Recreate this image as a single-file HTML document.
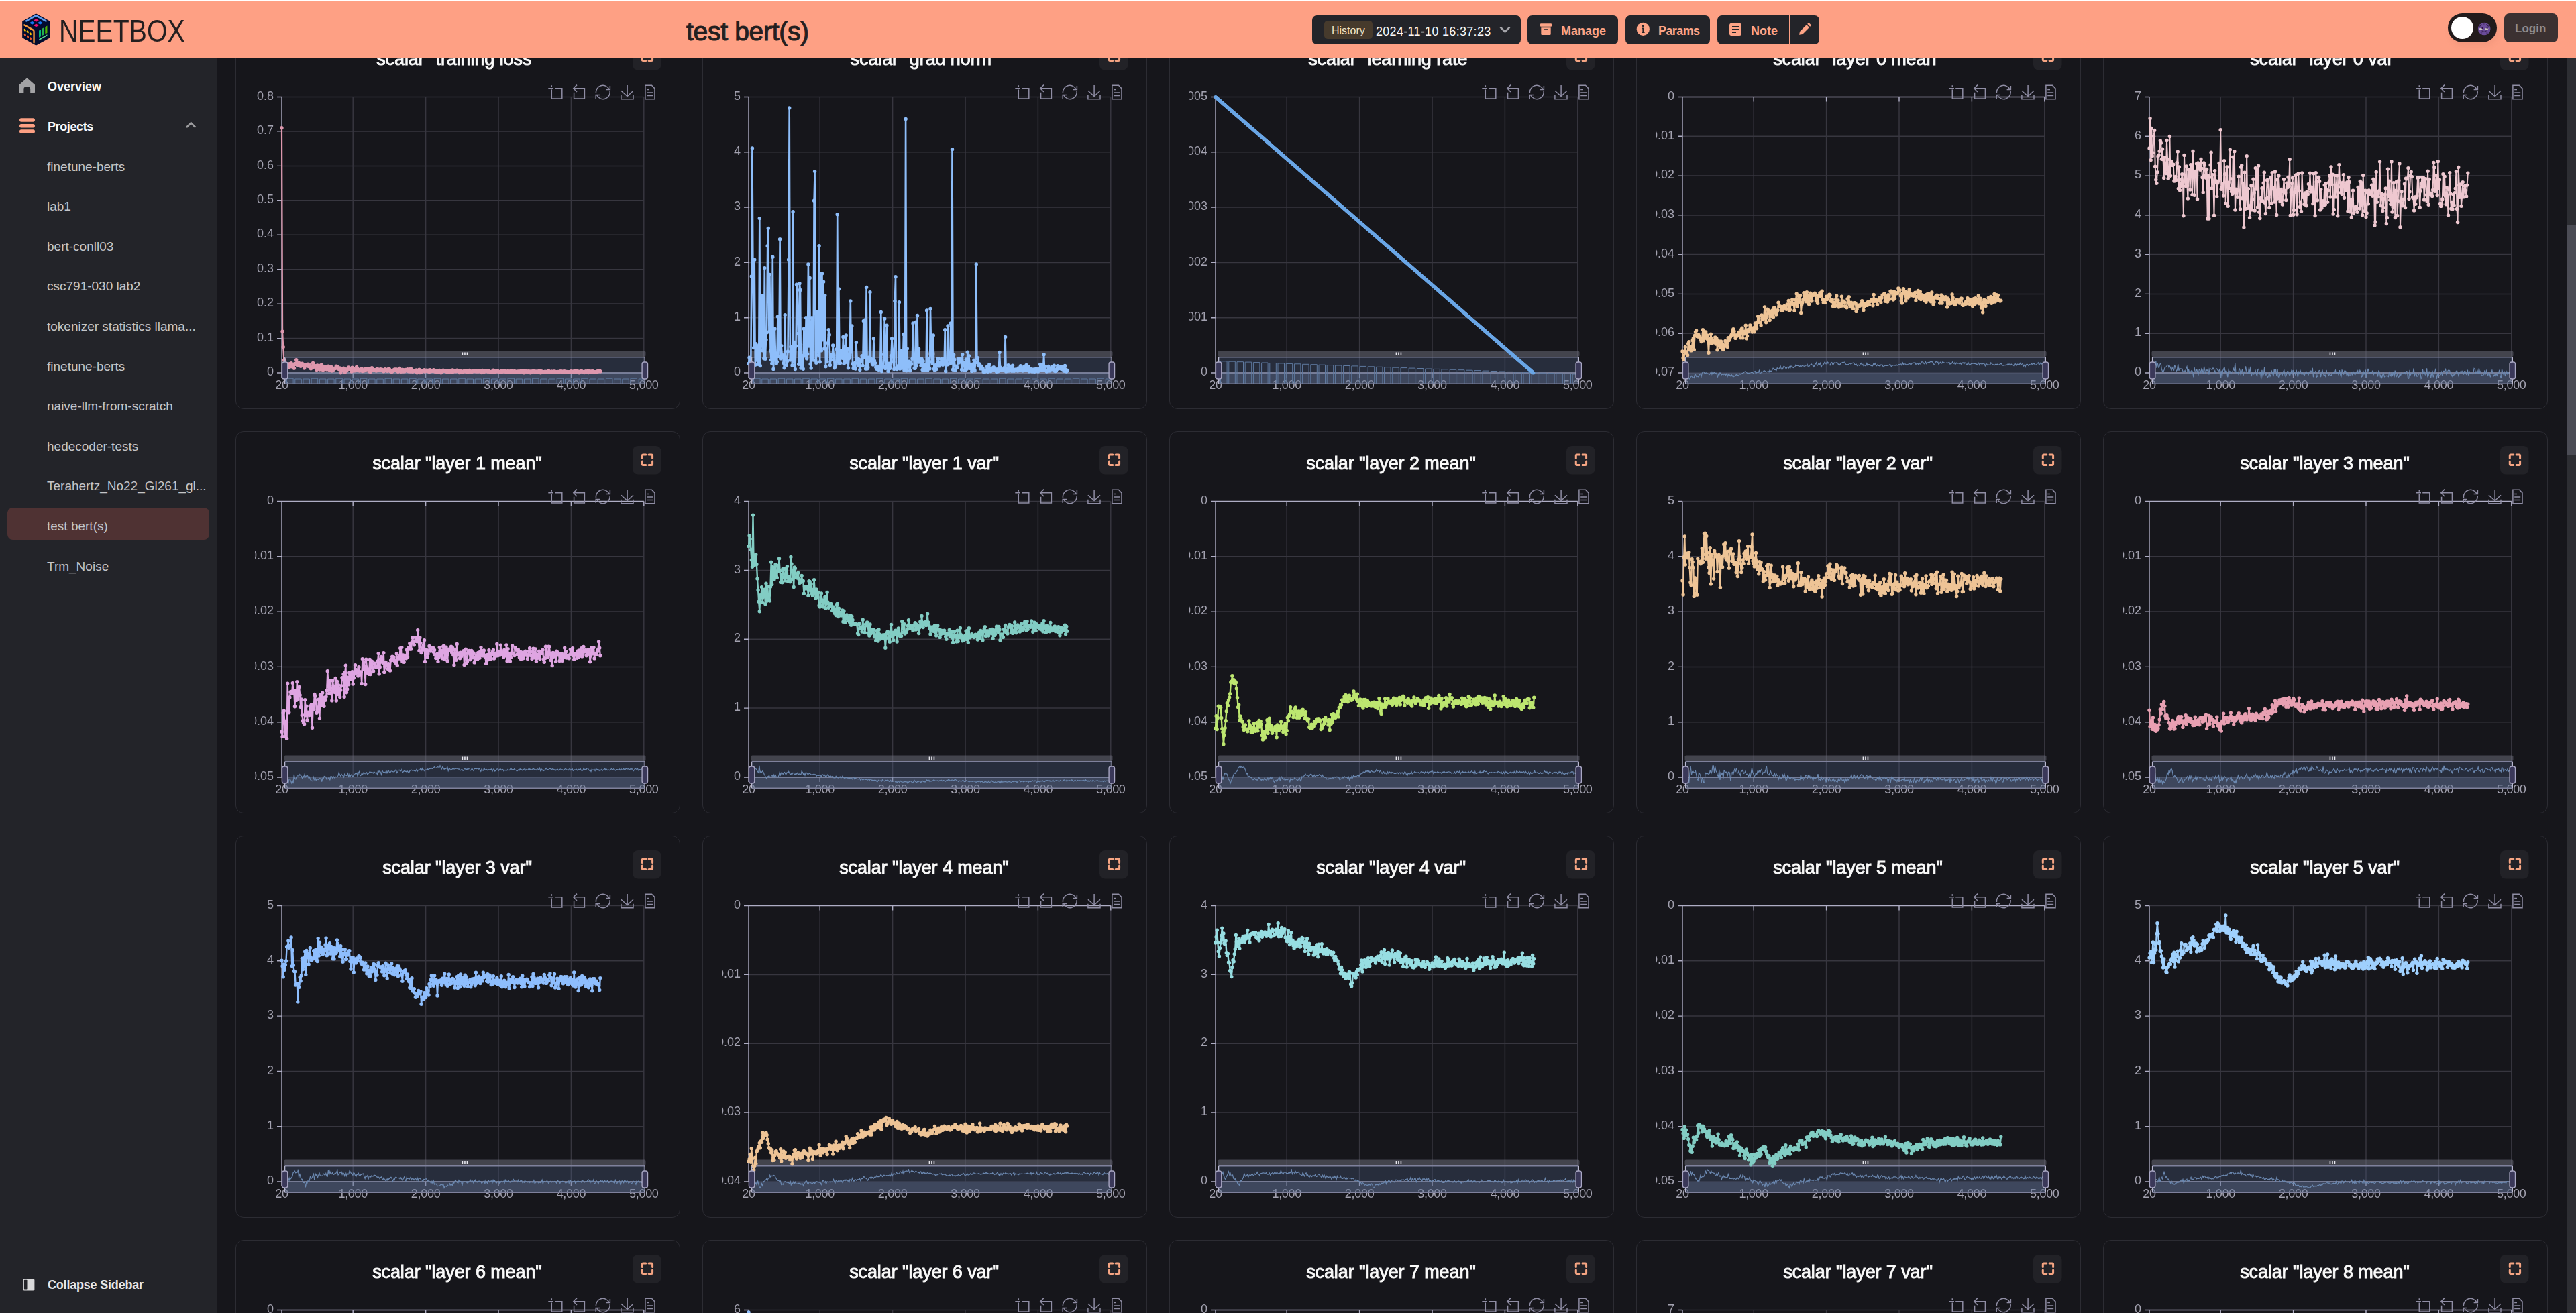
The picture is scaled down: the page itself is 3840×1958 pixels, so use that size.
<!DOCTYPE html><html><head><meta charset="utf-8"><style>
*{margin:0;padding:0;box-sizing:border-box}
html,body{width:3840px;height:1958px;overflow:hidden;background:#16161b;font-family:"Liberation Sans", sans-serif}
.hdr{position:absolute;left:0;top:1px;width:3840px;height:86px;background:#fea084}
.topline{position:absolute;left:0;top:0;width:3840px;height:1px;background:#fff}
.side{position:absolute;left:0;top:87px;width:323px;height:1871px;background:#232429}
.sideb{position:absolute;left:323px;top:87px;width:1px;height:1871px;background:#34353b}
.card{position:absolute;width:663px;height:570px;border:1px solid #2c2c33;border-radius:12px;background:transparent;will-change:transform}
.card svg{position:absolute;left:-1px;top:-1px}
.ttl{position:absolute;left:-2px;width:663px;top:31.5px;text-align:center;color:#fafafa;font-weight:normal;font-size:27px;letter-spacing:-0.1px;-webkit-text-stroke:0.9px #fafafa;white-space:nowrap}
.t{position:absolute;white-space:nowrap}
#root{position:absolute;left:0;top:0;width:3840px;height:1958px;overflow:hidden}
.item{position:absolute;left:70px;color:#c5c5c7;font-size:19px;white-space:nowrap}
.btn{position:absolute;top:23px;height:43px;background:#232429;border-radius:7px}
.sb{position:absolute;left:3827px;top:87px;width:13px;height:1871px;background:#2d2e33}
.sbt{position:absolute;left:3827px;top:335px;width:13px;height:344px;background:#4b4c55}
</style></head><body><div id="root"><div class="card" style="left:351px;top:40px"><svg width="663" height="570" viewBox="0 0 663 570" font-family='"Liberation Sans", sans-serif'><defs><clipPath id="clipL"><rect x="29" y="0" width="600" height="570"/></clipPath><clipPath id="clipP"><rect x="63.0" y="96.5" width="551.8" height="427.5"/></clipPath></defs><path d="M69.0,104.5H608.8M69.0,155.9H608.8M69.0,207.4H608.8M69.0,258.8H608.8M69.0,310.2H608.8M69.0,361.7H608.8M69.0,413.1H608.8M69.0,464.6H608.8M175.2,104.5V516.0M283.6,104.5V516.0M392.0,104.5V516.0M500.4,104.5V516.0M608.8,104.5V516.0" stroke="#37363f" stroke-width="1.5" fill="none"/><path d="M69.0,104.5V516.0M62.0,104.5H69.0M62.0,155.9H69.0M62.0,207.4H69.0M62.0,258.8H69.0M62.0,310.2H69.0M62.0,361.7H69.0M62.0,413.1H69.0M62.0,464.6H69.0M62.0,516.0H69.0M69.0,516.0H608.8M69.0,516.0V523.0M175.2,516.0V523.0M283.6,516.0V523.0M392.0,516.0V523.0M500.4,516.0V523.0M608.8,516.0V523.0" stroke="#aeadc4" stroke-width="1.4" fill="none"/><g clip-path="url(#clipL)" fill="#a3a2b0" font-size="18" text-anchor="end"><text x="57.0" y="108.7">0.8</text><text x="57.0" y="160.1">0.7</text><text x="57.0" y="211.6">0.6</text><text x="57.0" y="263.0">0.5</text><text x="57.0" y="314.4">0.4</text><text x="57.0" y="365.9">0.3</text><text x="57.0" y="417.3">0.2</text><text x="57.0" y="468.8">0.1</text><text x="57.0" y="520.2">0</text></g><g fill="#a3a2b0" font-size="18" text-anchor="middle" letter-spacing="-0.3"><text x="69.0" y="539.5">20</text><text x="175.2" y="539.5">1,000</text><text x="283.6" y="539.5">2,000</text><text x="392.0" y="539.5">3,000</text><text x="500.4" y="539.5">4,000</text><text x="608.8" y="539.5">5,000</text></g><rect x="72.5" y="483.5" width="539.0" height="8.5" rx="2" fill="rgb(112,114,128)" fill-opacity="0.5"/><path d="M338.45,485.5v4.5M341.95,485.5v4.5M345.45,485.5v4.5" stroke="#e8e8ee" stroke-width="1.6"/><rect x="73.6" y="492.8" width="536.6999999999999" height="39.400000000000034" fill="rgb(80,100,140)" fill-opacity="0.3"/><rect x="73.6" y="516.0" width="536.6999999999999" height="16.200000000000045" fill="rgb(120,135,170)" fill-opacity="0.3"/><path d="M76.6,532.2V524.2H86.1V532.2M88.8,532.2V525.0H98.3V532.2M101.0,532.2V525.0H110.5V532.2M113.2,532.2V524.2H122.7V532.2M125.4,532.2V525.0H134.9V532.2M137.6,532.2V525.0H147.1V532.2M149.8,532.2V524.2H159.3V532.2M162.0,532.2V525.0H171.5V532.2M174.2,532.2V525.0H183.7V532.2M186.4,532.2V524.2H195.9V532.2M198.6,532.2V525.0H208.1V532.2M210.8,532.2V525.0H220.3V532.2M223.0,532.2V524.2H232.5V532.2M235.2,532.2V525.0H244.7V532.2M247.4,532.2V525.0H256.9V532.2M259.6,532.2V524.2H269.1V532.2M271.8,532.2V525.0H281.3V532.2M284.0,532.2V525.0H293.5V532.2M296.2,532.2V524.2H305.7V532.2M308.4,532.2V525.0H317.9V532.2M320.6,532.2V525.0H330.1V532.2M332.8,532.2V524.2H342.3V532.2M345.0,532.2V525.0H354.5V532.2M357.2,532.2V525.0H366.7V532.2M369.4,532.2V524.2H378.9V532.2M381.6,532.2V525.0H391.1V532.2M393.8,532.2V525.0H403.3V532.2M406.0,532.2V524.2H415.5V532.2M418.2,532.2V525.0H427.7V532.2M430.4,532.2V525.0H439.9V532.2M442.6,532.2V524.2H452.1V532.2M454.8,532.2V525.0H464.3V532.2M467.0,532.2V525.0H476.5V532.2M479.2,532.2V524.2H488.7V532.2M491.4,532.2V525.0H500.9V532.2M503.6,532.2V525.0H513.1V532.2M515.8,532.2V524.2H525.3V532.2M528.0,532.2V525.0H537.5V532.2M540.2,532.2V525.0H549.7V532.2M552.4,532.2V524.2H561.9V532.2M564.6,532.2V525.0H574.1V532.2M576.8,532.2V525.0H586.3V532.2M589.0,532.2V524.2H598.5V532.2M601.2,532.2V525.0H610.7V532.2" fill="none" stroke="#5f7aa0" stroke-width="1"/><path d="M73.6,492.8H610.3M73.6,532.2H610.3" stroke="#7f819c" stroke-width="1.6"/><defs><marker id="mk0" markerWidth="8" markerHeight="8" refX="4" refY="4" markerUnits="userSpaceOnUse"><circle cx="4" cy="4" r="2.7" fill="#de98ae"/></marker></defs><polyline clip-path="url(#clipP)" points="69.0,150.8 70.1,454.3 71.2,477.4 72.3,497.2 73.3,496.8 74.4,502.2 75.5,505.4 76.6,506.7 77.7,502.7 78.8,506.7 79.8,508.3 80.9,502.6 82.0,503.0 83.1,501.7 84.2,506.9 85.3,503.8 86.3,504.2 87.4,509.2 88.5,502.4 89.6,503.3 90.7,496.6 91.8,503.9 92.8,505.2 93.9,500.9 95.0,504.3 96.1,502.2 97.2,506.3 98.3,504.6 99.4,502.3 100.4,503.4 101.5,505.3 102.6,509.0 103.7,504.5 104.8,505.7 105.9,504.0 106.9,505.5 108.0,503.1 109.1,506.5 110.2,505.9 111.3,504.7 112.4,509.7 113.4,507.9 114.5,508.3 115.6,501.5 116.7,507.3 117.8,505.4 118.9,505.6 119.9,508.1 121.0,511.5 122.1,505.0 123.2,508.7 124.3,505.8 125.4,511.1 126.4,509.0 127.5,504.8 128.6,504.4 129.7,511.3 130.8,511.5 131.9,508.4 133.0,506.6 134.0,508.0 135.1,507.7 136.2,510.9 137.3,507.2 138.4,506.1 139.5,509.8 140.5,512.2 141.6,510.7 142.7,507.2 143.8,513.0 144.9,509.3 146.0,511.4 147.0,509.5 148.1,509.8 149.2,509.3 150.3,506.2 151.4,508.6 152.5,506.7 153.5,509.9 154.6,510.7 155.7,509.0 156.8,515.7 157.9,509.9 159.0,509.6 160.1,512.5 161.1,509.1 162.2,511.2 163.3,515.0 164.4,510.6 165.5,512.2 166.6,511.3 167.6,510.6 168.7,508.0 169.8,510.3 170.9,510.6 172.0,509.8 173.1,514.0 174.1,508.3 175.2,512.7 176.3,509.9 177.4,512.8 178.5,512.6 179.6,511.6 180.6,507.5 181.7,509.7 182.8,512.1 183.9,511.5 185.0,513.1 186.1,511.2 187.1,512.2 188.2,510.0 189.3,513.6 190.4,511.9 191.5,512.7 192.6,512.6 193.7,510.2 194.7,511.2 195.8,510.5 196.9,509.6 198.0,509.7 199.1,513.8 200.2,510.8 201.2,514.5 202.3,511.8 203.4,508.7 204.5,512.1 205.6,512.4 206.7,511.6 207.7,511.8 208.8,511.9 209.9,513.1 211.0,510.3 212.1,510.7 213.2,512.3 214.2,511.6 215.3,511.1 216.4,510.6 217.5,511.6 218.6,511.2 219.7,512.6 220.8,513.8 221.8,513.0 222.9,510.8 224.0,510.9 225.1,512.1 226.2,513.2 227.3,512.0 228.3,510.1 229.4,510.6 230.5,513.4 231.6,512.6 232.7,514.5 233.8,514.1 234.8,512.3 235.9,512.6 237.0,511.3 238.1,511.0 239.2,511.6 240.3,511.0 241.3,513.4 242.4,514.2 243.5,512.1 244.6,509.4 245.7,512.3 246.8,514.3 247.8,512.5 248.9,511.1 250.0,514.1 251.1,511.9 252.2,513.7 253.3,511.4 254.4,512.0 255.4,512.6 256.5,510.6 257.6,513.5 258.7,513.8 259.8,510.8 260.9,514.1 261.9,510.5 263.0,513.1 264.1,514.3 265.2,513.1 266.3,513.0 267.4,512.9 268.4,513.4 269.5,512.0 270.6,515.7 271.7,513.8 272.8,513.5 273.9,511.2 274.9,515.5 276.0,513.7 277.1,514.5 278.2,514.0 279.3,512.6 280.4,512.9 281.5,511.8 282.5,514.0 283.6,513.1 284.7,512.1 285.8,512.4 286.9,513.8 288.0,512.2 289.0,514.4 290.1,511.6 291.2,513.3 292.3,513.6 293.4,513.2 294.5,512.6 295.5,511.7 296.6,513.7 297.7,513.9 298.8,513.0 299.9,514.4 301.0,515.3 302.0,512.7 303.1,514.0 304.2,512.5 305.3,514.6 306.4,515.7 307.5,513.4 308.5,513.5 309.6,512.1 310.7,513.2 311.8,513.4 312.9,513.1 314.0,514.0 315.1,513.6 316.1,515.0 317.2,513.2 318.3,514.5 319.4,514.2 320.5,513.1 321.6,512.9 322.6,514.7 323.7,511.9 324.8,514.3 325.9,513.0 327.0,512.9 328.1,513.6 329.1,513.7 330.2,512.2 331.3,513.0 332.4,513.4 333.5,515.5 334.6,514.5 335.6,512.8 336.7,513.7 337.8,514.7 338.9,514.5 340.0,514.2 341.1,513.3 342.2,513.6 343.2,513.0 344.3,514.6 345.4,513.1 346.5,514.4 347.6,514.2 348.7,512.4 349.7,513.9 350.8,514.1 351.9,514.1 353.0,514.3 354.1,512.6 355.2,512.8 356.2,513.4 357.3,513.8 358.4,513.1 359.5,514.1 360.6,513.6 361.7,513.7 362.7,513.9 363.8,512.7 364.9,512.6 366.0,512.9 367.1,515.6 368.2,512.5 369.3,513.5 370.3,514.4 371.4,514.1 372.5,513.1 373.6,513.1 374.7,513.4 375.8,514.0 376.8,514.1 377.9,513.4 379.0,514.2 380.1,514.8 381.2,514.6 382.3,514.2 383.3,513.9 384.4,512.3 385.5,515.2 386.6,513.7 387.7,514.2 388.8,513.9 389.8,513.1 390.9,513.2 392.0,514.3 393.1,514.6 394.2,515.2 395.3,514.2 396.3,513.2 397.4,514.4 398.5,513.6 399.6,513.6 400.7,513.9 401.8,513.3 402.9,514.3 403.9,514.8 405.0,515.1 406.1,513.5 407.2,514.5 408.3,514.4 409.4,513.6 410.4,514.8 411.5,512.9 412.6,513.7 413.7,514.6 414.8,514.7 415.9,513.4 416.9,515.1 418.0,514.7 419.1,514.2 420.2,514.1 421.3,514.2 422.4,514.0 423.4,514.5 424.5,514.3 425.6,513.3 426.7,513.8 427.8,514.6 428.9,513.0 430.0,515.7 431.0,514.2 432.1,513.8 433.2,513.6 434.3,514.2 435.4,514.5 436.5,513.8 437.5,514.4 438.6,513.9 439.7,515.7 440.8,514.0 441.9,514.9 443.0,513.6 444.0,513.7 445.1,513.8 446.2,514.6 447.3,514.0 448.4,514.5 449.5,514.1 450.5,514.4 451.6,514.9 452.7,512.9 453.8,513.8 454.9,515.7 456.0,513.7 457.0,515.3 458.1,514.5 459.2,514.7 460.3,514.7 461.4,514.1 462.5,514.5 463.6,515.3 464.6,514.3 465.7,514.1 466.8,513.1 467.9,514.6 469.0,515.2 470.1,514.6 471.1,513.9 472.2,515.0 473.3,514.8 474.4,514.0 475.5,514.3 476.6,514.2 477.6,514.8 478.7,514.9 479.8,514.6 480.9,514.5 482.0,514.6 483.1,514.1 484.1,514.0 485.2,514.0 486.3,514.0 487.4,515.0 488.5,515.1 489.6,513.8 490.7,514.3 491.7,514.3 492.8,515.2 493.9,514.5 495.0,514.8 496.1,515.0 497.2,514.8 498.2,515.4 499.3,514.3 500.4,513.6 501.5,514.8 502.6,514.3 503.7,515.1 504.7,513.9 505.8,513.1 506.9,515.2 508.0,514.5 509.1,513.4 510.2,514.1 511.2,514.3 512.3,515.7 513.4,514.5 514.5,513.8 515.6,513.4 516.7,514.0 517.7,514.8 518.8,514.8 519.9,515.6 521.0,515.1 522.1,513.6 523.2,514.5 524.3,515.3 525.3,513.5 526.4,515.5 527.5,513.6 528.6,514.6 529.7,514.2 530.8,513.9 531.8,514.2 532.9,513.6 534.0,514.4 535.1,514.6 536.2,514.8 537.3,515.4 538.3,514.9 539.4,513.8 540.5,513.9 541.6,513.5 542.7,512.6 543.8,513.9" fill="none" stroke="#de98ae" stroke-width="2.2" stroke-linejoin="round" marker-start="url(#mk0)" marker-mid="url(#mk0)" marker-end="url(#mk0)"/><path d="M73.6,492.8V532.2" stroke="#b9b8d0" stroke-width="1.4"/><rect x="69.39999999999999" y="500" width="8.4" height="25" rx="3" fill="#3a3859" stroke="#a9a7c4" stroke-width="1.4"/><path d="M610.3,492.8V532.2" stroke="#b9b8d0" stroke-width="1.4"/><rect x="606.0999999999999" y="500" width="8.4" height="25" rx="3" fill="#3a3859" stroke="#a9a7c4" stroke-width="1.4"/><path d="M471.3,87.3V89.8M471.3,93.6V107.1H486.8V91.8H476.2M466.3,91.8H474M509,86.6L503.8,91.8L509,97M503.8,91.8H520.4V107.1H504.6V97.8M537.5,99.0A10.3,10.3 0 0 1 556.8999999999999,93.0M558.0999999999999,96.0A10.3,10.3 0 0 1 538.7,102.0M558.3999999999999,88.0V93.5H552.5999999999999M537.2,107.0V101.5H543.0M584.1,87V103M574.9,95.2L584.1,103.6L593,95.2M574.9,101.8V107.7H593V101.8M610.9,87.3H620.5L625,91.9V107.7H610.9ZM613.2,93.6H617M613.2,98H622.2M613.2,102.5H622.2" fill="none" stroke="#8f8da4" stroke-width="1.5"/><rect x="592" y="22" width="42.5" height="42.5" rx="8" fill="#222227"/><path d="M606.3,40.6 V36.6 Q606.3,35.1 607.8,35.1 H611.8 M616.0999999999999,35.1 H620.0999999999999 Q621.5999999999999,35.1 621.5999999999999,36.6 V40.6 M621.5999999999999,44.900000000000006 V48.900000000000006 Q621.5999999999999,50.400000000000006 620.0999999999999,50.400000000000006 H616.0999999999999 M611.8,50.400000000000006 H607.8 Q606.3,50.400000000000006 606.3,48.900000000000006 V44.900000000000006" fill="none" stroke="#f6a583" stroke-width="3" stroke-linecap="round"/></svg><div class="ttl">scalar "training loss"</div></div><div class="card" style="left:1047px;top:40px"><svg width="663" height="570" viewBox="0 0 663 570" font-family='"Liberation Sans", sans-serif'><defs><clipPath id="clipL"><rect x="29" y="0" width="600" height="570"/></clipPath><clipPath id="clipP"><rect x="63.0" y="96.5" width="551.8" height="427.5"/></clipPath></defs><path d="M69.0,104.5H608.8M69.0,186.8H608.8M69.0,269.1H608.8M69.0,351.4H608.8M69.0,433.7H608.8M175.2,104.5V516.0M283.6,104.5V516.0M392.0,104.5V516.0M500.4,104.5V516.0M608.8,104.5V516.0" stroke="#37363f" stroke-width="1.5" fill="none"/><path d="M69.0,104.5V516.0M62.0,104.5H69.0M62.0,186.8H69.0M62.0,269.1H69.0M62.0,351.4H69.0M62.0,433.7H69.0M62.0,516.0H69.0M69.0,516.0H608.8M69.0,516.0V523.0M175.2,516.0V523.0M283.6,516.0V523.0M392.0,516.0V523.0M500.4,516.0V523.0M608.8,516.0V523.0" stroke="#aeadc4" stroke-width="1.4" fill="none"/><g clip-path="url(#clipL)" fill="#a3a2b0" font-size="18" text-anchor="end"><text x="57.0" y="108.7">5</text><text x="57.0" y="191.0">4</text><text x="57.0" y="273.3">3</text><text x="57.0" y="355.6">2</text><text x="57.0" y="437.9">1</text><text x="57.0" y="520.2">0</text></g><g fill="#a3a2b0" font-size="18" text-anchor="middle" letter-spacing="-0.3"><text x="69.0" y="539.5">20</text><text x="175.2" y="539.5">1,000</text><text x="283.6" y="539.5">2,000</text><text x="392.0" y="539.5">3,000</text><text x="500.4" y="539.5">4,000</text><text x="608.8" y="539.5">5,000</text></g><rect x="72.5" y="483.5" width="539.0" height="8.5" rx="2" fill="rgb(112,114,128)" fill-opacity="0.5"/><path d="M338.45,485.5v4.5M341.95,485.5v4.5M345.45,485.5v4.5" stroke="#e8e8ee" stroke-width="1.6"/><rect x="73.6" y="492.8" width="536.6999999999999" height="39.400000000000034" fill="rgb(80,100,140)" fill-opacity="0.3"/><rect x="73.6" y="516.0" width="536.6999999999999" height="16.200000000000045" fill="rgb(120,135,170)" fill-opacity="0.3"/><path d="M76.6,532.2V524.2H86.1V532.2M88.8,532.2V525.0H98.3V532.2M101.0,532.2V525.0H110.5V532.2M113.2,532.2V524.2H122.7V532.2M125.4,532.2V525.0H134.9V532.2M137.6,532.2V525.0H147.1V532.2M149.8,532.2V524.2H159.3V532.2M162.0,532.2V525.0H171.5V532.2M174.2,532.2V525.0H183.7V532.2M186.4,532.2V524.2H195.9V532.2M198.6,532.2V525.0H208.1V532.2M210.8,532.2V525.0H220.3V532.2M223.0,532.2V524.2H232.5V532.2M235.2,532.2V525.0H244.7V532.2M247.4,532.2V525.0H256.9V532.2M259.6,532.2V524.2H269.1V532.2M271.8,532.2V525.0H281.3V532.2M284.0,532.2V525.0H293.5V532.2M296.2,532.2V524.2H305.7V532.2M308.4,532.2V525.0H317.9V532.2M320.6,532.2V525.0H330.1V532.2M332.8,532.2V524.2H342.3V532.2M345.0,532.2V525.0H354.5V532.2M357.2,532.2V525.0H366.7V532.2M369.4,532.2V524.2H378.9V532.2M381.6,532.2V525.0H391.1V532.2M393.8,532.2V525.0H403.3V532.2M406.0,532.2V524.2H415.5V532.2M418.2,532.2V525.0H427.7V532.2M430.4,532.2V525.0H439.9V532.2M442.6,532.2V524.2H452.1V532.2M454.8,532.2V525.0H464.3V532.2M467.0,532.2V525.0H476.5V532.2M479.2,532.2V524.2H488.7V532.2M491.4,532.2V525.0H500.9V532.2M503.6,532.2V525.0H513.1V532.2M515.8,532.2V524.2H525.3V532.2M528.0,532.2V525.0H537.5V532.2M540.2,532.2V525.0H549.7V532.2M552.4,532.2V524.2H561.9V532.2M564.6,532.2V525.0H574.1V532.2M576.8,532.2V525.0H586.3V532.2M589.0,532.2V524.2H598.5V532.2M601.2,532.2V525.0H610.7V532.2" fill="none" stroke="#5f7aa0" stroke-width="1"/><path d="M73.6,492.8H610.3M73.6,532.2H610.3" stroke="#7f819c" stroke-width="1.6"/><defs><marker id="mk1" markerWidth="8" markerHeight="8" refX="4" refY="4" markerUnits="userSpaceOnUse"><circle cx="4" cy="4" r="2.7" fill="#8ebefa"/></marker></defs><polyline clip-path="url(#clipP)" points="69.0,502.5 70.1,493.2 71.2,503.6 72.3,500.4 73.3,372.0 74.4,181.0 75.5,376.1 76.6,478.6 77.7,347.3 78.8,504.3 79.8,472.6 80.9,497.0 82.0,475.6 83.1,503.2 84.2,498.2 85.3,285.6 86.3,505.5 87.4,454.7 88.5,400.8 89.6,482.8 90.7,400.8 91.8,494.8 92.8,359.6 93.9,495.2 95.0,466.6 96.1,455.8 97.2,326.7 98.3,300.4 99.4,454.8 100.4,369.5 101.5,483.0 102.6,496.7 103.7,502.1 104.8,343.2 105.9,510.4 106.9,495.3 108.0,450.2 109.1,491.7 110.2,502.2 111.3,499.6 112.4,432.1 113.4,491.4 114.5,459.0 115.6,316.8 116.7,494.9 117.8,475.6 118.9,493.2 119.9,489.7 121.0,501.6 122.1,508.7 123.2,429.6 124.3,493.2 125.4,504.6 126.4,498.8 127.5,484.1 128.6,347.3 129.7,121.0 130.8,497.0 131.9,477.1 133.0,489.0 134.0,505.0 135.1,275.7 136.2,500.0 137.3,470.5 138.4,510.5 139.5,476.0 140.5,384.3 141.6,392.5 142.7,457.4 143.8,503.2 144.9,382.7 146.0,392.5 147.0,509.1 148.1,490.3 149.2,498.8 150.3,510.3 151.4,450.2 152.5,474.1 153.5,490.7 154.6,433.7 155.7,494.9 156.8,488.0 157.9,353.9 159.0,476.0 160.1,374.4 161.1,503.0 162.2,509.0 163.3,433.7 164.4,480.4 165.5,497.1 166.6,259.2 167.6,215.6 168.7,497.4 169.8,501.2 170.9,425.5 172.0,482.5 173.1,489.6 174.1,326.7 175.2,499.8 176.3,367.9 177.4,482.9 178.5,367.9 179.6,466.7 180.6,380.2 181.7,479.9 182.8,400.8 183.9,506.7 185.0,480.8 186.1,499.5 187.1,471.6 188.2,451.8 189.3,459.2 190.4,504.5 191.5,496.7 192.6,488.9 193.7,492.0 194.7,474.9 195.8,489.8 196.9,508.7 198.0,507.0 199.1,503.3 200.2,480.8 201.2,279.8 202.3,500.0 203.4,390.9 204.5,502.1 205.6,501.6 206.7,482.6 207.7,488.2 208.8,494.3 209.9,462.5 211.0,502.3 212.1,476.5 213.2,500.6 214.2,460.0 215.3,497.1 216.4,480.4 217.5,508.7 218.6,494.5 219.7,489.7 220.8,409.0 221.8,485.1 222.9,446.0 224.0,502.8 225.1,509.4 226.2,506.7 227.3,501.5 228.3,510.0 229.4,470.7 230.5,494.1 231.6,501.7 232.7,505.6 233.8,496.2 234.8,511.5 235.9,498.8 237.0,498.0 238.1,490.6 239.2,505.5 240.3,438.6 241.3,492.4 242.4,437.0 243.5,510.0 244.6,388.4 245.7,509.9 246.8,507.9 247.8,493.3 248.9,498.4 250.0,395.8 251.1,495.7 252.2,495.8 253.3,502.0 254.4,504.1 255.4,465.0 256.5,498.2 257.6,501.6 258.7,507.8 259.8,510.2 260.9,510.1 261.9,506.4 263.0,511.4 264.1,510.1 265.2,506.5 266.3,425.5 267.4,513.5 268.4,504.1 269.5,506.5 270.6,488.7 271.7,435.3 272.8,509.5 273.9,508.3 274.9,445.2 276.0,508.9 277.1,513.4 278.2,502.1 279.3,509.4 280.4,508.8 281.5,490.8 282.5,465.0 283.6,481.9 284.7,499.7 285.8,510.5 286.9,409.0 288.0,372.8 289.0,508.6 290.1,510.6 291.2,508.2 292.3,505.4 293.4,410.7 294.5,510.0 295.5,507.1 296.6,483.5 297.7,509.1 298.8,506.7 299.9,458.4 301.0,512.3 302.0,510.7 303.1,137.4 304.2,512.8 305.3,479.9 306.4,507.5 307.5,501.1 308.5,499.1 309.6,512.7 310.7,501.8 311.8,503.0 312.9,495.1 314.0,441.9 315.1,492.5 316.1,509.2 317.2,509.3 318.3,440.3 319.4,505.8 320.5,430.4 321.6,500.1 322.6,480.4 323.7,500.1 324.8,495.7 325.9,505.1 327.0,495.1 328.1,511.4 329.1,498.8 330.2,511.7 331.3,511.2 332.4,503.7 333.5,511.8 334.6,423.0 335.6,512.4 336.7,494.6 337.8,500.6 338.9,509.9 340.0,420.5 341.1,479.6 342.2,499.4 343.2,502.2 344.3,460.0 345.4,510.3 346.5,511.9 347.6,504.8 348.7,510.8 349.7,505.6 350.8,494.7 351.9,494.9 353.0,505.9 354.1,501.6 355.2,500.9 356.2,495.4 357.3,497.9 358.4,504.3 359.5,495.3 360.6,502.0 361.7,451.8 362.7,513.5 363.8,499.5 364.9,504.1 366.0,446.0 367.1,493.9 368.2,502.5 369.3,494.3 370.3,441.9 371.4,501.3 372.5,182.7 373.6,511.3 374.7,489.2 375.8,496.2 376.8,512.3 377.9,506.1 379.0,508.6 380.1,508.5 381.2,495.0 382.3,500.9 383.3,499.5 384.4,495.2 385.5,495.6 386.6,511.3 387.7,488.8 388.8,504.3 389.8,501.0 390.9,512.1 392.0,512.0 393.1,495.9 394.2,510.3 395.3,485.2 396.3,508.8 397.4,490.6 398.5,503.4 399.6,509.6 400.7,506.0 401.8,513.4 402.9,503.3 403.9,512.6 405.0,497.2 406.1,512.8 407.2,500.7 408.3,353.9 409.4,495.1 410.4,493.7 411.5,505.2 412.6,502.7 413.7,506.6 414.8,509.9 415.9,506.3 416.9,510.0 418.0,509.3 419.1,514.3 420.2,513.6 421.3,514.2 422.4,511.9 423.4,513.4 424.5,507.0 425.6,514.2 426.7,512.2 427.8,503.7 428.9,510.2 430.0,513.5 431.0,509.2 432.1,512.1 433.2,509.9 434.3,507.6 435.4,511.9 436.5,510.2 437.5,511.1 438.6,514.3 439.7,511.0 440.8,513.7 441.9,509.5 443.0,485.5 444.0,507.9 445.1,511.7 446.2,510.6 447.3,512.0 448.4,510.6 449.5,511.2 450.5,508.1 451.6,462.5 452.7,513.9 453.8,509.5 454.9,512.9 456.0,504.6 457.0,513.0 458.1,511.7 459.2,506.4 460.3,511.4 461.4,513.2 462.5,505.2 463.6,510.8 464.6,513.2 465.7,512.5 466.8,511.1 467.9,511.3 469.0,511.6 470.1,513.0 471.1,508.9 472.2,511.6 473.3,512.5 474.4,505.8 475.5,510.7 476.6,509.0 477.6,513.1 478.7,512.4 479.8,506.4 480.9,507.1 482.0,512.4 483.1,504.4 484.1,510.5 485.2,511.5 486.3,506.6 487.4,513.9 488.5,512.0 489.6,510.6 490.7,510.6 491.7,514.0 492.8,513.1 493.9,511.0 495.0,514.2 496.1,513.6 497.2,510.2 498.2,512.9 499.3,510.7 500.4,513.9 501.5,510.8 502.6,510.9 503.7,503.4 504.7,509.7 505.8,511.7 506.9,503.7 508.0,511.8 509.1,488.8 510.2,512.4 511.2,507.4 512.3,512.6 513.4,514.1 514.5,512.2 515.6,506.4 516.7,510.1 517.7,513.0 518.8,511.5 519.9,508.9 521.0,506.9 522.1,508.6 523.2,511.6 524.3,505.3 525.3,513.2 526.4,513.6 527.5,512.7 528.6,510.3 529.7,505.6 530.8,510.1 531.8,509.4 532.9,508.8 534.0,507.3 535.1,510.3 536.2,506.9 537.3,511.0 538.3,510.8 539.4,513.3 540.5,505.5 541.6,511.3 542.7,514.1 543.8,512.2" fill="none" stroke="#8ebefa" stroke-width="2.6" stroke-linejoin="round" marker-start="url(#mk1)" marker-mid="url(#mk1)" marker-end="url(#mk1)"/><path d="M73.6,492.8V532.2" stroke="#b9b8d0" stroke-width="1.4"/><rect x="69.39999999999999" y="500" width="8.4" height="25" rx="3" fill="#3a3859" stroke="#a9a7c4" stroke-width="1.4"/><path d="M610.3,492.8V532.2" stroke="#b9b8d0" stroke-width="1.4"/><rect x="606.0999999999999" y="500" width="8.4" height="25" rx="3" fill="#3a3859" stroke="#a9a7c4" stroke-width="1.4"/><path d="M471.3,87.3V89.8M471.3,93.6V107.1H486.8V91.8H476.2M466.3,91.8H474M509,86.6L503.8,91.8L509,97M503.8,91.8H520.4V107.1H504.6V97.8M537.5,99.0A10.3,10.3 0 0 1 556.8999999999999,93.0M558.0999999999999,96.0A10.3,10.3 0 0 1 538.7,102.0M558.3999999999999,88.0V93.5H552.5999999999999M537.2,107.0V101.5H543.0M584.1,87V103M574.9,95.2L584.1,103.6L593,95.2M574.9,101.8V107.7H593V101.8M610.9,87.3H620.5L625,91.9V107.7H610.9ZM613.2,93.6H617M613.2,98H622.2M613.2,102.5H622.2" fill="none" stroke="#8f8da4" stroke-width="1.5"/><rect x="592" y="22" width="42.5" height="42.5" rx="8" fill="#222227"/><path d="M606.3,40.6 V36.6 Q606.3,35.1 607.8,35.1 H611.8 M616.0999999999999,35.1 H620.0999999999999 Q621.5999999999999,35.1 621.5999999999999,36.6 V40.6 M621.5999999999999,44.900000000000006 V48.900000000000006 Q621.5999999999999,50.400000000000006 620.0999999999999,50.400000000000006 H616.0999999999999 M611.8,50.400000000000006 H607.8 Q606.3,50.400000000000006 606.3,48.900000000000006 V44.900000000000006" fill="none" stroke="#f6a583" stroke-width="3" stroke-linecap="round"/></svg><div class="ttl">scalar "grad norm"</div></div><div class="card" style="left:1743px;top:40px"><svg width="663" height="570" viewBox="0 0 663 570" font-family='"Liberation Sans", sans-serif'><defs><clipPath id="clipL"><rect x="29" y="0" width="600" height="570"/></clipPath><clipPath id="clipP"><rect x="63.0" y="96.5" width="551.8" height="427.5"/></clipPath></defs><path d="M69.0,104.5H608.8M69.0,186.8H608.8M69.0,269.1H608.8M69.0,351.4H608.8M69.0,433.7H608.8M175.2,104.5V516.0M283.6,104.5V516.0M392.0,104.5V516.0M500.4,104.5V516.0M608.8,104.5V516.0" stroke="#37363f" stroke-width="1.5" fill="none"/><path d="M69.0,104.5V516.0M62.0,104.5H69.0M62.0,186.8H69.0M62.0,269.1H69.0M62.0,351.4H69.0M62.0,433.7H69.0M62.0,516.0H69.0M69.0,516.0H608.8M69.0,516.0V523.0M175.2,516.0V523.0M283.6,516.0V523.0M392.0,516.0V523.0M500.4,516.0V523.0M608.8,516.0V523.0" stroke="#aeadc4" stroke-width="1.4" fill="none"/><g clip-path="url(#clipL)" fill="#a3a2b0" font-size="18" text-anchor="end"><text x="57.0" y="108.7">005</text><text x="57.0" y="191.0">004</text><text x="57.0" y="273.3">003</text><text x="57.0" y="355.6">002</text><text x="57.0" y="437.9">001</text><text x="57.0" y="520.2">0</text></g><g fill="#a3a2b0" font-size="18" text-anchor="middle" letter-spacing="-0.3"><text x="69.0" y="539.5">20</text><text x="175.2" y="539.5">1,000</text><text x="283.6" y="539.5">2,000</text><text x="392.0" y="539.5">3,000</text><text x="500.4" y="539.5">4,000</text><text x="608.8" y="539.5">5,000</text></g><rect x="72.5" y="483.5" width="539.0" height="8.5" rx="2" fill="rgb(112,114,128)" fill-opacity="0.5"/><path d="M338.45,485.5v4.5M341.95,485.5v4.5M345.45,485.5v4.5" stroke="#e8e8ee" stroke-width="1.6"/><rect x="73.6" y="492.8" width="536.6999999999999" height="39.400000000000034" fill="rgb(80,100,140)" fill-opacity="0.3"/><rect x="73.6" y="516.0" width="536.6999999999999" height="16.200000000000045" fill="rgb(120,135,170)" fill-opacity="0.3"/><path d="M76.6,532.2V498.8H86.1V532.2M88.8,532.2V499.2H98.3V532.2M101.0,532.2V499.7H110.5V532.2M113.2,532.2V500.1H122.7V532.2M125.4,532.2V500.6H134.9V532.2M137.6,532.2V501.0H147.1V532.2M149.8,532.2V501.5H159.3V532.2M162.0,532.2V501.9H171.5V532.2M174.2,532.2V502.4H183.7V532.2M186.4,532.2V502.8H195.9V532.2M198.6,532.2V503.3H208.1V532.2M210.8,532.2V503.7H220.3V532.2M223.0,532.2V504.2H232.5V532.2M235.2,532.2V504.6H244.7V532.2M247.4,532.2V505.0H256.9V532.2M259.6,532.2V505.5H269.1V532.2M271.8,532.2V505.9H281.3V532.2M284.0,532.2V506.4H293.5V532.2M296.2,532.2V506.8H305.7V532.2M308.4,532.2V507.3H317.9V532.2M320.6,532.2V507.7H330.1V532.2M332.8,532.2V508.2H342.3V532.2M345.0,532.2V508.6H354.5V532.2M357.2,532.2V509.1H366.7V532.2M369.4,532.2V509.5H378.9V532.2M381.6,532.2V510.0H391.1V532.2M393.8,532.2V510.4H403.3V532.2M406.0,532.2V510.8H415.5V532.2M418.2,532.2V511.3H427.7V532.2M430.4,532.2V511.7H439.9V532.2M442.6,532.2V512.2H452.1V532.2M454.8,532.2V512.6H464.3V532.2M467.0,532.2V513.1H476.5V532.2M479.2,532.2V513.5H488.7V532.2M491.4,532.2V514.0H500.9V532.2M503.6,532.2V514.4H513.1V532.2M515.8,532.2V514.9H525.3V532.2M528.0,532.2V515.3H537.5V532.2M540.2,532.2V515.7H549.7V532.2M552.4,532.2V516.2H561.9V532.2M564.6,532.2V516.6H574.1V532.2M576.8,532.2V517.1H586.3V532.2M589.0,532.2V517.5H598.5V532.2M601.2,532.2V518.0H610.7V532.2" fill="none" stroke="#5f7aa0" stroke-width="1"/><path d="M73.6,492.8H610.3M73.6,532.2H610.3" stroke="#7f819c" stroke-width="1.6"/><defs><marker id="mk2" markerWidth="8" markerHeight="8" refX="4" refY="4" markerUnits="userSpaceOnUse"><circle cx="4" cy="4" r="2.6" fill="#6aa6e6"/></marker></defs><polyline clip-path="url(#clipP)" points="69.0,104.5 70.1,105.4 71.2,106.4 72.3,107.3 73.3,108.3 74.4,109.2 75.5,110.1 76.6,111.1 77.7,112.0 78.8,113.0 79.8,113.9 80.9,114.9 82.0,115.8 83.1,116.7 84.2,117.7 85.3,118.6 86.3,119.6 87.4,120.5 88.5,121.4 89.6,122.4 90.7,123.3 91.8,124.3 92.8,125.2 93.9,126.2 95.0,127.1 96.1,128.0 97.2,129.0 98.3,129.9 99.4,130.9 100.4,131.8 101.5,132.7 102.6,133.7 103.7,134.6 104.8,135.6 105.9,136.5 106.9,137.5 108.0,138.4 109.1,139.3 110.2,140.3 111.3,141.2 112.4,142.2 113.4,143.1 114.5,144.0 115.6,145.0 116.7,145.9 117.8,146.9 118.9,147.8 119.9,148.8 121.0,149.7 122.1,150.6 123.2,151.6 124.3,152.5 125.4,153.5 126.4,154.4 127.5,155.3 128.6,156.3 129.7,157.2 130.8,158.2 131.9,159.1 133.0,160.1 134.0,161.0 135.1,161.9 136.2,162.9 137.3,163.8 138.4,164.8 139.5,165.7 140.5,166.6 141.6,167.6 142.7,168.5 143.8,169.5 144.9,170.4 146.0,171.4 147.0,172.3 148.1,173.2 149.2,174.2 150.3,175.1 151.4,176.1 152.5,177.0 153.5,177.9 154.6,178.9 155.7,179.8 156.8,180.8 157.9,181.7 159.0,182.7 160.1,183.6 161.1,184.5 162.2,185.5 163.3,186.4 164.4,187.4 165.5,188.3 166.6,189.2 167.6,190.2 168.7,191.1 169.8,192.1 170.9,193.0 172.0,194.0 173.1,194.9 174.1,195.8 175.2,196.8 176.3,197.7 177.4,198.7 178.5,199.6 179.6,200.5 180.6,201.5 181.7,202.4 182.8,203.4 183.9,204.3 185.0,205.3 186.1,206.2 187.1,207.1 188.2,208.1 189.3,209.0 190.4,210.0 191.5,210.9 192.6,211.8 193.7,212.8 194.7,213.7 195.8,214.7 196.9,215.6 198.0,216.6 199.1,217.5 200.2,218.4 201.2,219.4 202.3,220.3 203.4,221.3 204.5,222.2 205.6,223.1 206.7,224.1 207.7,225.0 208.8,226.0 209.9,226.9 211.0,227.9 212.1,228.8 213.2,229.7 214.2,230.7 215.3,231.6 216.4,232.6 217.5,233.5 218.6,234.4 219.7,235.4 220.8,236.3 221.8,237.3 222.9,238.2 224.0,239.2 225.1,240.1 226.2,241.0 227.3,242.0 228.3,242.9 229.4,243.9 230.5,244.8 231.6,245.7 232.7,246.7 233.8,247.6 234.8,248.6 235.9,249.5 237.0,250.5 238.1,251.4 239.2,252.3 240.3,253.3 241.3,254.2 242.4,255.2 243.5,256.1 244.6,257.0 245.7,258.0 246.8,258.9 247.8,259.9 248.9,260.8 250.0,261.8 251.1,262.7 252.2,263.6 253.3,264.6 254.4,265.5 255.4,266.5 256.5,267.4 257.6,268.3 258.7,269.3 259.8,270.2 260.9,271.2 261.9,272.1 263.0,273.1 264.1,274.0 265.2,274.9 266.3,275.9 267.4,276.8 268.4,277.8 269.5,278.7 270.6,279.6 271.7,280.6 272.8,281.5 273.9,282.5 274.9,283.4 276.0,284.4 277.1,285.3 278.2,286.2 279.3,287.2 280.4,288.1 281.5,289.1 282.5,290.0 283.6,290.9 284.7,291.9 285.8,292.8 286.9,293.8 288.0,294.7 289.0,295.7 290.1,296.6 291.2,297.5 292.3,298.5 293.4,299.4 294.5,300.4 295.5,301.3 296.6,302.2 297.7,303.2 298.8,304.1 299.9,305.1 301.0,306.0 302.0,307.0 303.1,307.9 304.2,308.8 305.3,309.8 306.4,310.7 307.5,311.7 308.5,312.6 309.6,313.5 310.7,314.5 311.8,315.4 312.9,316.4 314.0,317.3 315.1,318.3 316.1,319.2 317.2,320.1 318.3,321.1 319.4,322.0 320.5,323.0 321.6,323.9 322.6,324.8 323.7,325.8 324.8,326.7 325.9,327.7 327.0,328.6 328.1,329.6 329.1,330.5 330.2,331.4 331.3,332.4 332.4,333.3 333.5,334.3 334.6,335.2 335.6,336.1 336.7,337.1 337.8,338.0 338.9,339.0 340.0,339.9 341.1,340.9 342.2,341.8 343.2,342.7 344.3,343.7 345.4,344.6 346.5,345.6 347.6,346.5 348.7,347.4 349.7,348.4 350.8,349.3 351.9,350.3 353.0,351.2 354.1,352.2 355.2,353.1 356.2,354.0 357.3,355.0 358.4,355.9 359.5,356.9 360.6,357.8 361.7,358.7 362.7,359.7 363.8,360.6 364.9,361.6 366.0,362.5 367.1,363.5 368.2,364.4 369.3,365.3 370.3,366.3 371.4,367.2 372.5,368.2 373.6,369.1 374.7,370.0 375.8,371.0 376.8,371.9 377.9,372.9 379.0,373.8 380.1,374.8 381.2,375.7 382.3,376.6 383.3,377.6 384.4,378.5 385.5,379.5 386.6,380.4 387.7,381.3 388.8,382.3 389.8,383.2 390.9,384.2 392.0,385.1 393.1,386.1 394.2,387.0 395.3,387.9 396.3,388.9 397.4,389.8 398.5,390.8 399.6,391.7 400.7,392.6 401.8,393.6 402.9,394.5 403.9,395.5 405.0,396.4 406.1,397.4 407.2,398.3 408.3,399.2 409.4,400.2 410.4,401.1 411.5,402.1 412.6,403.0 413.7,403.9 414.8,404.9 415.9,405.8 416.9,406.8 418.0,407.7 419.1,408.7 420.2,409.6 421.3,410.5 422.4,411.5 423.4,412.4 424.5,413.4 425.6,414.3 426.7,415.2 427.8,416.2 428.9,417.1 430.0,418.1 431.0,419.0 432.1,420.0 433.2,420.9 434.3,421.8 435.4,422.8 436.5,423.7 437.5,424.7 438.6,425.6 439.7,426.5 440.8,427.5 441.9,428.4 443.0,429.4 444.0,430.3 445.1,431.3 446.2,432.2 447.3,433.1 448.4,434.1 449.5,435.0 450.5,436.0 451.6,436.9 452.7,437.8 453.8,438.8 454.9,439.7 456.0,440.7 457.0,441.6 458.1,442.6 459.2,443.5 460.3,444.4 461.4,445.4 462.5,446.3 463.6,447.3 464.6,448.2 465.7,449.1 466.8,450.1 467.9,451.0 469.0,452.0 470.1,452.9 471.1,453.9 472.2,454.8 473.3,455.7 474.4,456.7 475.5,457.6 476.6,458.6 477.6,459.5 478.7,460.4 479.8,461.4 480.9,462.3 482.0,463.3 483.1,464.2 484.1,465.2 485.2,466.1 486.3,467.0 487.4,468.0 488.5,468.9 489.6,469.9 490.7,470.8 491.7,471.7 492.8,472.7 493.9,473.6 495.0,474.6 496.1,475.5 497.2,476.5 498.2,477.4 499.3,478.3 500.4,479.3 501.5,480.2 502.6,481.2 503.7,482.1 504.7,483.0 505.8,484.0 506.9,484.9 508.0,485.9 509.1,486.8 510.2,487.8 511.2,488.7 512.3,489.6 513.4,490.6 514.5,491.5 515.6,492.5 516.7,493.4 517.7,494.3 518.8,495.3 519.9,496.2 521.0,497.2 522.1,498.1 523.2,499.1 524.3,500.0 525.3,500.9 526.4,501.9 527.5,502.8 528.6,503.8 529.7,504.7 530.8,505.6 531.8,506.6 532.9,507.5 534.0,508.5 535.1,509.4 536.2,510.4 537.3,511.3 538.3,512.2 539.4,513.2 540.5,514.1 541.6,515.1 542.7,516.0" fill="none" stroke="#6aa6e6" stroke-width="5.2" stroke-linejoin="round" marker-start="url(#mk2)" marker-mid="url(#mk2)" marker-end="url(#mk2)"/><path d="M73.6,492.8V532.2" stroke="#b9b8d0" stroke-width="1.4"/><rect x="69.39999999999999" y="500" width="8.4" height="25" rx="3" fill="#3a3859" stroke="#a9a7c4" stroke-width="1.4"/><path d="M610.3,492.8V532.2" stroke="#b9b8d0" stroke-width="1.4"/><rect x="606.0999999999999" y="500" width="8.4" height="25" rx="3" fill="#3a3859" stroke="#a9a7c4" stroke-width="1.4"/><path d="M471.3,87.3V89.8M471.3,93.6V107.1H486.8V91.8H476.2M466.3,91.8H474M509,86.6L503.8,91.8L509,97M503.8,91.8H520.4V107.1H504.6V97.8M537.5,99.0A10.3,10.3 0 0 1 556.8999999999999,93.0M558.0999999999999,96.0A10.3,10.3 0 0 1 538.7,102.0M558.3999999999999,88.0V93.5H552.5999999999999M537.2,107.0V101.5H543.0M584.1,87V103M574.9,95.2L584.1,103.6L593,95.2M574.9,101.8V107.7H593V101.8M610.9,87.3H620.5L625,91.9V107.7H610.9ZM613.2,93.6H617M613.2,98H622.2M613.2,102.5H622.2" fill="none" stroke="#8f8da4" stroke-width="1.5"/><rect x="592" y="22" width="42.5" height="42.5" rx="8" fill="#222227"/><path d="M606.3,40.6 V36.6 Q606.3,35.1 607.8,35.1 H611.8 M616.0999999999999,35.1 H620.0999999999999 Q621.5999999999999,35.1 621.5999999999999,36.6 V40.6 M621.5999999999999,44.900000000000006 V48.900000000000006 Q621.5999999999999,50.400000000000006 620.0999999999999,50.400000000000006 H616.0999999999999 M611.8,50.400000000000006 H607.8 Q606.3,50.400000000000006 606.3,48.900000000000006 V44.900000000000006" fill="none" stroke="#f6a583" stroke-width="3" stroke-linecap="round"/></svg><div class="ttl">scalar "learning rate"</div></div><div class="card" style="left:2439px;top:40px"><svg width="663" height="570" viewBox="0 0 663 570" font-family='"Liberation Sans", sans-serif'><defs><clipPath id="clipL"><rect x="29" y="0" width="600" height="570"/></clipPath><clipPath id="clipP"><rect x="63.0" y="96.5" width="551.8" height="427.5"/></clipPath></defs><path d="M69.0,163.3H608.8M69.0,222.1H608.8M69.0,280.9H608.8M69.0,339.6H608.8M69.0,398.4H608.8M69.0,457.2H608.8M69.0,516.0H608.8M175.2,104.5V516.0M283.6,104.5V516.0M392.0,104.5V516.0M500.4,104.5V516.0M608.8,104.5V516.0" stroke="#37363f" stroke-width="1.5" fill="none"/><path d="M69.0,104.5V516.0M62.0,104.5H69.0M62.0,163.3H69.0M62.0,222.1H69.0M62.0,280.9H69.0M62.0,339.6H69.0M62.0,398.4H69.0M62.0,457.2H69.0M62.0,516.0H69.0M69.0,104.5H608.8M69.0,104.5V111.5M175.2,104.5V111.5M283.6,104.5V111.5M392.0,104.5V111.5M500.4,104.5V111.5M608.8,104.5V111.5" stroke="#aeadc4" stroke-width="1.4" fill="none"/><g clip-path="url(#clipL)" fill="#a3a2b0" font-size="18" text-anchor="end"><text x="57.0" y="108.7">0</text><text x="57.0" y="167.5">-0.01</text><text x="57.0" y="226.3">-0.02</text><text x="57.0" y="285.1">-0.03</text><text x="57.0" y="343.8">-0.04</text><text x="57.0" y="402.6">-0.05</text><text x="57.0" y="461.4">-0.06</text><text x="57.0" y="520.2">-0.07</text></g><g fill="#a3a2b0" font-size="18" text-anchor="middle" letter-spacing="-0.3"><text x="69.0" y="539.5">20</text><text x="175.2" y="539.5">1,000</text><text x="283.6" y="539.5">2,000</text><text x="392.0" y="539.5">3,000</text><text x="500.4" y="539.5">4,000</text><text x="608.8" y="539.5">5,000</text></g><rect x="72.5" y="483.5" width="539.0" height="8.5" rx="2" fill="rgb(112,114,128)" fill-opacity="0.5"/><path d="M338.45,485.5v4.5M341.95,485.5v4.5M345.45,485.5v4.5" stroke="#e8e8ee" stroke-width="1.6"/><rect x="73.6" y="492.8" width="536.6999999999999" height="39.400000000000034" fill="rgb(80,100,140)" fill-opacity="0.3"/><rect x="73.6" y="516.0" width="536.6999999999999" height="16.200000000000045" fill="rgb(120,135,170)" fill-opacity="0.3"/><polyline points="77.6,522.1 78.8,524.5 80.0,525.2 81.2,522.2 82.5,520.5 83.7,522.3 84.9,522.8 86.1,523.5 87.3,519.2 88.5,518.6 89.8,521.5 91.0,520.6 92.2,521.8 93.4,520.4 94.6,518.1 95.8,517.3 97.1,521.5 98.3,516.2 99.5,514.9 100.7,514.4 101.9,516.5 103.1,516.6 104.4,515.9 105.6,516.5 106.8,517.1 108.0,517.8 109.2,518.5 110.4,517.2 111.7,514.1 112.9,518.1 114.1,514.8 115.3,516.9 116.5,514.9 117.7,517.3 119.0,516.1 120.2,517.8 121.4,522.6 122.6,517.5 123.8,518.9 125.0,515.7 126.2,517.4 127.5,519.0 128.7,517.9 129.9,518.8 131.1,518.5 132.3,516.9 133.5,519.4 134.8,517.4 136.0,521.6 137.2,518.1 138.4,520.0 139.6,519.1 140.8,520.6 142.1,518.4 143.3,520.9 144.5,519.3 145.7,521.5 146.9,520.6 148.1,520.0 149.4,518.2 150.6,520.1 151.8,519.2 153.0,520.5 154.2,517.1 155.4,518.0 156.7,517.5 157.9,516.7 159.1,516.2 160.3,515.7 161.5,514.5 162.7,513.9 164.0,514.7 165.2,516.0 166.4,517.2 167.6,516.4 168.8,516.4 170.0,516.0 171.2,515.8 172.5,515.0 173.7,515.7 174.9,517.1 176.1,514.1 177.3,513.5 178.5,517.1 179.8,514.6 181.0,515.6 182.2,515.4 183.4,512.5 184.6,517.4 185.8,516.4 187.1,514.1 188.3,514.8 189.5,513.9 190.7,512.4 191.9,513.4 193.1,514.0 194.4,514.9 195.6,514.3 196.8,513.4 198.0,514.8 199.2,511.7 200.4,513.5 201.7,513.6 202.9,511.4 204.1,509.1 205.3,510.0 206.5,511.3 207.7,511.4 209.0,512.4 210.2,508.7 211.4,509.8 212.6,510.4 213.8,509.0 215.0,505.7 216.2,509.7 217.5,511.4 218.7,509.4 219.9,506.5 221.1,506.9 222.3,507.7 223.5,510.6 224.8,508.0 226.0,507.3 227.2,509.1 228.4,506.9 229.6,509.4 230.8,506.0 232.1,506.2 233.3,507.7 234.5,508.5 235.7,507.4 236.9,506.9 238.1,504.1 239.4,505.4 240.6,505.5 241.8,505.5 243.0,506.9 244.2,505.6 245.4,507.0 246.7,506.0 247.9,505.3 249.1,505.8 250.3,506.1 251.5,506.5 252.7,504.7 254.0,504.9 255.2,503.4 256.4,507.1 257.6,506.7 258.8,504.6 260.0,504.1 261.2,503.0 262.5,504.7 263.7,504.6 264.9,507.0 266.1,504.4 267.3,503.0 268.5,500.8 269.8,505.6 271.0,504.0 272.2,501.6 273.4,503.8 274.6,501.5 275.8,507.8 277.1,504.8 278.3,504.0 279.5,503.0 280.7,500.5 281.9,502.9 283.1,501.0 284.4,503.7 285.6,500.2 286.8,501.6 288.0,504.2 289.2,504.7 290.4,501.1 291.7,500.6 292.9,503.5 294.1,503.4 295.3,501.0 296.5,501.3 297.7,501.3 299.0,500.6 300.2,501.1 301.4,503.5 302.6,502.7 303.8,504.3 305.0,501.6 306.2,501.4 307.5,500.5 308.7,501.7 309.9,500.3 311.1,499.9 312.3,503.0 313.5,504.0 314.8,503.4 316.0,504.1 317.2,502.9 318.4,501.8 319.6,502.9 320.8,502.5 322.1,501.7 323.3,501.1 324.5,501.4 325.7,503.4 326.9,503.7 328.1,503.0 329.4,505.4 330.6,504.0 331.8,504.6 333.0,505.4 334.2,502.9 335.4,501.6 336.7,505.0 337.9,503.3 339.1,505.7 340.3,504.6 341.5,505.5 342.7,505.2 343.9,501.8 345.2,505.3 346.4,503.6 347.6,503.6 348.8,504.0 350.0,505.5 351.2,505.7 352.5,505.9 353.7,502.7 354.9,504.1 356.1,501.9 357.3,504.7 358.5,505.6 359.8,504.0 361.0,505.3 362.2,505.3 363.4,506.3 364.6,504.2 365.8,504.2 367.1,504.3 368.3,507.3 369.5,506.5 370.7,505.0 371.9,505.4 373.1,505.2 374.4,505.3 375.6,504.8 376.8,504.6 378.0,503.4 379.2,504.1 380.4,506.8 381.7,505.5 382.9,504.9 384.1,504.5 385.3,504.8 386.5,505.1 387.7,503.9 388.9,504.8 390.2,504.9 391.4,503.6 392.6,503.5 393.8,503.1 395.0,502.9 396.2,505.2 397.5,501.2 398.7,503.6 399.9,503.0 401.1,502.9 402.3,503.7 403.5,504.8 404.8,503.4 406.0,503.0 407.2,502.4 408.4,502.8 409.6,504.0 410.8,502.3 412.1,501.3 413.3,501.1 414.5,501.1 415.7,500.7 416.9,503.6 418.1,502.6 419.4,501.8 420.6,503.8 421.8,501.2 423.0,502.8 424.2,502.8 425.4,499.9 426.7,499.8 427.9,500.5 429.1,502.6 430.3,503.0 431.5,499.9 432.7,502.6 433.9,500.8 435.2,500.7 436.4,500.4 437.6,500.6 438.8,498.8 440.0,499.7 441.2,499.4 442.5,501.5 443.7,503.4 444.9,504.2 446.1,500.6 447.3,499.0 448.5,500.6 449.8,500.0 451.0,503.5 452.2,501.8 453.4,500.3 454.6,502.3 455.8,501.8 457.1,499.3 458.3,500.6 459.5,501.0 460.7,501.3 461.9,501.5 463.1,500.9 464.4,501.6 465.6,500.7 466.8,500.4 468.0,503.2 469.2,501.9 470.4,502.0 471.7,499.6 472.9,501.3 474.1,502.5 475.3,500.1 476.5,502.9 477.7,501.2 478.9,502.2 480.2,501.6 481.4,502.1 482.6,503.3 483.8,501.4 485.0,503.8 486.2,501.1 487.5,501.0 488.7,502.9 489.9,500.9 491.1,501.8 492.3,503.3 493.5,503.7 494.8,500.3 496.0,503.0 497.2,504.7 498.4,503.9 499.6,502.3 500.8,501.9 502.1,502.3 503.3,501.3 504.5,502.4 505.7,502.6 506.9,502.7 508.1,504.3 509.4,502.7 510.6,501.3 511.8,504.3 513.0,501.8 514.2,502.6 515.4,503.0 516.7,502.7 517.9,502.0 519.1,502.9 520.3,505.7 521.5,502.5 522.7,503.1 523.9,504.6 525.2,504.1 526.4,504.2 527.6,504.3 528.8,501.0 530.0,502.3 531.2,503.5 532.5,503.9 533.7,504.9 534.9,504.0 536.1,503.1 537.3,503.5 538.5,503.2 539.8,503.8 541.0,504.3 542.2,503.1 543.4,502.6 544.6,502.5 545.8,504.9 547.1,505.1 548.3,504.8 549.5,504.6 550.7,504.6 551.9,503.7 553.1,504.5 554.4,502.5 555.6,503.5 556.8,502.9 558.0,504.6 559.2,503.1 560.4,503.7 561.7,504.3 562.9,505.4 564.1,502.8 565.3,502.6 566.5,504.7 567.7,502.4 568.9,504.2 570.2,503.0 571.4,503.5 572.6,501.5 573.8,504.5 575.0,503.0 576.2,502.5 577.5,506.0 578.7,504.4 579.9,507.6 581.1,504.0 582.3,503.1 583.5,503.6 584.8,505.3 586.0,503.4 587.2,503.9 588.4,504.0 589.6,502.3 590.8,503.5 592.1,502.8 593.3,501.9 594.5,504.3 595.7,504.1 596.9,503.4 598.1,502.2 599.4,500.9 600.6,503.8 601.8,503.1 603.0,501.2 604.2,503.1 605.4,501.4 606.7,503.1 607.9,503.3 609.1,503.5 610.3,503.3" fill="none" stroke="#6b88b0" stroke-width="1.2"/><path d="M73.6,492.8H610.3M73.6,532.2H610.3" stroke="#7f819c" stroke-width="1.6"/><defs><marker id="mk3" markerWidth="8" markerHeight="8" refX="4" refY="4" markerUnits="userSpaceOnUse"><circle cx="4" cy="4" r="2.7" fill="#eec496"/></marker></defs><polyline clip-path="url(#clipP)" points="69.0,483.9 70.1,493.7 71.2,496.5 72.3,484.5 73.3,477.4 74.4,484.7 75.5,487.0 76.6,489.8 77.7,472.4 78.8,469.8 79.8,481.4 80.9,477.8 82.0,482.9 83.1,477.1 84.2,467.7 85.3,464.5 86.3,481.4 87.4,460.3 88.5,455.0 89.6,452.9 90.7,461.4 91.8,462.0 92.8,459.1 93.9,461.2 95.0,463.7 96.1,466.7 97.2,469.6 98.3,464.2 99.4,451.6 100.4,467.9 101.5,454.6 102.6,462.9 103.7,454.9 104.8,464.6 105.9,459.9 106.9,466.5 108.0,486.2 109.1,465.4 110.2,471.3 111.3,458.2 112.4,465.1 113.4,471.5 114.5,467.2 115.6,470.5 116.7,469.3 117.8,463.0 118.9,473.0 119.9,465.0 121.0,481.8 122.1,467.8 123.2,475.5 124.3,471.8 125.4,477.9 126.4,469.0 127.5,479.1 128.6,472.8 129.7,481.5 130.8,478.1 131.9,475.7 133.0,468.5 134.0,475.9 135.1,472.3 136.2,477.5 137.3,463.8 138.4,467.5 139.5,465.5 140.5,462.4 141.6,460.2 142.7,458.3 143.8,453.5 144.9,450.8 146.0,454.0 147.0,459.4 148.1,464.4 149.2,461.1 150.3,461.2 151.4,459.3 152.5,458.6 153.5,455.3 154.6,458.4 155.7,463.7 156.8,451.5 157.9,449.2 159.0,463.9 160.1,453.9 161.1,457.7 162.2,456.8 163.3,445.3 164.4,464.9 165.5,460.9 166.6,451.7 167.6,454.6 168.7,450.9 169.8,445.0 170.9,449.0 172.0,451.3 173.1,455.1 174.1,452.6 175.2,448.7 176.3,454.7 177.4,441.9 178.5,449.2 179.6,449.8 180.6,440.9 181.7,431.6 182.8,435.2 183.9,440.3 185.0,440.7 186.1,445.0 187.1,430.0 188.2,434.3 189.3,436.6 190.4,431.1 191.5,418.0 192.6,433.9 193.7,440.8 194.7,432.6 195.8,421.2 196.9,422.7 198.0,425.8 199.1,437.5 200.2,427.3 201.2,424.3 202.3,431.7 203.4,422.7 204.5,432.7 205.6,418.9 206.7,419.7 207.7,425.7 208.8,429.1 209.9,424.8 211.0,422.6 212.1,411.2 213.2,416.7 214.2,417.0 215.3,417.1 216.4,422.7 217.5,417.5 218.6,423.1 219.7,419.0 220.8,416.4 221.8,418.3 222.9,419.5 224.0,421.2 225.1,413.9 226.2,414.7 227.3,408.4 228.3,423.3 229.4,422.1 230.5,413.2 231.6,411.3 232.7,406.9 233.8,413.7 234.8,413.4 235.9,423.1 237.0,412.8 238.1,407.1 239.2,398.1 240.3,417.4 241.3,410.9 242.4,401.4 243.5,410.2 244.6,400.8 245.7,426.4 246.8,414.1 247.8,411.0 248.9,406.9 250.0,396.7 251.1,406.6 252.2,399.1 253.3,409.7 254.4,395.6 255.4,401.5 256.5,411.9 257.6,413.8 258.7,399.2 259.8,397.2 260.9,409.0 261.9,408.6 263.0,399.1 264.1,400.2 265.2,399.9 266.3,397.2 267.4,399.4 268.4,408.8 269.5,405.7 270.6,412.2 271.7,401.2 272.8,400.7 273.9,396.9 274.9,401.6 276.0,396.1 277.1,394.3 278.2,407.0 279.3,411.2 280.4,408.6 281.5,411.5 282.5,406.6 283.6,402.2 284.7,406.6 285.8,404.8 286.9,401.6 288.0,399.2 289.0,400.6 290.1,408.4 291.2,409.6 292.3,407.0 293.4,416.8 294.5,411.1 295.5,413.3 296.6,416.6 297.7,406.7 298.8,401.3 299.9,414.9 301.0,408.0 302.0,418.0 303.1,413.4 304.2,416.9 305.3,415.9 306.4,402.1 307.5,416.1 308.5,409.4 309.6,409.2 310.7,411.0 311.8,417.1 312.9,417.8 314.0,418.7 315.1,405.8 316.1,411.2 317.2,402.7 318.3,414.0 319.4,417.6 320.5,411.2 321.6,416.3 322.6,416.4 323.7,420.4 324.8,411.7 325.9,411.8 327.0,412.3 328.1,424.4 329.1,421.1 330.2,415.0 331.3,416.6 332.4,415.9 333.5,416.2 334.6,414.0 335.6,413.3 336.7,408.6 337.8,411.5 338.9,422.5 340.0,416.9 341.1,414.5 342.2,413.0 343.2,414.2 344.3,415.4 345.4,410.4 346.5,414.4 347.6,414.4 348.7,409.5 349.7,408.9 350.8,407.4 351.9,406.7 353.0,415.7 354.1,399.5 355.2,409.2 356.2,407.1 357.3,406.6 358.4,409.6 359.5,414.2 360.6,408.6 361.7,407.2 362.7,404.4 363.8,406.3 364.9,410.9 366.0,404.2 367.1,400.1 368.2,399.1 369.3,399.4 370.3,397.6 371.4,409.3 372.5,405.4 373.6,402.3 374.7,410.1 375.8,399.7 376.8,406.2 377.9,406.1 379.0,394.5 380.1,394.2 381.2,396.9 382.3,405.4 383.3,407.0 384.4,394.6 385.5,405.2 386.6,398.1 387.7,397.7 388.8,396.7 389.8,397.5 390.9,390.0 392.0,393.6 393.1,392.6 394.2,401.0 395.3,408.7 396.3,411.9 397.4,397.3 398.5,390.8 399.6,397.2 400.7,394.7 401.8,408.8 402.9,402.1 403.9,396.0 405.0,404.1 406.1,402.3 407.2,392.0 408.3,397.4 409.4,398.9 410.4,400.2 411.5,400.8 412.6,398.7 413.7,401.3 414.8,397.7 415.9,396.3 416.9,407.9 418.0,402.5 419.1,403.0 420.2,393.4 421.3,400.3 422.4,405.1 423.4,395.1 424.5,406.6 425.6,399.7 426.7,403.7 427.8,401.3 428.9,403.2 430.0,408.1 431.0,400.6 432.1,410.2 433.2,399.2 434.3,398.7 435.4,406.7 436.5,398.5 437.5,402.0 438.6,408.2 439.7,409.9 440.8,395.9 441.9,406.9 443.0,413.7 444.0,410.6 445.1,403.9 446.2,402.4 447.3,404.1 448.4,400.2 449.5,404.6 450.5,405.2 451.6,405.6 452.7,412.1 453.8,405.6 454.9,399.9 456.0,412.0 457.0,402.2 458.1,405.2 459.2,406.8 460.3,405.8 461.4,402.8 462.5,406.4 463.6,418.0 464.6,404.9 465.7,407.2 466.8,413.2 467.9,411.5 469.0,411.7 470.1,412.2 471.1,398.9 472.2,404.2 473.3,409.0 474.4,410.8 475.5,414.6 476.6,410.8 477.6,407.5 478.7,408.9 479.8,407.8 480.9,410.0 482.0,412.1 483.1,407.4 484.1,405.2 485.2,405.1 486.3,414.4 487.4,415.4 488.5,414.1 489.6,413.5 490.7,413.5 491.7,409.6 492.8,412.8 493.9,404.8 495.0,408.9 496.1,406.4 497.2,413.4 498.2,407.3 499.3,409.6 500.4,412.1 501.5,416.5 502.6,406.3 503.7,405.5 504.7,413.8 505.8,404.6 506.9,411.9 508.0,407.0 509.1,409.1 510.2,400.9 511.2,412.8 512.3,407.0 513.4,405.1 514.5,419.0 515.6,412.5 516.7,425.7 517.7,410.9 518.8,407.3 519.9,409.4 521.0,416.4 522.1,408.6 523.2,410.8 524.3,411.0 525.3,404.2 526.4,409.0 527.5,406.0 528.6,402.4 529.7,412.3 530.8,411.3 531.8,408.4 532.9,403.7 534.0,398.4 535.1,410.1 536.2,407.3 537.3,399.7 538.3,407.3 539.4,400.4 540.5,407.3 541.6,408.1 542.7,409.0 543.8,408.3" fill="none" stroke="#eec496" stroke-width="2.4" stroke-linejoin="round" marker-start="url(#mk3)" marker-mid="url(#mk3)" marker-end="url(#mk3)"/><path d="M73.6,492.8V532.2" stroke="#b9b8d0" stroke-width="1.4"/><rect x="69.39999999999999" y="500" width="8.4" height="25" rx="3" fill="#3a3859" stroke="#a9a7c4" stroke-width="1.4"/><path d="M610.3,492.8V532.2" stroke="#b9b8d0" stroke-width="1.4"/><rect x="606.0999999999999" y="500" width="8.4" height="25" rx="3" fill="#3a3859" stroke="#a9a7c4" stroke-width="1.4"/><path d="M471.3,87.3V89.8M471.3,93.6V107.1H486.8V91.8H476.2M466.3,91.8H474M509,86.6L503.8,91.8L509,97M503.8,91.8H520.4V107.1H504.6V97.8M537.5,99.0A10.3,10.3 0 0 1 556.8999999999999,93.0M558.0999999999999,96.0A10.3,10.3 0 0 1 538.7,102.0M558.3999999999999,88.0V93.5H552.5999999999999M537.2,107.0V101.5H543.0M584.1,87V103M574.9,95.2L584.1,103.6L593,95.2M574.9,101.8V107.7H593V101.8M610.9,87.3H620.5L625,91.9V107.7H610.9ZM613.2,93.6H617M613.2,98H622.2M613.2,102.5H622.2" fill="none" stroke="#8f8da4" stroke-width="1.5"/><rect x="592" y="22" width="42.5" height="42.5" rx="8" fill="#222227"/><path d="M606.3,40.6 V36.6 Q606.3,35.1 607.8,35.1 H611.8 M616.0999999999999,35.1 H620.0999999999999 Q621.5999999999999,35.1 621.5999999999999,36.6 V40.6 M621.5999999999999,44.900000000000006 V48.900000000000006 Q621.5999999999999,50.400000000000006 620.0999999999999,50.400000000000006 H616.0999999999999 M611.8,50.400000000000006 H607.8 Q606.3,50.400000000000006 606.3,48.900000000000006 V44.900000000000006" fill="none" stroke="#f6a583" stroke-width="3" stroke-linecap="round"/></svg><div class="ttl">scalar "layer 0 mean"</div></div><div class="card" style="left:3135px;top:40px"><svg width="663" height="570" viewBox="0 0 663 570" font-family='"Liberation Sans", sans-serif'><defs><clipPath id="clipL"><rect x="29" y="0" width="600" height="570"/></clipPath><clipPath id="clipP"><rect x="63.0" y="96.5" width="551.8" height="427.5"/></clipPath></defs><path d="M69.0,104.5H608.8M69.0,163.3H608.8M69.0,222.1H608.8M69.0,280.9H608.8M69.0,339.6H608.8M69.0,398.4H608.8M69.0,457.2H608.8M175.2,104.5V516.0M283.6,104.5V516.0M392.0,104.5V516.0M500.4,104.5V516.0M608.8,104.5V516.0" stroke="#37363f" stroke-width="1.5" fill="none"/><path d="M69.0,104.5V516.0M62.0,104.5H69.0M62.0,163.3H69.0M62.0,222.1H69.0M62.0,280.9H69.0M62.0,339.6H69.0M62.0,398.4H69.0M62.0,457.2H69.0M62.0,516.0H69.0M69.0,516.0H608.8M69.0,516.0V523.0M175.2,516.0V523.0M283.6,516.0V523.0M392.0,516.0V523.0M500.4,516.0V523.0M608.8,516.0V523.0" stroke="#aeadc4" stroke-width="1.4" fill="none"/><g clip-path="url(#clipL)" fill="#a3a2b0" font-size="18" text-anchor="end"><text x="57.0" y="108.7">7</text><text x="57.0" y="167.5">6</text><text x="57.0" y="226.3">5</text><text x="57.0" y="285.1">4</text><text x="57.0" y="343.8">3</text><text x="57.0" y="402.6">2</text><text x="57.0" y="461.4">1</text><text x="57.0" y="520.2">0</text></g><g fill="#a3a2b0" font-size="18" text-anchor="middle" letter-spacing="-0.3"><text x="69.0" y="539.5">20</text><text x="175.2" y="539.5">1,000</text><text x="283.6" y="539.5">2,000</text><text x="392.0" y="539.5">3,000</text><text x="500.4" y="539.5">4,000</text><text x="608.8" y="539.5">5,000</text></g><rect x="72.5" y="483.5" width="539.0" height="8.5" rx="2" fill="rgb(112,114,128)" fill-opacity="0.5"/><path d="M338.45,485.5v4.5M341.95,485.5v4.5M345.45,485.5v4.5" stroke="#e8e8ee" stroke-width="1.6"/><rect x="73.6" y="492.8" width="536.6999999999999" height="39.400000000000034" fill="rgb(80,100,140)" fill-opacity="0.3"/><rect x="73.6" y="516.0" width="536.6999999999999" height="16.200000000000045" fill="rgb(120,135,170)" fill-opacity="0.3"/><polyline points="77.6,506.0 78.8,498.8 80.0,508.9 81.2,501.2 82.5,507.9 83.7,507.1 84.9,503.1 86.1,501.7 87.3,510.4 88.5,513.7 89.8,514.5 91.0,511.8 92.2,508.0 93.4,507.7 94.6,506.7 95.8,504.2 97.1,504.7 98.3,508.6 99.5,506.2 100.7,508.7 101.9,513.2 103.1,508.2 104.4,511.1 105.6,512.1 106.8,504.1 108.0,508.7 109.2,513.4 110.4,511.9 111.7,503.1 112.9,512.7 114.1,509.2 115.3,509.7 116.5,510.1 117.7,509.9 119.0,514.0 120.2,514.0 121.4,512.9 122.6,513.7 123.8,509.5 125.0,506.8 126.2,515.8 127.5,510.6 128.7,516.2 129.9,515.2 131.1,513.6 132.3,512.3 133.5,514.4 134.8,522.4 136.0,507.7 137.2,513.8 138.4,515.2 139.6,510.4 140.8,515.1 142.1,518.2 143.3,511.2 144.5,511.5 145.7,516.1 146.9,510.0 148.1,511.7 149.4,517.3 150.6,506.7 151.8,512.2 153.0,517.4 154.2,511.6 155.4,512.8 156.7,509.8 157.9,518.4 159.1,509.6 160.3,510.0 161.5,510.9 162.7,511.3 164.0,508.7 165.2,510.9 166.4,513.1 167.6,516.7 168.8,509.6 170.0,510.1 171.2,512.6 172.5,513.2 173.7,511.1 174.9,523.1 176.1,512.7 177.3,523.1 178.5,513.0 179.8,510.1 181.0,507.0 182.2,515.8 183.4,512.5 184.6,514.4 185.8,522.3 187.1,511.5 188.3,514.3 189.5,514.0 190.7,517.7 191.9,514.5 193.1,514.0 194.4,509.6 195.6,513.3 196.8,501.5 198.0,516.0 199.2,515.5 200.4,514.7 201.7,517.6 202.9,509.1 204.1,512.3 205.3,519.4 206.5,514.4 207.7,510.5 209.0,520.1 210.2,514.3 211.4,515.8 212.6,506.3 213.8,513.5 215.0,516.5 216.2,517.1 217.5,508.1 218.7,516.9 219.9,506.8 221.1,521.0 222.3,516.0 223.5,516.2 224.8,517.9 226.0,516.2 227.2,512.9 228.4,517.9 229.6,520.8 230.8,510.6 232.1,510.2 233.3,518.2 234.5,514.5 235.7,525.2 236.9,511.9 238.1,520.7 239.4,517.9 240.6,507.9 241.8,520.6 243.0,515.9 244.2,519.9 245.4,522.8 246.7,520.4 247.9,515.1 249.1,521.0 250.3,518.4 251.5,513.5 252.7,516.9 254.0,521.1 255.2,510.8 256.4,515.9 257.6,511.2 258.8,520.3 260.0,510.3 261.2,521.5 262.5,523.0 263.7,518.2 264.9,518.0 266.1,515.7 267.3,518.8 268.5,514.4 269.8,511.9 271.0,519.2 272.2,521.9 273.4,518.3 274.6,513.8 275.8,513.8 277.1,518.1 278.3,520.4 279.5,516.8 280.7,513.2 281.9,519.4 283.1,512.0 284.4,515.9 285.6,515.7 286.8,519.0 288.0,511.7 289.2,516.5 290.4,522.2 291.7,513.7 292.9,518.2 294.1,512.7 295.3,516.0 296.5,519.0 297.7,516.0 299.0,518.5 300.2,519.7 301.4,516.6 302.6,513.5 303.8,516.3 305.0,516.9 306.2,518.6 307.5,514.5 308.7,515.6 309.9,513.0 311.1,515.2 312.3,508.7 313.5,522.3 314.8,516.7 316.0,514.6 317.2,513.2 318.4,522.2 319.6,521.0 320.8,516.7 322.1,512.6 323.3,512.4 324.5,522.1 325.7,516.0 326.9,512.1 328.1,516.4 329.4,520.2 330.6,519.1 331.8,521.4 333.0,512.0 334.2,517.4 335.4,518.0 336.7,519.6 337.9,516.9 339.1,519.7 340.3,520.0 341.5,516.5 342.7,517.2 343.9,514.7 345.2,515.9 346.4,512.1 347.6,516.6 348.8,515.5 350.0,515.6 351.2,519.5 352.5,512.1 353.7,518.6 354.9,522.4 356.1,512.0 357.3,514.2 358.5,518.7 359.8,513.1 361.0,513.1 362.2,514.1 363.4,521.0 364.6,516.0 365.8,520.5 367.1,519.0 368.3,518.8 369.5,519.9 370.7,515.0 371.9,519.7 373.1,514.5 374.4,516.2 375.6,519.1 376.8,516.2 378.0,514.4 379.2,512.7 380.4,517.9 381.7,510.6 382.9,514.9 384.1,512.4 385.3,522.0 386.5,520.9 387.7,512.6 388.9,517.9 390.2,515.4 391.4,512.7 392.6,522.4 393.8,515.5 395.0,510.0 396.2,514.2 397.5,516.8 398.7,515.1 399.9,517.2 401.1,514.4 402.3,512.5 403.5,518.1 404.8,515.2 406.0,516.2 407.2,514.6 408.4,514.3 409.6,521.3 410.8,513.1 412.1,514.2 413.3,521.4 414.5,518.5 415.7,522.8 416.9,518.5 418.1,516.3 419.4,521.8 420.6,520.4 421.8,520.8 423.0,520.1 424.2,520.4 425.4,521.5 426.7,515.5 427.9,518.4 429.1,520.7 430.3,514.0 431.5,519.8 432.7,514.4 433.9,522.3 435.2,512.6 436.4,519.4 437.6,521.2 438.8,516.3 440.0,522.7 441.2,521.7 442.5,516.9 443.7,519.5 444.9,516.3 446.1,517.2 447.3,516.7 448.5,517.2 449.8,515.0 451.0,517.6 452.2,513.5 453.4,514.1 454.6,524.7 455.8,523.9 457.1,511.8 458.3,519.1 459.5,516.7 460.7,517.8 461.9,516.4 463.1,509.3 464.4,519.9 465.6,517.1 466.8,517.3 468.0,521.2 469.2,520.4 470.4,518.2 471.7,517.3 472.9,515.8 474.1,524.3 475.3,522.9 476.5,511.1 477.7,517.7 478.9,514.0 480.2,518.6 481.4,519.6 482.6,509.2 483.8,521.5 485.0,520.3 486.2,514.4 487.5,516.8 488.7,522.9 489.9,516.3 491.1,514.1 492.3,522.4 493.5,518.8 494.8,513.9 496.0,509.7 497.2,525.2 498.4,519.2 499.6,516.6 500.8,520.0 502.1,519.9 503.3,518.4 504.5,514.7 505.7,520.4 506.9,513.3 508.1,513.4 509.4,513.3 510.6,510.8 511.8,518.3 513.0,516.6 514.2,512.7 515.4,511.7 516.7,512.9 517.9,518.0 519.1,518.1 520.3,521.1 521.5,517.9 522.7,519.6 523.9,518.1 525.2,517.7 526.4,513.2 527.6,513.1 528.8,516.4 530.0,520.4 531.2,516.4 532.5,514.6 533.7,513.1 534.9,515.4 536.1,513.2 537.3,518.5 538.5,513.8 539.8,513.4 541.0,517.4 542.2,518.9 543.4,511.6 544.6,519.7 545.8,513.6 547.1,517.0 548.3,517.3 549.5,517.0 550.7,517.6 551.9,516.1 553.1,509.5 554.4,510.7 555.6,516.5 556.8,514.2 558.0,512.6 559.2,517.5 560.4,509.2 561.7,515.8 562.9,513.7 564.1,519.4 565.3,520.1 566.5,519.6 567.7,518.4 568.9,512.3 570.2,517.2 571.4,512.9 572.6,517.7 573.8,519.6 575.0,515.6 576.2,517.6 577.5,522.3 578.7,516.1 579.9,512.0 581.1,517.1 582.3,520.7 583.5,519.1 584.8,520.8 586.0,517.3 587.2,519.9 588.4,516.9 589.6,515.8 590.8,511.7 592.1,520.7 593.3,524.0 594.5,510.6 595.7,515.0 596.9,517.9 598.1,514.8 599.4,520.0 600.6,517.9 601.8,514.2 603.0,517.9 604.2,516.3 605.4,515.2 606.7,516.4 607.9,517.7 609.1,515.0 610.3,512.0" fill="none" stroke="#6b88b0" stroke-width="1.2"/><path d="M73.6,492.8H610.3M73.6,532.2H610.3" stroke="#7f819c" stroke-width="1.6"/><defs><marker id="mk4" markerWidth="8" markerHeight="8" refX="4" refY="4" markerUnits="userSpaceOnUse"><circle cx="4" cy="4" r="2.7" fill="#eec8d0"/></marker></defs><polyline clip-path="url(#clipP)" points="69.0,180.9 70.1,136.8 71.2,198.6 72.3,151.5 73.3,192.7 74.4,187.9 75.5,163.3 76.6,154.4 77.7,208.3 78.8,228.1 79.8,233.2 80.9,216.8 82.0,193.0 83.1,191.3 84.2,185.3 85.3,169.9 86.3,173.2 87.4,197.3 88.5,182.3 89.6,197.8 90.7,225.4 91.8,194.6 92.8,212.2 93.9,218.6 95.0,169.5 96.1,197.5 97.2,226.2 98.3,217.4 99.4,163.5 100.4,222.2 101.5,200.5 102.6,203.6 103.7,206.5 104.8,205.2 105.9,229.8 106.9,229.9 108.0,223.5 109.1,228.5 110.2,202.6 111.3,186.1 112.4,241.3 113.4,209.0 114.5,243.8 115.6,237.5 116.7,227.4 117.8,219.8 118.9,232.3 119.9,281.7 121.0,191.4 122.1,229.1 123.2,237.6 124.3,208.0 125.4,237.1 126.4,256.1 127.5,212.9 128.6,214.7 129.7,243.1 130.8,205.6 131.9,216.3 133.0,250.6 134.0,185.5 135.1,219.3 136.2,251.2 137.3,215.5 138.4,223.1 139.5,204.1 140.5,256.9 141.6,202.9 142.7,205.4 143.8,211.2 144.9,213.3 146.0,197.5 147.0,211.2 148.1,224.8 149.2,246.9 150.3,202.9 151.4,206.1 152.5,221.8 153.5,225.3 154.6,212.5 155.7,286.1 156.8,222.1 157.9,286.1 159.0,224.3 160.1,206.0 161.1,187.2 162.2,241.0 163.3,220.8 164.4,232.3 165.5,281.3 166.6,214.6 167.6,231.7 168.7,230.0 169.8,253.1 170.9,232.9 172.0,230.3 173.1,203.4 174.1,225.9 175.2,153.7 176.3,242.2 177.4,239.2 178.5,234.7 179.6,252.1 180.6,199.7 181.7,219.6 182.8,263.3 183.9,232.3 185.0,208.9 186.1,267.3 187.1,232.1 188.2,241.1 189.3,183.1 190.4,226.8 191.5,245.7 192.6,249.4 193.7,194.1 194.7,247.7 195.8,185.7 196.9,273.0 198.0,242.3 199.1,243.6 200.2,254.3 201.2,243.4 202.3,223.2 203.4,254.2 204.5,271.8 205.6,209.2 206.7,206.6 207.7,255.7 208.8,233.5 209.9,298.9 211.0,217.3 212.1,271.2 213.2,253.9 214.2,192.6 215.3,270.4 216.4,241.6 217.5,266.6 218.6,284.4 219.7,269.2 220.8,236.9 221.8,272.9 222.9,256.9 224.0,227.3 225.1,247.7 226.2,274.0 227.3,210.6 228.3,242.1 229.4,213.2 230.5,269.0 231.6,207.3 232.7,276.3 233.8,285.5 234.8,255.9 235.9,254.9 237.0,240.8 238.1,259.7 239.2,232.9 240.3,217.3 241.3,262.2 242.4,278.5 243.5,256.4 244.6,228.8 245.7,228.8 246.8,255.1 247.8,269.5 248.9,247.5 250.0,225.3 251.1,263.2 252.2,217.6 253.3,241.8 254.4,240.3 255.4,261.0 256.5,215.9 257.6,245.8 258.7,280.4 259.8,228.1 260.9,256.1 261.9,222.2 263.0,242.7 264.1,260.6 265.2,242.5 266.3,257.5 267.4,265.0 268.4,245.8 269.5,227.4 270.6,244.5 271.7,248.1 272.8,258.6 273.9,233.1 274.9,239.8 276.0,224.2 277.1,237.6 278.2,197.6 279.3,281.3 280.4,246.9 281.5,233.6 282.5,225.3 283.6,280.3 284.7,273.2 285.8,246.4 286.9,221.6 288.0,220.6 289.0,279.7 290.1,242.4 291.2,218.7 292.3,244.6 293.4,268.5 294.5,261.3 295.5,275.2 296.6,218.0 297.7,250.8 298.8,254.6 299.9,264.6 301.0,248.0 302.0,265.3 303.1,266.8 304.2,245.6 305.3,249.8 306.4,234.4 307.5,241.5 308.5,218.2 309.6,246.1 310.7,239.3 311.8,240.2 312.9,263.6 314.0,218.7 315.1,258.4 316.1,281.5 317.2,217.7 318.3,231.2 319.4,258.8 320.5,224.6 321.6,224.5 322.6,230.5 323.7,273.0 324.8,242.6 325.9,270.2 327.0,260.7 328.1,259.7 329.1,266.2 330.2,236.1 331.3,265.1 332.4,233.4 333.5,243.7 334.6,261.3 335.6,243.9 336.7,232.3 337.8,222.2 338.9,253.9 340.0,209.0 341.1,235.4 342.2,220.3 343.2,279.0 344.3,272.5 345.4,221.5 346.5,253.9 347.6,238.5 348.7,222.0 349.7,281.8 350.8,239.1 351.9,205.7 353.0,231.5 354.1,247.6 355.2,237.0 356.2,249.7 357.3,232.5 358.4,220.7 359.5,255.3 360.6,237.3 361.7,243.5 362.7,233.7 363.8,231.8 364.9,274.9 366.0,224.6 367.1,231.5 368.2,275.7 369.3,257.6 370.3,284.1 371.4,257.9 372.5,244.1 373.6,277.7 374.7,269.2 375.8,271.6 376.8,267.6 377.9,269.5 379.0,276.3 380.1,239.5 381.2,257.2 382.3,271.0 383.3,230.4 384.4,265.4 385.5,232.7 386.6,280.8 387.7,221.4 388.8,263.2 389.8,274.6 390.9,244.2 392.0,283.6 393.1,277.7 394.2,247.9 395.3,263.9 396.3,243.9 397.4,249.6 398.5,246.9 399.6,249.5 400.7,236.3 401.8,252.2 402.9,227.2 403.9,230.6 405.0,296.0 406.1,291.1 407.2,216.5 408.3,261.3 409.4,247.0 410.4,253.6 411.5,244.7 412.6,201.1 413.7,266.5 414.8,249.0 415.9,250.2 416.9,274.4 418.0,269.6 419.1,255.9 420.2,250.1 421.3,240.9 422.4,293.5 423.4,284.5 424.5,212.1 425.6,253.0 426.7,230.3 427.8,258.2 428.9,264.5 430.0,200.9 431.0,276.0 432.1,268.5 433.2,232.8 434.3,247.4 435.4,284.5 436.5,244.4 437.5,231.0 438.6,281.5 439.7,259.6 440.8,229.3 441.9,203.9 443.0,298.8 444.0,262.0 445.1,245.8 446.2,266.7 447.3,266.4 448.4,257.2 449.5,234.3 450.5,269.6 451.6,226.0 452.7,226.7 453.8,226.1 454.9,210.6 456.0,256.6 457.0,245.9 458.1,222.3 459.2,216.2 460.3,223.5 461.4,254.6 462.5,255.4 463.6,273.9 464.6,254.0 465.7,264.3 466.8,255.1 467.9,252.5 469.0,225.3 470.1,224.7 471.1,244.9 472.2,269.3 473.3,244.9 474.4,233.9 475.5,224.4 476.6,238.8 477.6,225.3 478.7,258.0 479.8,228.7 480.9,226.6 482.0,251.0 483.1,260.0 484.1,215.3 485.2,265.2 486.3,227.4 487.4,248.8 488.5,250.4 489.6,248.3 490.7,252.4 491.7,243.3 492.8,202.5 493.9,209.7 495.0,245.2 496.1,231.6 497.2,221.7 498.2,251.5 499.3,200.8 500.4,241.1 501.5,228.1 502.6,263.5 503.7,267.4 504.7,264.8 505.8,257.0 506.9,219.6 508.0,250.0 509.1,223.3 510.2,252.6 511.2,264.7 512.3,239.7 513.4,252.5 514.5,280.9 515.6,242.9 516.7,217.6 517.7,248.9 518.8,271.2 519.9,261.5 521.0,271.8 522.1,250.2 523.2,266.1 524.3,247.6 525.3,241.3 526.4,215.7 527.5,271.4 528.6,291.5 529.7,209.5 530.8,236.3 531.8,254.3 532.9,235.0 534.0,267.2 535.1,254.1 536.2,231.6 537.3,253.9 538.3,244.0 539.4,237.4 540.5,244.6 541.6,252.9 542.7,236.1 543.8,218.1" fill="none" stroke="#eec8d0" stroke-width="2.0" stroke-linejoin="round" marker-start="url(#mk4)" marker-mid="url(#mk4)" marker-end="url(#mk4)"/><path d="M73.6,492.8V532.2" stroke="#b9b8d0" stroke-width="1.4"/><rect x="69.39999999999999" y="500" width="8.4" height="25" rx="3" fill="#3a3859" stroke="#a9a7c4" stroke-width="1.4"/><path d="M610.3,492.8V532.2" stroke="#b9b8d0" stroke-width="1.4"/><rect x="606.0999999999999" y="500" width="8.4" height="25" rx="3" fill="#3a3859" stroke="#a9a7c4" stroke-width="1.4"/><path d="M471.3,87.3V89.8M471.3,93.6V107.1H486.8V91.8H476.2M466.3,91.8H474M509,86.6L503.8,91.8L509,97M503.8,91.8H520.4V107.1H504.6V97.8M537.5,99.0A10.3,10.3 0 0 1 556.8999999999999,93.0M558.0999999999999,96.0A10.3,10.3 0 0 1 538.7,102.0M558.3999999999999,88.0V93.5H552.5999999999999M537.2,107.0V101.5H543.0M584.1,87V103M574.9,95.2L584.1,103.6L593,95.2M574.9,101.8V107.7H593V101.8M610.9,87.3H620.5L625,91.9V107.7H610.9ZM613.2,93.6H617M613.2,98H622.2M613.2,102.5H622.2" fill="none" stroke="#8f8da4" stroke-width="1.5"/><rect x="592" y="22" width="42.5" height="42.5" rx="8" fill="#222227"/><path d="M606.3,40.6 V36.6 Q606.3,35.1 607.8,35.1 H611.8 M616.0999999999999,35.1 H620.0999999999999 Q621.5999999999999,35.1 621.5999999999999,36.6 V40.6 M621.5999999999999,44.900000000000006 V48.900000000000006 Q621.5999999999999,50.400000000000006 620.0999999999999,50.400000000000006 H616.0999999999999 M611.8,50.400000000000006 H607.8 Q606.3,50.400000000000006 606.3,48.900000000000006 V44.900000000000006" fill="none" stroke="#f6a583" stroke-width="3" stroke-linecap="round"/></svg><div class="ttl">scalar "layer 0 var"</div></div><div class="card" style="left:351px;top:643px"><svg width="663" height="570" viewBox="0 0 663 570" font-family='"Liberation Sans", sans-serif'><defs><clipPath id="clipL"><rect x="29" y="0" width="600" height="570"/></clipPath><clipPath id="clipP"><rect x="63.0" y="96.5" width="551.8" height="427.5"/></clipPath></defs><path d="M69.0,186.8H608.8M69.0,269.1H608.8M69.0,351.4H608.8M69.0,433.7H608.8M69.0,516.0H608.8M175.2,104.5V516.0M283.6,104.5V516.0M392.0,104.5V516.0M500.4,104.5V516.0M608.8,104.5V516.0" stroke="#37363f" stroke-width="1.5" fill="none"/><path d="M69.0,104.5V516.0M62.0,104.5H69.0M62.0,186.8H69.0M62.0,269.1H69.0M62.0,351.4H69.0M62.0,433.7H69.0M62.0,516.0H69.0M69.0,104.5H608.8M69.0,104.5V111.5M175.2,104.5V111.5M283.6,104.5V111.5M392.0,104.5V111.5M500.4,104.5V111.5M608.8,104.5V111.5" stroke="#aeadc4" stroke-width="1.4" fill="none"/><g clip-path="url(#clipL)" fill="#a3a2b0" font-size="18" text-anchor="end"><text x="57.0" y="108.7">0</text><text x="57.0" y="191.0">-0.01</text><text x="57.0" y="273.3">-0.02</text><text x="57.0" y="355.6">-0.03</text><text x="57.0" y="437.9">-0.04</text><text x="57.0" y="520.2">-0.05</text></g><g fill="#a3a2b0" font-size="18" text-anchor="middle" letter-spacing="-0.3"><text x="69.0" y="539.5">20</text><text x="175.2" y="539.5">1,000</text><text x="283.6" y="539.5">2,000</text><text x="392.0" y="539.5">3,000</text><text x="500.4" y="539.5">4,000</text><text x="608.8" y="539.5">5,000</text></g><rect x="72.5" y="483.5" width="539.0" height="8.5" rx="2" fill="rgb(112,114,128)" fill-opacity="0.5"/><path d="M338.45,485.5v4.5M341.95,485.5v4.5M345.45,485.5v4.5" stroke="#e8e8ee" stroke-width="1.6"/><rect x="73.6" y="492.8" width="536.6999999999999" height="39.400000000000034" fill="rgb(80,100,140)" fill-opacity="0.3"/><rect x="73.6" y="516.0" width="536.6999999999999" height="16.200000000000045" fill="rgb(120,135,170)" fill-opacity="0.3"/><polyline points="77.6,523.5 78.8,524.7 80.0,519.0 81.2,518.5 82.5,521.5 83.7,524.7 84.9,520.9 86.1,525.2 87.3,511.8 88.5,517.8 89.8,518.9 91.0,515.2 92.2,513.9 93.4,513.8 94.6,514.3 95.8,511.7 97.1,513.5 98.3,514.2 99.5,517.4 100.7,513.5 101.9,515.9 103.1,511.4 104.4,515.7 105.6,514.2 106.8,512.6 108.0,514.6 109.2,517.5 110.4,515.7 111.7,519.5 112.9,520.9 114.1,521.4 115.3,521.7 116.5,515.8 117.7,519.6 119.0,517.3 120.2,520.7 121.4,518.8 122.6,519.1 123.8,519.5 125.0,517.3 126.2,518.6 127.5,516.9 128.7,522.6 129.9,517.4 131.1,518.1 132.3,514.4 133.5,514.8 134.8,515.9 136.0,519.0 137.2,518.7 138.4,517.6 139.6,515.7 140.8,520.3 142.1,514.6 143.3,514.7 144.5,517.1 145.7,514.1 146.9,516.2 148.1,517.3 149.4,515.2 150.6,515.9 151.8,515.0 153.0,513.5 154.2,508.8 155.4,512.2 156.7,514.2 157.9,511.2 159.1,512.9 160.3,514.2 161.5,516.0 162.7,511.1 164.0,512.4 165.2,513.6 166.4,514.0 167.6,510.5 168.8,516.0 170.0,511.3 171.2,514.5 172.5,512.2 173.7,513.1 174.9,515.1 176.1,513.4 177.3,512.4 178.5,510.4 179.8,510.9 181.0,509.5 182.2,515.0 183.4,509.1 184.6,507.4 185.8,514.0 187.1,513.2 188.3,510.3 189.5,512.0 190.7,509.2 191.9,509.4 193.1,510.8 194.4,510.5 195.6,508.9 196.8,511.9 198.0,510.5 199.2,509.4 200.4,507.3 201.7,509.2 202.9,508.5 204.1,508.7 205.3,510.0 206.5,507.8 207.7,509.0 209.0,509.7 210.2,509.0 211.4,511.8 212.6,505.8 213.8,508.3 215.0,506.6 216.2,508.2 217.5,512.0 218.7,505.9 219.9,507.9 221.1,509.2 222.3,508.4 223.5,509.5 224.8,506.0 226.0,509.6 227.2,506.8 228.4,506.4 229.6,508.9 230.8,508.8 232.1,507.0 233.3,506.9 234.5,507.7 235.7,507.9 236.9,507.6 238.1,506.4 239.4,504.5 240.6,509.4 241.8,507.8 243.0,505.8 244.2,505.3 245.4,506.4 246.7,506.7 247.9,504.4 249.1,509.1 250.3,507.7 251.5,506.6 252.7,507.4 254.0,507.2 255.2,508.2 256.4,507.0 257.6,508.4 258.8,508.7 260.0,506.2 261.2,505.9 262.5,505.3 263.7,506.1 264.9,505.4 266.1,506.3 267.3,506.6 268.5,506.8 269.8,504.6 271.0,507.4 272.2,505.5 273.4,505.7 274.6,505.2 275.8,503.2 277.1,505.8 278.3,503.0 279.5,506.5 280.7,504.9 281.9,506.6 283.1,505.2 284.4,505.0 285.6,505.7 286.8,503.6 288.0,505.4 289.2,503.1 290.4,503.4 291.7,502.1 292.9,503.4 294.1,503.4 295.3,501.8 296.5,500.7 297.7,502.0 299.0,502.4 300.2,501.5 301.4,500.6 302.6,501.0 303.8,501.6 305.0,498.8 306.2,501.3 307.5,503.8 308.7,500.6 309.9,502.0 311.1,504.3 312.3,503.2 313.5,503.6 314.8,502.5 316.0,501.3 317.2,506.5 318.4,503.5 319.6,503.6 320.8,505.5 322.1,504.6 323.3,503.9 324.5,502.7 325.7,503.9 326.9,503.9 328.1,503.4 329.4,503.2 330.6,503.1 331.8,504.2 333.0,503.7 334.2,504.9 335.4,505.7 336.7,504.9 337.9,504.6 339.1,506.4 340.3,505.4 341.5,503.0 342.7,504.0 343.9,505.0 345.2,503.8 346.4,505.7 347.6,502.8 348.8,502.6 350.0,505.9 351.2,505.5 352.5,503.0 353.7,504.9 354.9,506.3 356.1,503.5 357.3,503.4 358.5,503.4 359.8,503.7 361.0,502.8 362.2,504.2 363.4,503.2 364.6,504.9 365.8,507.3 367.1,503.6 368.3,505.8 369.5,506.1 370.7,502.2 371.9,504.9 373.1,504.8 374.4,504.4 375.6,505.7 376.8,504.3 378.0,505.2 379.2,504.4 380.4,504.6 381.7,503.9 382.9,507.3 384.1,504.7 385.3,503.5 386.5,506.9 387.7,506.4 388.9,504.5 390.2,503.9 391.4,503.8 392.6,506.0 393.8,504.3 395.0,503.8 396.2,505.5 397.5,504.3 398.7,504.5 399.9,506.7 401.1,505.5 402.3,505.9 403.5,505.0 404.8,505.9 406.0,504.3 407.2,505.5 408.4,505.6 409.6,504.0 410.8,503.0 412.1,505.0 413.3,504.3 414.5,505.1 415.7,503.7 416.9,505.0 418.1,505.4 419.4,506.9 420.6,506.3 421.8,504.8 423.0,505.9 424.2,503.7 425.4,505.6 426.7,504.5 427.9,505.8 429.1,504.7 430.3,504.1 431.5,503.6 432.7,505.7 433.9,504.4 435.2,505.1 436.4,504.9 437.6,502.2 438.8,505.0 440.0,504.0 441.2,504.8 442.5,504.9 443.7,502.5 444.9,504.1 446.1,504.3 447.3,504.8 448.5,505.4 449.8,503.7 451.0,504.1 452.2,505.0 453.4,502.4 454.6,506.3 455.8,503.4 457.1,505.8 458.3,504.5 459.5,506.4 460.7,505.5 461.9,504.3 463.1,502.6 464.4,504.5 465.6,504.7 466.8,505.0 468.0,503.1 469.2,503.6 470.4,503.6 471.7,504.7 472.9,503.5 474.1,504.3 475.3,505.4 476.5,504.0 477.7,505.9 478.9,504.8 480.2,504.3 481.4,505.7 482.6,505.1 483.8,504.2 485.0,503.9 486.2,504.5 487.5,504.9 488.7,505.8 489.9,504.9 491.1,504.0 492.3,503.2 493.5,504.9 494.8,505.0 496.0,505.8 497.2,504.1 498.4,503.3 499.6,505.5 500.8,504.5 502.1,503.4 503.3,506.4 504.5,505.6 505.7,504.8 506.9,505.0 508.1,504.0 509.4,505.8 510.6,504.3 511.8,504.3 513.0,504.5 514.2,503.6 515.4,505.9 516.7,506.6 517.9,505.7 519.1,502.8 520.3,504.6 521.5,504.3 522.7,505.4 523.9,502.8 525.2,502.8 526.4,504.6 527.6,506.1 528.8,504.9 530.0,507.4 531.2,504.3 532.5,505.3 533.7,505.1 534.9,504.4 536.1,506.4 537.3,504.0 538.5,504.2 539.8,504.9 541.0,504.7 542.2,506.3 543.4,504.6 544.6,505.6 545.8,504.5 547.1,506.3 548.3,504.9 549.5,505.1 550.7,503.1 551.9,505.5 553.1,504.1 554.4,505.6 555.6,505.1 556.8,505.1 558.0,505.7 559.2,504.9 560.4,503.5 561.7,504.5 562.9,504.6 564.1,503.2 565.3,505.0 566.5,505.9 567.7,504.7 568.9,504.6 570.2,504.9 571.4,505.6 572.6,503.9 573.8,505.5 575.0,503.7 576.2,505.0 577.5,505.0 578.7,503.2 579.9,505.2 581.1,504.8 582.3,502.9 583.5,504.1 584.8,503.9 586.0,503.7 587.2,505.0 588.4,503.8 589.6,504.7 590.8,503.5 592.1,504.4 593.3,506.5 594.5,505.1 595.7,503.1 596.9,503.7 598.1,504.5 599.4,503.0 600.6,505.7 601.8,504.7 603.0,504.7 604.2,504.8 605.4,504.1 606.7,503.6 607.9,501.6 609.1,503.1 610.3,505.0" fill="none" stroke="#6b88b0" stroke-width="1.2"/><path d="M73.6,492.8H610.3M73.6,532.2H610.3" stroke="#7f819c" stroke-width="1.6"/><defs><marker id="mk5" markerWidth="8" markerHeight="8" refX="4" refY="4" markerUnits="userSpaceOnUse"><circle cx="4" cy="4" r="2.7" fill="#dfa5e2"/></marker></defs><polyline clip-path="url(#clipP)" points="69.0,448.2 70.1,455.4 71.2,420.2 72.3,417.2 73.3,435.6 74.4,455.1 75.5,432.2 76.6,458.4 77.7,376.1 78.8,412.8 79.8,419.7 80.9,397.0 82.0,389.0 83.1,388.4 84.2,391.6 85.3,375.6 86.3,386.7 87.4,390.8 88.5,410.7 89.6,386.7 90.7,401.4 91.8,373.6 92.8,400.3 93.9,390.8 95.0,381.5 96.1,393.7 97.2,411.4 98.3,399.9 99.4,423.2 100.4,431.8 101.5,434.9 102.6,436.8 103.7,400.7 104.8,423.8 105.9,410.2 106.9,430.9 108.0,419.3 109.1,420.9 110.2,423.5 111.3,409.9 112.4,418.2 113.4,407.7 114.5,442.2 115.6,410.4 116.7,415.2 117.8,392.4 118.9,394.9 119.9,401.7 121.0,420.2 122.1,418.8 123.2,411.9 124.3,399.9 125.4,428.1 126.4,393.4 127.5,394.2 128.6,408.5 129.7,390.2 130.8,403.4 131.9,410.2 133.0,397.1 134.0,401.3 135.1,395.9 136.2,386.7 137.3,357.8 138.4,378.6 139.5,391.1 140.5,372.3 141.6,383.2 142.7,390.7 143.8,401.9 144.9,372.0 146.0,380.1 147.0,387.3 148.1,389.5 149.2,368.5 150.3,402.0 151.4,373.3 152.5,392.6 153.5,378.6 154.6,384.3 155.7,396.6 156.8,386.2 157.9,379.7 159.0,367.6 160.1,370.6 161.1,362.3 162.2,396.2 163.3,359.9 164.4,349.3 165.5,389.7 166.6,384.7 167.6,367.3 168.7,377.7 169.8,360.2 170.9,361.3 172.0,370.4 173.1,368.0 174.1,358.6 175.2,377.1 176.3,368.0 177.4,361.8 178.5,348.7 179.6,360.6 180.6,355.8 181.7,357.4 182.8,365.0 183.9,351.7 185.0,358.8 186.1,363.1 187.1,358.9 188.2,376.5 189.3,339.6 190.4,354.7 191.5,344.5 192.6,354.5 193.7,377.5 194.7,340.2 195.8,352.1 196.9,360.4 198.0,355.2 199.1,362.4 200.2,340.5 201.2,362.6 202.3,345.6 203.4,343.2 204.5,358.6 205.6,357.7 206.7,347.1 207.7,346.3 208.8,351.2 209.9,352.4 211.0,350.6 212.1,343.0 213.2,331.6 214.2,361.9 215.3,351.8 216.4,339.6 217.5,336.4 218.6,343.3 219.7,345.3 220.8,330.6 221.8,359.4 222.9,351.0 224.0,344.4 225.1,349.5 226.2,348.1 227.3,354.5 228.3,346.6 229.4,355.2 230.5,357.1 231.6,341.7 232.7,340.2 233.8,336.3 234.8,341.2 235.9,336.9 237.0,342.3 238.1,344.3 239.2,345.8 240.3,332.0 241.3,349.3 242.4,337.9 243.5,339.1 244.6,335.5 245.7,323.6 246.8,339.8 247.8,322.6 248.9,343.6 250.0,333.9 251.1,344.2 252.2,335.8 253.3,334.8 254.4,338.7 255.4,326.2 256.5,336.9 257.6,323.1 258.7,325.0 259.8,316.8 260.9,325.0 261.9,324.9 263.0,314.9 264.1,308.0 265.2,316.3 266.3,318.7 267.4,313.3 268.4,307.6 269.5,309.9 270.6,313.7 271.7,296.6 272.8,312.2 273.9,327.5 274.9,307.9 276.0,316.1 277.1,330.6 278.2,323.8 279.3,326.3 280.4,319.5 281.5,311.8 282.5,343.5 283.6,325.7 284.7,326.2 285.8,337.4 286.9,332.3 288.0,327.9 289.0,320.5 290.1,327.6 291.2,328.0 292.3,324.5 293.4,323.5 294.5,322.9 295.5,329.6 296.6,326.5 297.7,334.0 298.8,338.6 299.9,333.9 301.0,332.2 302.0,343.4 303.1,337.3 304.2,322.6 305.3,328.3 306.4,334.7 307.5,327.2 308.5,338.7 309.6,321.1 310.7,320.0 311.8,340.2 312.9,337.4 314.0,322.2 315.1,333.9 316.1,342.7 317.2,325.6 318.3,325.1 319.4,324.9 320.5,326.5 321.6,321.3 322.6,330.0 323.7,323.3 324.8,333.7 325.9,348.7 327.0,326.1 328.1,339.5 329.1,341.3 330.2,317.5 331.3,334.1 332.4,333.2 333.5,331.0 334.6,338.8 335.6,330.3 336.7,335.7 337.8,330.7 338.9,332.3 340.0,327.8 341.1,348.5 342.2,332.6 343.2,325.3 344.3,346.0 345.4,343.4 346.5,331.3 347.6,328.2 348.7,327.5 349.7,340.7 350.8,330.1 351.9,327.5 353.0,337.8 354.1,330.3 355.2,331.6 356.2,344.9 357.3,337.6 358.4,340.1 359.5,334.4 360.6,340.2 361.7,330.4 362.7,337.8 363.8,338.3 364.9,328.5 366.0,322.6 367.1,334.6 368.2,330.2 369.3,334.9 370.3,326.9 371.4,334.3 372.5,337.2 373.6,346.4 374.7,342.6 375.8,333.4 376.8,340.3 377.9,326.7 379.0,338.6 380.1,331.8 381.2,339.6 382.3,333.0 383.3,329.3 384.4,326.2 385.5,339.1 386.6,331.2 387.7,335.5 388.8,334.0 389.8,317.5 390.9,334.8 392.0,328.4 393.1,333.4 394.2,334.0 395.3,319.1 396.3,328.8 397.4,330.4 398.5,333.4 399.6,336.9 400.7,326.4 401.8,329.3 402.9,334.9 403.9,319.0 405.0,342.8 406.1,324.7 407.2,339.4 408.3,331.8 409.4,343.0 410.4,337.6 411.5,330.6 412.6,319.9 413.7,331.7 414.8,333.0 415.9,334.5 416.9,322.9 418.0,325.8 419.1,326.1 420.2,333.0 421.3,325.7 422.4,330.6 423.4,337.3 424.5,328.8 425.6,340.1 426.7,333.5 427.8,330.1 428.9,338.7 430.0,334.9 431.0,330.0 432.1,328.1 433.2,331.7 434.3,334.2 435.4,339.4 436.5,333.9 437.5,328.3 438.6,323.8 439.7,333.9 440.8,334.9 441.9,339.6 443.0,329.1 444.0,324.3 445.1,337.9 446.2,331.6 447.3,325.0 448.4,343.3 449.5,338.5 450.5,333.3 451.6,334.8 452.7,328.3 453.8,339.4 454.9,330.4 456.0,330.4 457.0,331.4 458.1,326.3 459.2,340.1 460.3,344.3 461.4,338.8 462.5,321.2 463.6,332.4 464.6,330.4 465.7,337.0 466.8,321.3 467.9,321.4 469.0,332.2 470.1,341.5 471.1,334.3 472.2,349.5 473.3,330.4 474.4,336.2 475.5,335.2 476.6,331.0 477.6,343.4 478.7,328.3 479.8,329.7 480.9,333.7 482.0,332.7 483.1,342.5 484.1,331.8 485.2,338.0 486.3,331.7 487.4,342.3 488.5,333.9 489.6,335.4 490.7,323.2 491.7,337.6 492.8,328.8 493.9,338.1 495.0,335.5 496.1,335.4 497.2,338.8 498.2,333.8 499.3,325.6 500.4,331.8 501.5,332.0 502.6,323.6 503.7,334.9 504.7,340.3 505.8,332.7 506.9,331.9 508.0,334.2 509.1,338.2 510.2,328.0 511.2,337.4 512.3,326.9 513.4,334.9 514.5,334.9 515.6,323.7 516.7,335.9 517.7,333.2 518.8,321.5 519.9,329.1 521.0,328.1 522.1,326.5 523.2,334.7 524.3,327.3 525.3,332.6 526.4,325.6 527.5,330.7 528.6,343.8 529.7,335.1 530.8,322.9 531.8,326.8 532.9,331.8 534.0,322.6 535.1,338.9 536.2,332.6 537.3,332.5 538.3,333.3 539.4,328.8 540.5,326.0 541.6,313.9 542.7,323.2 543.8,334.8" fill="none" stroke="#dfa5e2" stroke-width="2.4" stroke-linejoin="round" marker-start="url(#mk5)" marker-mid="url(#mk5)" marker-end="url(#mk5)"/><path d="M73.6,492.8V532.2" stroke="#b9b8d0" stroke-width="1.4"/><rect x="69.39999999999999" y="500" width="8.4" height="25" rx="3" fill="#3a3859" stroke="#a9a7c4" stroke-width="1.4"/><path d="M610.3,492.8V532.2" stroke="#b9b8d0" stroke-width="1.4"/><rect x="606.0999999999999" y="500" width="8.4" height="25" rx="3" fill="#3a3859" stroke="#a9a7c4" stroke-width="1.4"/><path d="M471.3,87.3V89.8M471.3,93.6V107.1H486.8V91.8H476.2M466.3,91.8H474M509,86.6L503.8,91.8L509,97M503.8,91.8H520.4V107.1H504.6V97.8M537.5,99.0A10.3,10.3 0 0 1 556.8999999999999,93.0M558.0999999999999,96.0A10.3,10.3 0 0 1 538.7,102.0M558.3999999999999,88.0V93.5H552.5999999999999M537.2,107.0V101.5H543.0M584.1,87V103M574.9,95.2L584.1,103.6L593,95.2M574.9,101.8V107.7H593V101.8M610.9,87.3H620.5L625,91.9V107.7H610.9ZM613.2,93.6H617M613.2,98H622.2M613.2,102.5H622.2" fill="none" stroke="#8f8da4" stroke-width="1.5"/><rect x="592" y="22" width="42.5" height="42.5" rx="8" fill="#222227"/><path d="M606.3,40.6 V36.6 Q606.3,35.1 607.8,35.1 H611.8 M616.0999999999999,35.1 H620.0999999999999 Q621.5999999999999,35.1 621.5999999999999,36.6 V40.6 M621.5999999999999,44.900000000000006 V48.900000000000006 Q621.5999999999999,50.400000000000006 620.0999999999999,50.400000000000006 H616.0999999999999 M611.8,50.400000000000006 H607.8 Q606.3,50.400000000000006 606.3,48.900000000000006 V44.900000000000006" fill="none" stroke="#f6a583" stroke-width="3" stroke-linecap="round"/></svg><div class="ttl">scalar "layer 1 mean"</div></div><div class="card" style="left:1047px;top:643px"><svg width="663" height="570" viewBox="0 0 663 570" font-family='"Liberation Sans", sans-serif'><defs><clipPath id="clipL"><rect x="29" y="0" width="600" height="570"/></clipPath><clipPath id="clipP"><rect x="63.0" y="96.5" width="551.8" height="427.5"/></clipPath></defs><path d="M69.0,104.5H608.8M69.0,207.4H608.8M69.0,310.2H608.8M69.0,413.1H608.8M175.2,104.5V516.0M283.6,104.5V516.0M392.0,104.5V516.0M500.4,104.5V516.0M608.8,104.5V516.0" stroke="#37363f" stroke-width="1.5" fill="none"/><path d="M69.0,104.5V516.0M62.0,104.5H69.0M62.0,207.4H69.0M62.0,310.2H69.0M62.0,413.1H69.0M62.0,516.0H69.0M69.0,516.0H608.8M69.0,516.0V523.0M175.2,516.0V523.0M283.6,516.0V523.0M392.0,516.0V523.0M500.4,516.0V523.0M608.8,516.0V523.0" stroke="#aeadc4" stroke-width="1.4" fill="none"/><g clip-path="url(#clipL)" fill="#a3a2b0" font-size="18" text-anchor="end"><text x="57.0" y="108.7">4</text><text x="57.0" y="211.6">3</text><text x="57.0" y="314.4">2</text><text x="57.0" y="417.3">1</text><text x="57.0" y="520.2">0</text></g><g fill="#a3a2b0" font-size="18" text-anchor="middle" letter-spacing="-0.3"><text x="69.0" y="539.5">20</text><text x="175.2" y="539.5">1,000</text><text x="283.6" y="539.5">2,000</text><text x="392.0" y="539.5">3,000</text><text x="500.4" y="539.5">4,000</text><text x="608.8" y="539.5">5,000</text></g><rect x="72.5" y="483.5" width="539.0" height="8.5" rx="2" fill="rgb(112,114,128)" fill-opacity="0.5"/><path d="M338.45,485.5v4.5M341.95,485.5v4.5M345.45,485.5v4.5" stroke="#e8e8ee" stroke-width="1.6"/><rect x="73.6" y="492.8" width="536.6999999999999" height="39.400000000000034" fill="rgb(80,100,140)" fill-opacity="0.3"/><rect x="73.6" y="516.0" width="536.6999999999999" height="16.200000000000045" fill="rgb(120,135,170)" fill-opacity="0.3"/><polyline points="77.6,505.0 78.8,502.9 80.0,503.6 81.2,505.6 82.5,507.7 83.7,509.1 84.9,498.8 86.1,508.8 87.3,506.8 88.5,508.7 89.8,506.6 91.0,508.6 92.2,511.5 93.4,513.7 94.6,516.0 95.8,517.9 97.1,514.7 98.3,515.1 99.5,513.1 100.7,516.1 101.9,515.1 103.1,513.8 104.4,513.6 105.6,516.5 106.8,512.4 108.0,515.9 109.2,513.0 110.4,515.4 111.7,515.6 112.9,515.8 114.1,513.1 115.3,508.2 116.5,512.6 117.7,509.1 119.0,509.2 120.2,511.6 121.4,509.2 122.6,508.6 123.8,510.9 125.0,511.2 126.2,508.8 127.5,510.0 128.7,507.4 129.9,509.9 131.1,512.2 132.3,510.6 133.5,512.2 134.8,509.5 136.0,509.6 137.2,511.2 138.4,511.8 139.6,509.4 140.8,511.1 142.1,509.0 143.3,512.0 144.5,511.0 145.7,511.4 146.9,512.1 148.1,507.1 149.4,508.5 150.6,511.6 151.8,509.7 153.0,513.1 154.2,509.2 155.4,509.4 156.7,511.2 157.9,511.3 159.1,510.5 160.3,510.3 161.5,511.5 162.7,512.3 164.0,511.7 165.2,512.1 166.4,510.8 167.6,511.9 168.8,511.9 170.0,514.4 171.2,513.0 172.5,513.2 173.7,513.4 174.9,513.0 176.1,513.3 177.3,514.8 178.5,511.9 179.8,512.0 181.0,513.8 182.2,512.5 183.4,514.4 184.6,514.8 185.8,513.6 187.1,511.7 188.3,513.6 189.5,515.3 190.7,513.6 191.9,514.7 193.1,515.1 194.4,514.2 195.6,516.8 196.8,517.0 198.0,516.9 199.2,514.4 200.4,515.7 201.7,516.7 202.9,517.0 204.1,515.7 205.3,515.1 206.5,517.3 207.7,516.3 209.0,514.2 210.2,516.1 211.4,517.2 212.6,516.6 213.8,516.9 215.0,516.4 216.2,516.8 217.5,517.8 218.7,517.5 219.9,517.1 221.1,518.3 222.3,517.6 223.5,518.7 224.8,516.6 226.0,516.4 227.2,519.0 228.4,517.3 229.6,518.1 230.8,518.3 232.1,518.8 233.3,518.3 234.5,517.7 235.7,520.0 236.9,517.9 238.1,519.2 239.4,520.1 240.6,519.2 241.8,518.6 243.0,519.4 244.2,519.1 245.4,519.8 246.7,520.1 247.9,518.7 249.1,520.7 250.3,518.9 251.5,519.6 252.7,520.3 254.0,520.3 255.2,520.5 256.4,520.3 257.6,520.4 258.8,520.6 260.0,522.3 261.2,522.6 262.5,520.3 263.7,521.3 264.9,521.3 266.1,521.0 267.3,522.0 268.5,519.6 269.8,521.1 271.0,521.3 272.2,522.2 273.4,520.5 274.6,520.7 275.8,520.1 277.1,520.7 278.3,522.3 279.5,522.8 280.7,520.5 281.9,522.4 283.1,521.9 284.4,522.0 285.6,521.5 286.8,521.5 288.0,523.0 289.2,522.7 290.4,523.7 291.7,521.8 292.9,522.5 294.1,523.8 295.3,521.5 296.5,522.5 297.7,523.4 299.0,523.0 300.2,523.2 301.4,522.7 302.6,522.6 303.8,523.4 305.0,522.6 306.2,525.2 307.5,523.2 308.7,522.3 309.9,522.0 311.1,522.0 312.3,523.5 313.5,524.0 314.8,522.8 316.0,520.5 317.2,522.2 318.4,522.9 319.6,523.7 320.8,522.1 322.1,522.5 323.3,521.7 324.5,521.9 325.7,524.0 326.9,522.1 328.1,521.3 329.4,522.4 330.6,522.8 331.8,522.7 333.0,522.8 334.2,519.9 335.4,520.5 336.7,522.1 337.9,520.4 339.1,522.4 340.3,521.9 341.5,522.0 342.7,521.5 343.9,520.8 345.2,519.7 346.4,520.7 347.6,521.3 348.8,521.0 350.0,521.3 351.2,520.8 352.5,521.7 353.7,520.8 354.9,520.6 356.1,520.2 357.3,521.6 358.5,520.5 359.8,520.6 361.0,521.4 362.2,522.3 363.4,521.2 364.6,520.0 365.8,520.9 367.1,518.8 368.3,520.1 369.5,521.1 370.7,520.6 371.9,520.1 373.1,520.0 374.4,520.7 375.6,520.3 376.8,518.4 378.0,520.1 379.2,520.8 380.4,521.4 381.7,522.5 382.9,521.0 384.1,521.6 385.3,521.4 386.5,521.9 387.7,520.9 388.9,520.7 390.2,522.2 391.4,522.7 392.6,521.5 393.8,520.8 395.0,521.6 396.2,521.6 397.5,523.1 398.7,522.5 399.9,521.7 401.1,521.9 402.3,522.3 403.5,521.9 404.8,521.7 406.0,522.3 407.2,522.9 408.4,523.4 409.6,522.2 410.8,522.5 412.1,522.6 413.3,521.6 414.5,523.0 415.7,522.7 416.9,522.0 418.1,523.2 419.4,524.1 420.6,522.9 421.8,521.9 423.0,523.0 424.2,522.8 425.4,524.0 426.7,521.7 427.9,523.9 429.1,523.1 430.3,522.8 431.5,521.2 432.7,522.6 433.9,523.2 435.2,523.8 436.4,522.9 437.6,523.6 438.8,523.2 440.0,522.7 441.2,521.8 442.5,523.5 443.7,521.7 444.9,524.1 446.1,521.3 447.3,523.1 448.5,522.9 449.8,523.0 451.0,522.5 452.2,522.7 453.4,522.8 454.6,523.1 455.8,523.0 457.1,522.5 458.3,522.9 459.5,523.0 460.7,523.6 461.9,522.5 463.1,522.1 464.4,523.2 465.6,521.7 466.8,522.5 468.0,522.4 469.2,523.7 470.4,522.0 471.7,521.5 472.9,521.0 474.1,522.8 475.3,522.4 476.5,521.8 477.7,521.9 478.9,522.8 480.2,522.3 481.4,521.6 482.6,521.9 483.8,522.3 485.0,521.5 486.2,523.3 487.5,521.9 488.7,522.7 489.9,522.4 491.1,521.6 492.3,520.9 493.5,521.8 494.8,522.0 496.0,520.9 497.2,521.6 498.4,523.7 499.6,522.5 500.8,522.5 502.1,522.5 503.3,523.1 504.5,521.5 505.7,521.8 506.9,520.7 508.1,522.1 509.4,521.8 510.6,522.4 511.8,521.1 513.0,520.9 514.2,520.6 515.4,521.0 516.7,522.1 517.9,520.8 519.1,522.3 520.3,522.0 521.5,521.7 522.7,520.1 523.9,522.0 525.2,522.2 526.4,521.3 527.6,520.6 528.8,521.0 530.0,521.0 531.2,522.0 532.5,521.6 533.7,520.4 534.9,521.2 536.1,521.7 537.3,521.5 538.5,520.3 539.8,520.0 541.0,520.9 542.2,521.7 543.4,519.9 544.6,521.5 545.8,521.0 547.1,520.7 548.3,521.0 549.5,521.1 550.7,519.8 551.9,520.8 553.1,522.0 554.4,521.4 555.6,520.1 556.8,521.2 558.0,521.8 559.2,520.4 560.4,520.8 561.7,521.1 562.9,520.7 564.1,521.4 565.3,521.0 566.5,520.8 567.7,521.6 568.9,520.3 570.2,521.9 571.4,519.8 572.6,521.2 573.8,521.0 575.0,522.1 576.2,520.8 577.5,521.9 578.7,521.0 579.9,521.3 581.1,521.9 582.3,520.2 583.5,521.3 584.8,521.8 586.0,521.7 587.2,521.2 588.4,521.4 589.6,520.9 590.8,521.9 592.1,521.4 593.3,521.9 594.5,522.0 595.7,521.0 596.9,522.1 598.1,522.7 599.4,521.2 600.6,522.0 601.8,521.3 603.0,521.3 604.2,521.3 605.4,521.6 606.7,520.6 607.9,522.4 609.1,520.9 610.3,521.9" fill="none" stroke="#6b88b0" stroke-width="1.2"/><path d="M73.6,492.8H610.3M73.6,532.2H610.3" stroke="#7f819c" stroke-width="1.6"/><defs><marker id="mk6" markerWidth="8" markerHeight="8" refX="4" refY="4" markerUnits="userSpaceOnUse"><circle cx="4" cy="4" r="2.7" fill="#82cdc4"/></marker></defs><polyline clip-path="url(#clipP)" points="69.0,171.4 70.1,155.9 71.2,161.1 72.3,176.5 73.3,191.9 74.4,202.2 75.5,125.1 76.6,200.2 77.7,184.9 78.8,199.1 79.8,183.9 80.9,198.5 82.0,220.1 83.1,237.1 84.2,254.3 85.3,268.8 86.3,244.8 87.4,247.7 88.5,232.6 89.6,255.2 90.7,247.5 91.8,237.9 92.8,236.2 93.9,257.7 95.0,227.3 96.1,253.3 97.2,231.8 98.3,249.8 99.4,251.4 100.4,253.1 101.5,232.2 102.6,195.3 103.7,228.6 104.8,202.4 105.9,203.4 106.9,221.3 108.0,203.0 109.1,198.6 110.2,215.9 111.3,218.4 112.4,200.5 113.4,208.9 114.5,190.0 115.6,208.3 116.7,225.4 117.8,213.7 118.9,225.8 119.9,205.5 121.0,206.2 122.1,217.9 123.2,222.9 124.3,204.6 125.4,217.8 126.4,201.6 127.5,224.1 128.6,217.0 129.7,219.8 130.8,224.8 131.9,187.5 133.0,198.0 134.0,220.9 135.1,207.1 136.2,232.5 137.3,202.9 138.4,204.7 139.5,218.5 140.5,218.7 141.6,213.1 142.7,211.2 143.8,220.4 144.9,226.4 146.0,222.3 147.0,225.3 148.1,215.5 149.2,223.4 150.3,223.5 151.4,242.2 152.5,232.0 153.5,233.5 154.6,235.0 155.7,231.9 156.8,233.9 157.9,245.2 159.0,223.8 160.1,224.5 161.1,237.5 162.2,228.0 163.3,242.0 164.4,245.2 165.5,236.5 166.6,221.8 167.6,236.5 168.7,249.1 169.8,235.9 170.9,244.6 172.0,247.7 173.1,240.5 174.1,259.9 175.2,262.1 176.3,261.1 177.4,242.0 178.5,252.0 179.6,259.6 180.6,262.1 181.7,251.7 182.8,247.5 183.9,264.1 185.0,256.7 186.1,240.5 187.1,255.2 188.2,263.2 189.3,258.5 190.4,260.9 191.5,257.1 192.6,260.2 193.7,267.5 194.7,265.3 195.8,262.2 196.9,271.3 198.0,266.2 199.1,274.6 200.2,258.8 201.2,257.2 202.3,276.5 203.4,264.2 204.5,270.2 205.6,271.6 206.7,275.0 207.7,271.8 208.8,267.0 209.9,284.3 211.0,268.3 212.1,278.5 213.2,285.3 214.2,278.2 215.3,273.9 216.4,279.9 217.5,277.7 218.6,283.0 219.7,285.1 220.8,274.7 221.8,289.3 222.9,276.1 224.0,281.5 225.1,286.5 226.2,286.8 227.3,287.9 228.3,286.8 229.4,287.6 230.5,288.7 231.6,301.8 232.7,303.5 233.8,286.9 234.8,294.2 235.9,294.3 237.0,292.0 238.1,299.0 239.2,281.3 240.3,292.4 241.3,294.1 242.4,300.6 243.5,287.9 244.6,289.5 245.7,284.9 246.8,289.4 247.8,301.5 248.9,305.0 250.0,287.9 251.1,302.0 252.2,298.7 253.3,299.5 254.4,295.6 255.4,295.7 256.5,306.7 257.6,304.5 258.7,312.2 259.8,297.6 260.9,302.7 261.9,313.1 263.0,295.9 264.1,303.0 265.2,310.1 266.3,306.7 267.4,308.2 268.4,304.3 269.5,304.1 270.6,309.5 271.7,303.6 272.8,323.3 273.9,308.5 274.9,301.6 276.0,299.2 277.1,299.7 278.2,310.8 279.3,314.3 280.4,305.3 281.5,288.4 282.5,300.5 283.6,306.3 284.7,311.8 285.8,300.0 286.9,303.4 288.0,297.1 289.0,298.7 290.1,314.0 291.2,299.9 292.3,294.0 293.4,302.1 294.5,305.4 295.5,304.9 296.6,305.5 297.7,283.7 298.8,288.1 299.9,300.0 301.0,287.6 302.0,302.1 303.1,298.5 304.2,299.4 305.3,295.7 306.4,290.3 307.5,281.7 308.5,289.2 309.6,294.1 310.7,292.2 311.8,294.2 312.9,290.3 314.0,297.4 315.1,290.5 316.1,289.0 317.2,285.8 318.3,296.0 319.4,288.3 320.5,288.9 321.6,295.0 322.6,301.6 323.7,292.9 324.8,284.3 325.9,290.8 327.0,275.5 328.1,285.2 329.1,292.5 330.2,288.5 331.3,285.0 332.4,284.6 333.5,289.5 334.6,286.2 335.6,272.3 336.7,285.0 337.8,290.0 338.9,294.4 340.0,302.8 341.1,292.2 342.2,296.2 343.2,294.9 344.3,298.2 345.4,291.1 346.5,289.9 347.6,300.5 348.7,304.9 349.7,295.7 350.8,290.0 351.9,296.1 353.0,296.2 354.1,307.4 355.2,303.0 356.2,297.1 357.3,298.8 358.4,301.4 359.5,298.6 360.6,297.1 361.7,301.5 362.7,306.2 363.8,310.2 364.9,301.2 366.0,303.4 367.1,303.6 368.2,296.4 369.3,306.5 370.3,304.4 371.4,299.3 372.5,308.0 373.6,315.2 374.7,306.4 375.8,298.8 376.8,306.9 377.9,305.0 379.0,314.0 380.1,297.1 381.2,313.6 382.3,307.7 383.3,305.1 384.4,293.4 385.5,303.7 386.6,308.4 387.7,312.8 388.8,306.3 389.8,311.5 390.9,308.3 392.0,304.7 393.1,298.1 394.2,310.8 395.3,297.1 396.3,315.2 397.4,293.7 398.5,307.9 399.6,306.3 400.7,306.7 401.8,302.7 402.9,304.2 403.9,305.6 405.0,307.5 406.1,306.6 407.2,303.2 408.3,306.3 409.4,307.1 410.4,311.1 411.5,303.0 412.6,300.3 413.7,308.5 414.8,297.4 415.9,302.9 416.9,302.0 418.0,311.8 419.1,299.0 420.2,295.4 421.3,291.7 422.4,305.4 423.4,302.3 424.5,297.8 425.6,298.9 426.7,305.1 427.8,301.2 428.9,296.2 430.0,298.3 431.0,301.5 432.1,295.5 433.2,309.1 434.3,298.6 435.4,304.4 436.5,302.7 437.5,296.3 438.6,291.2 439.7,298.0 440.8,299.6 441.9,291.4 443.0,296.0 444.0,311.8 445.1,303.1 446.2,303.3 447.3,303.2 448.4,307.4 449.5,295.7 450.5,298.0 451.6,289.4 452.7,300.0 453.8,297.7 454.9,302.1 456.0,292.5 457.0,290.9 458.1,288.5 459.2,291.8 460.3,300.1 461.4,290.4 462.5,301.4 463.6,299.7 464.6,297.2 465.7,284.9 466.8,299.5 467.9,300.8 469.0,294.1 470.1,288.9 471.1,292.0 472.2,291.8 473.3,299.0 474.4,296.4 475.5,287.4 476.6,293.3 477.6,297.1 478.7,295.3 479.8,286.2 480.9,284.0 482.0,290.7 483.1,296.9 484.1,283.7 485.2,295.6 486.3,291.5 487.4,289.6 488.5,291.6 489.6,292.3 490.7,283.0 491.7,290.0 492.8,299.2 493.9,295.0 495.0,285.1 496.1,293.0 497.2,297.6 498.2,287.6 499.3,290.0 500.4,292.4 501.5,289.8 502.6,294.8 503.7,292.0 504.7,290.1 505.8,296.1 506.9,286.8 508.0,298.9 509.1,282.8 510.2,293.3 511.2,291.9 512.3,300.3 513.4,290.0 514.5,298.5 515.6,291.8 516.7,294.4 517.7,298.8 518.8,285.5 519.9,293.9 521.0,297.6 522.1,296.9 523.2,293.5 524.3,295.0 525.3,291.0 526.4,298.5 527.5,294.5 528.6,298.3 529.7,299.5 530.8,291.8 531.8,300.4 532.9,304.7 534.0,293.0 535.1,299.2 536.2,293.7 537.3,294.0 538.3,294.3 539.4,296.6 540.5,289.1 541.6,302.7 542.7,291.3 543.8,298.2" fill="none" stroke="#82cdc4" stroke-width="2.4" stroke-linejoin="round" marker-start="url(#mk6)" marker-mid="url(#mk6)" marker-end="url(#mk6)"/><path d="M73.6,492.8V532.2" stroke="#b9b8d0" stroke-width="1.4"/><rect x="69.39999999999999" y="500" width="8.4" height="25" rx="3" fill="#3a3859" stroke="#a9a7c4" stroke-width="1.4"/><path d="M610.3,492.8V532.2" stroke="#b9b8d0" stroke-width="1.4"/><rect x="606.0999999999999" y="500" width="8.4" height="25" rx="3" fill="#3a3859" stroke="#a9a7c4" stroke-width="1.4"/><path d="M471.3,87.3V89.8M471.3,93.6V107.1H486.8V91.8H476.2M466.3,91.8H474M509,86.6L503.8,91.8L509,97M503.8,91.8H520.4V107.1H504.6V97.8M537.5,99.0A10.3,10.3 0 0 1 556.8999999999999,93.0M558.0999999999999,96.0A10.3,10.3 0 0 1 538.7,102.0M558.3999999999999,88.0V93.5H552.5999999999999M537.2,107.0V101.5H543.0M584.1,87V103M574.9,95.2L584.1,103.6L593,95.2M574.9,101.8V107.7H593V101.8M610.9,87.3H620.5L625,91.9V107.7H610.9ZM613.2,93.6H617M613.2,98H622.2M613.2,102.5H622.2" fill="none" stroke="#8f8da4" stroke-width="1.5"/><rect x="592" y="22" width="42.5" height="42.5" rx="8" fill="#222227"/><path d="M606.3,40.6 V36.6 Q606.3,35.1 607.8,35.1 H611.8 M616.0999999999999,35.1 H620.0999999999999 Q621.5999999999999,35.1 621.5999999999999,36.6 V40.6 M621.5999999999999,44.900000000000006 V48.900000000000006 Q621.5999999999999,50.400000000000006 620.0999999999999,50.400000000000006 H616.0999999999999 M611.8,50.400000000000006 H607.8 Q606.3,50.400000000000006 606.3,48.900000000000006 V44.900000000000006" fill="none" stroke="#f6a583" stroke-width="3" stroke-linecap="round"/></svg><div class="ttl">scalar "layer 1 var"</div></div><div class="card" style="left:1743px;top:643px"><svg width="663" height="570" viewBox="0 0 663 570" font-family='"Liberation Sans", sans-serif'><defs><clipPath id="clipL"><rect x="29" y="0" width="600" height="570"/></clipPath><clipPath id="clipP"><rect x="63.0" y="96.5" width="551.8" height="427.5"/></clipPath></defs><path d="M69.0,186.8H608.8M69.0,269.1H608.8M69.0,351.4H608.8M69.0,433.7H608.8M69.0,516.0H608.8M175.2,104.5V516.0M283.6,104.5V516.0M392.0,104.5V516.0M500.4,104.5V516.0M608.8,104.5V516.0" stroke="#37363f" stroke-width="1.5" fill="none"/><path d="M69.0,104.5V516.0M62.0,104.5H69.0M62.0,186.8H69.0M62.0,269.1H69.0M62.0,351.4H69.0M62.0,433.7H69.0M62.0,516.0H69.0M69.0,104.5H608.8M69.0,104.5V111.5M175.2,104.5V111.5M283.6,104.5V111.5M392.0,104.5V111.5M500.4,104.5V111.5M608.8,104.5V111.5" stroke="#aeadc4" stroke-width="1.4" fill="none"/><g clip-path="url(#clipL)" fill="#a3a2b0" font-size="18" text-anchor="end"><text x="57.0" y="108.7">0</text><text x="57.0" y="191.0">-0.01</text><text x="57.0" y="273.3">-0.02</text><text x="57.0" y="355.6">-0.03</text><text x="57.0" y="437.9">-0.04</text><text x="57.0" y="520.2">-0.05</text></g><g fill="#a3a2b0" font-size="18" text-anchor="middle" letter-spacing="-0.3"><text x="69.0" y="539.5">20</text><text x="175.2" y="539.5">1,000</text><text x="283.6" y="539.5">2,000</text><text x="392.0" y="539.5">3,000</text><text x="500.4" y="539.5">4,000</text><text x="608.8" y="539.5">5,000</text></g><rect x="72.5" y="483.5" width="539.0" height="8.5" rx="2" fill="rgb(112,114,128)" fill-opacity="0.5"/><path d="M338.45,485.5v4.5M341.95,485.5v4.5M345.45,485.5v4.5" stroke="#e8e8ee" stroke-width="1.6"/><rect x="73.6" y="492.8" width="536.6999999999999" height="39.400000000000034" fill="rgb(80,100,140)" fill-opacity="0.3"/><rect x="73.6" y="516.0" width="536.6999999999999" height="16.200000000000045" fill="rgb(120,135,170)" fill-opacity="0.3"/><polyline points="77.6,519.1 78.8,514.3 80.0,519.5 81.2,515.0 82.5,510.5 83.7,510.8 84.9,510.6 86.1,511.1 87.3,515.0 88.5,519.2 89.8,520.5 91.0,525.2 92.2,521.7 93.4,518.9 94.6,516.1 95.8,512.5 97.1,509.4 98.3,510.3 99.5,508.2 100.7,507.1 101.9,505.7 103.1,501.3 104.4,501.0 105.6,498.8 106.8,501.4 108.0,500.3 109.2,501.8 110.4,501.0 111.7,501.4 112.9,503.7 114.1,507.3 115.3,511.0 116.5,510.1 117.7,516.0 119.0,514.4 120.2,515.4 121.4,516.2 122.6,516.5 123.8,518.5 125.0,519.7 126.2,519.2 127.5,517.8 128.7,519.4 129.9,519.4 131.1,520.3 132.3,519.3 133.5,516.2 134.8,517.6 136.0,518.3 137.2,520.5 138.4,518.8 139.6,520.6 140.8,519.6 142.1,517.2 143.3,519.3 144.5,520.1 145.7,519.9 146.9,516.9 148.1,520.0 149.4,518.4 150.6,516.1 151.8,518.6 153.0,516.4 154.2,517.5 155.4,521.8 156.7,523.4 157.9,521.3 159.1,520.4 160.3,522.7 161.5,520.2 162.7,518.1 164.0,515.9 165.2,521.0 166.4,516.1 167.6,515.2 168.8,518.5 170.0,519.5 171.2,518.1 172.5,520.9 173.7,519.2 174.9,519.6 176.1,519.9 177.3,518.4 178.5,519.5 179.8,522.6 181.0,517.8 182.2,519.3 183.4,519.8 184.6,518.2 185.8,518.9 187.1,516.5 188.3,518.3 189.5,518.9 190.7,520.5 191.9,520.2 193.1,518.0 194.4,517.2 195.6,521.3 196.8,519.9 198.0,514.9 199.2,516.1 200.4,514.2 201.7,513.6 202.9,511.0 204.1,512.8 205.3,512.6 206.5,513.0 207.7,514.8 209.0,513.7 210.2,511.7 211.4,511.0 212.6,512.6 213.8,514.9 215.0,514.7 216.2,512.6 217.5,515.0 218.7,514.0 219.9,512.6 221.1,514.0 222.3,513.3 223.5,511.9 224.8,512.8 226.0,513.6 227.2,515.1 228.4,512.7 229.6,515.2 230.8,515.6 232.1,516.2 233.3,515.4 234.5,518.7 235.7,518.7 236.9,519.1 238.1,517.6 239.4,518.9 240.6,517.6 241.8,518.2 243.0,516.5 244.2,517.2 245.4,516.5 246.7,515.5 247.9,516.3 249.1,515.4 250.3,515.4 251.5,516.3 252.7,516.0 254.0,519.4 255.2,519.0 256.4,518.1 257.6,517.8 258.8,515.6 260.0,517.1 261.2,514.9 262.5,515.9 263.7,516.1 264.9,516.2 266.1,517.7 267.3,515.6 268.5,519.7 269.8,516.0 271.0,517.3 272.2,513.9 273.4,516.6 274.6,513.5 275.8,514.9 277.1,514.3 278.3,514.9 279.5,514.3 280.7,513.6 281.9,512.6 283.1,514.6 284.4,511.1 285.6,511.1 286.8,509.9 288.0,510.1 289.2,508.1 290.4,508.2 291.7,508.8 292.9,506.9 294.1,507.6 295.3,506.2 296.5,508.6 297.7,506.7 299.0,508.9 300.2,507.3 301.4,506.4 302.6,507.7 303.8,507.9 305.0,508.2 306.2,508.0 307.5,507.3 308.7,504.8 309.9,507.2 311.1,505.9 312.3,506.5 313.5,507.9 314.8,505.9 316.0,508.7 317.2,510.4 318.4,508.5 319.6,507.9 320.8,510.3 322.1,509.2 323.3,510.7 324.5,511.3 325.7,508.0 326.9,510.2 328.1,508.0 329.4,509.0 330.6,510.6 331.8,508.5 333.0,509.1 334.2,509.4 335.4,510.3 336.7,510.4 337.9,510.5 339.1,509.4 340.3,509.1 341.5,510.5 342.7,509.0 343.9,509.1 345.2,510.9 346.4,509.2 347.6,509.1 348.8,511.4 350.0,510.1 351.2,507.6 352.5,509.3 353.7,512.5 354.9,513.5 356.1,509.8 357.3,510.8 358.5,510.8 359.8,510.2 361.0,507.7 362.2,510.8 363.4,509.9 364.6,509.3 365.8,507.6 367.1,508.6 368.3,509.1 369.5,508.9 370.7,509.4 371.9,508.6 373.1,510.1 374.4,509.6 375.6,507.4 376.8,508.0 378.0,509.1 379.2,507.9 380.4,510.1 381.7,507.9 382.9,508.8 384.1,509.2 385.3,507.2 386.5,510.0 387.7,508.3 388.9,507.7 390.2,507.8 391.4,506.6 392.6,507.0 393.8,510.3 395.0,508.4 396.2,508.3 397.5,508.8 398.7,509.3 399.9,507.7 401.1,508.4 402.3,508.9 403.5,509.8 404.8,508.9 406.0,510.5 407.2,508.4 408.4,508.3 409.6,507.1 410.8,508.6 412.1,509.4 413.3,508.4 414.5,508.5 415.7,507.6 416.9,508.0 418.1,508.2 419.4,508.6 420.6,509.9 421.8,509.3 423.0,509.8 424.2,510.1 425.4,508.2 426.7,510.2 427.9,508.8 429.1,507.3 430.3,508.1 431.5,508.7 432.7,507.1 433.9,511.3 435.2,508.7 436.4,509.8 437.6,507.5 438.8,508.9 440.0,509.1 441.2,508.0 442.5,509.1 443.7,508.8 444.9,509.3 446.1,507.5 447.3,509.4 448.5,508.6 449.8,507.9 451.0,506.5 452.2,508.7 453.4,508.5 454.6,511.5 455.8,507.6 457.1,510.6 458.3,510.3 459.5,509.4 460.7,509.2 461.9,509.5 463.1,507.3 464.4,510.5 465.6,508.6 466.8,508.2 468.0,509.0 469.2,506.0 470.4,507.5 471.7,507.7 472.9,507.3 474.1,509.6 475.3,510.8 476.5,509.0 477.7,508.7 478.9,509.4 480.2,508.5 481.4,509.2 482.6,509.5 483.8,508.8 485.0,508.6 486.2,509.1 487.5,509.1 488.7,509.8 489.9,507.4 491.1,507.9 492.3,508.6 493.5,509.6 494.8,507.7 496.0,510.4 497.2,510.7 498.4,508.3 499.6,510.4 500.8,506.9 502.1,509.0 503.3,507.4 504.5,510.3 505.7,510.1 506.9,509.7 508.1,508.5 509.4,508.0 510.6,509.6 511.8,508.6 513.0,509.9 514.2,507.5 515.4,509.7 516.7,509.8 517.9,506.8 519.1,507.8 520.3,508.5 521.5,508.6 522.7,507.4 523.9,509.3 525.2,508.0 526.4,509.2 527.6,507.3 528.8,508.0 530.0,510.0 531.2,507.4 532.5,509.2 533.7,510.9 534.9,510.2 536.1,507.9 537.3,511.7 538.5,508.7 539.8,510.3 541.0,510.4 542.2,509.0 543.4,510.0 544.6,506.4 545.8,509.4 547.1,509.5 548.3,509.0 549.5,509.5 550.7,510.5 551.9,510.4 553.1,508.7 554.4,510.2 555.6,510.7 556.8,509.5 558.0,509.8 559.2,506.8 560.4,507.7 561.7,509.8 562.9,507.8 564.1,510.4 565.3,510.7 566.5,508.4 567.7,508.2 568.9,509.3 570.2,509.7 571.4,510.4 572.6,509.2 573.8,509.5 575.0,508.4 576.2,509.8 577.5,508.7 578.7,510.6 579.9,510.3 581.1,507.8 582.3,509.9 583.5,508.4 584.8,510.6 586.0,508.4 587.2,510.9 588.4,510.7 589.6,511.7 590.8,509.9 592.1,509.6 593.3,510.9 594.5,508.3 595.7,509.6 596.9,509.3 598.1,509.6 599.4,507.9 600.6,507.8 601.8,507.8 603.0,511.2 604.2,509.3 605.4,510.3 606.7,509.5 607.9,509.4 609.1,511.1 610.3,507.2" fill="none" stroke="#6b88b0" stroke-width="1.2"/><path d="M73.6,492.8H610.3M73.6,532.2H610.3" stroke="#7f819c" stroke-width="1.6"/><defs><marker id="mk7" markerWidth="8" markerHeight="8" refX="4" refY="4" markerUnits="userSpaceOnUse"><circle cx="4" cy="4" r="2.7" fill="#bde670"/></marker></defs><polyline clip-path="url(#clipP)" points="69.0,443.3 70.1,424.6 71.2,444.6 72.3,427.5 73.3,410.2 74.4,411.3 75.5,410.4 76.6,412.3 77.7,427.5 78.8,443.7 79.8,448.6 80.9,466.8 82.0,453.4 83.1,442.4 84.2,431.7 85.3,417.8 86.3,405.6 87.4,409.3 88.5,401.0 89.6,397.0 90.7,391.6 91.8,374.5 92.8,373.1 93.9,364.8 95.0,374.6 96.1,370.7 97.2,376.5 98.3,373.3 99.4,374.9 100.4,383.9 101.5,397.5 102.6,411.7 103.7,408.3 104.8,431.4 105.9,425.0 106.9,429.1 108.0,432.1 109.1,433.3 110.2,441.0 111.3,445.6 112.4,443.7 113.4,438.0 114.5,444.5 115.6,444.4 116.7,447.7 117.8,444.0 118.9,431.9 119.9,437.6 121.0,440.1 122.1,448.7 123.2,442.1 124.3,448.9 125.4,445.1 126.4,435.9 127.5,443.8 128.6,447.2 129.7,446.4 130.8,434.8 131.9,446.8 133.0,440.7 134.0,431.5 135.1,441.1 136.2,432.7 137.3,437.1 138.4,453.7 139.5,460.0 140.5,451.7 141.6,448.1 142.7,456.9 143.8,447.5 144.9,439.5 146.0,430.7 147.0,450.4 148.1,431.7 149.2,428.1 150.3,440.9 151.4,444.9 152.5,439.4 153.5,450.3 154.6,443.6 155.7,445.2 156.8,446.4 157.9,440.4 159.0,444.8 160.1,456.7 161.1,438.0 162.2,444.1 163.3,446.0 164.4,439.9 165.5,442.5 166.6,433.1 167.6,440.1 168.7,442.6 169.8,448.5 170.9,447.4 172.0,438.8 173.1,435.8 174.1,451.8 175.2,446.5 176.3,427.1 177.4,431.5 178.5,424.4 179.6,421.9 180.6,411.8 181.7,418.8 182.8,418.3 183.9,419.8 185.0,426.6 186.1,422.3 187.1,414.6 188.2,411.9 189.3,418.3 190.4,427.2 191.5,426.1 192.6,418.0 193.7,427.2 194.7,423.4 195.8,418.0 196.9,423.4 198.0,420.7 199.1,415.3 200.2,418.9 201.2,422.0 202.3,428.0 203.4,418.6 204.5,428.0 205.6,429.7 206.7,432.1 207.7,428.9 208.8,441.5 209.9,441.7 211.0,443.1 212.1,437.3 213.2,442.4 214.2,437.6 215.3,439.8 216.4,433.1 217.5,435.8 218.6,433.0 219.7,429.3 220.8,432.4 221.8,428.9 222.9,428.9 224.0,432.4 225.1,431.3 226.2,444.5 227.3,443.0 228.3,439.5 229.4,438.0 230.5,429.8 231.6,435.4 232.7,426.9 233.8,430.8 234.8,431.5 235.9,432.0 237.0,437.9 238.1,429.9 239.2,445.4 240.3,431.1 241.3,436.2 242.4,423.0 243.5,433.5 244.6,421.7 245.7,427.1 246.8,424.7 247.8,427.2 248.9,424.7 250.0,422.1 251.1,418.1 252.2,425.9 253.3,412.2 254.4,412.2 255.4,407.7 256.5,408.3 257.6,400.9 258.7,401.3 259.8,403.4 260.9,396.1 261.9,398.8 263.0,393.5 264.1,402.7 265.2,395.1 266.3,403.7 267.4,397.5 268.4,394.3 269.5,399.1 270.6,399.8 271.7,401.2 272.8,400.3 273.9,397.7 274.9,387.9 276.0,397.3 277.1,392.3 278.2,394.3 279.3,399.8 280.4,392.1 281.5,403.1 282.5,409.4 283.6,402.4 284.7,399.9 285.8,409.1 286.9,405.2 288.0,410.6 289.0,413.0 290.1,400.4 291.2,408.9 292.3,400.5 293.4,404.3 294.5,410.4 295.5,402.2 296.6,404.5 297.7,405.7 298.8,409.3 299.9,409.5 301.0,410.0 302.0,405.8 303.1,404.7 304.2,410.0 305.3,404.3 306.4,404.6 307.5,411.5 308.5,404.8 309.6,404.4 310.7,413.6 311.8,408.4 312.9,398.7 314.0,405.4 315.1,417.5 316.1,421.5 317.2,407.2 318.3,411.3 319.4,411.2 320.5,408.9 321.6,399.1 322.6,411.3 323.7,407.8 324.8,405.2 325.9,398.7 327.0,402.8 328.1,404.7 329.1,403.8 330.2,405.6 331.3,402.5 332.4,408.3 333.5,406.3 334.6,398.2 335.6,400.3 336.7,404.4 337.8,399.8 338.9,408.4 340.0,399.9 341.1,403.4 342.2,405.0 343.2,397.4 344.3,407.9 345.4,401.5 346.5,399.3 347.6,399.4 348.7,395.1 349.7,396.6 350.8,409.1 351.9,402.0 353.0,401.4 354.1,403.5 355.2,405.2 356.2,399.2 357.3,401.8 358.4,403.9 359.5,407.2 360.6,403.9 361.7,410.0 362.7,401.9 363.8,401.4 364.9,396.9 366.0,402.7 367.1,405.7 368.2,401.9 369.3,402.2 370.3,398.8 371.4,400.5 372.5,401.1 373.6,402.7 374.7,407.7 375.8,405.3 376.8,407.1 377.9,408.3 379.0,401.2 380.1,409.0 381.2,403.5 382.3,397.6 383.3,400.7 384.4,403.0 385.5,396.8 386.6,413.3 387.7,403.2 388.8,407.1 389.8,398.3 390.9,403.9 392.0,404.6 393.1,400.3 394.2,404.7 395.3,403.6 396.3,405.2 397.4,398.5 398.5,405.9 399.6,402.5 400.7,400.1 401.8,394.4 402.9,403.0 403.9,402.2 405.0,413.9 406.1,398.7 407.2,410.2 408.3,409.2 409.4,405.7 410.4,405.0 411.5,406.1 412.6,397.7 413.7,410.0 414.8,402.7 415.9,400.9 416.9,404.1 418.0,392.5 419.1,398.5 420.2,399.2 421.3,397.6 422.4,406.7 423.4,411.0 424.5,404.3 425.6,402.9 426.7,405.7 427.8,402.2 428.9,404.9 430.0,406.1 431.0,403.4 432.1,402.7 433.2,404.8 434.3,404.7 435.4,407.4 436.5,398.2 437.5,399.8 438.6,402.5 439.7,406.6 440.8,399.2 441.9,409.7 443.0,410.7 444.0,401.6 445.1,409.4 446.2,396.0 447.3,404.3 448.4,398.0 449.5,409.3 450.5,408.4 451.6,407.0 452.7,402.4 453.8,400.1 454.9,406.6 456.0,402.8 457.0,407.8 458.1,398.3 459.2,406.8 460.3,407.2 461.4,395.5 462.5,399.7 463.6,402.1 464.6,402.6 465.7,397.9 466.8,405.2 467.9,400.4 469.0,404.8 470.1,397.5 471.1,400.3 472.2,408.1 473.3,398.1 474.4,405.1 475.5,411.4 476.6,408.7 477.6,399.8 478.7,414.7 479.8,403.1 480.9,409.3 482.0,409.5 483.1,404.1 484.1,408.1 485.2,394.0 486.3,405.9 487.4,406.2 488.5,404.1 489.6,406.1 490.7,410.1 491.7,409.6 492.8,403.1 493.9,409.0 495.0,410.6 496.1,406.2 497.2,407.4 498.2,395.6 499.3,399.3 500.4,407.4 501.5,399.6 502.6,409.4 503.7,410.8 504.7,401.8 505.8,401.1 506.9,405.2 508.0,407.0 509.1,409.5 510.2,405.1 511.2,406.2 512.3,402.0 513.4,407.3 514.5,403.0 515.6,410.4 516.7,409.1 517.7,399.4 518.8,407.7 519.9,401.7 521.0,410.3 522.1,402.0 523.2,411.6 524.3,410.8 525.3,414.5 526.4,407.8 527.5,406.7 528.6,411.5 529.7,401.4 530.8,406.4 531.8,405.2 532.9,406.3 534.0,400.0 535.1,399.7 536.2,399.6 537.3,412.8 538.3,405.3 539.4,409.3 540.5,406.2 541.6,405.8 542.7,412.2 543.8,397.2" fill="none" stroke="#bde670" stroke-width="2.4" stroke-linejoin="round" marker-start="url(#mk7)" marker-mid="url(#mk7)" marker-end="url(#mk7)"/><path d="M73.6,492.8V532.2" stroke="#b9b8d0" stroke-width="1.4"/><rect x="69.39999999999999" y="500" width="8.4" height="25" rx="3" fill="#3a3859" stroke="#a9a7c4" stroke-width="1.4"/><path d="M610.3,492.8V532.2" stroke="#b9b8d0" stroke-width="1.4"/><rect x="606.0999999999999" y="500" width="8.4" height="25" rx="3" fill="#3a3859" stroke="#a9a7c4" stroke-width="1.4"/><path d="M471.3,87.3V89.8M471.3,93.6V107.1H486.8V91.8H476.2M466.3,91.8H474M509,86.6L503.8,91.8L509,97M503.8,91.8H520.4V107.1H504.6V97.8M537.5,99.0A10.3,10.3 0 0 1 556.8999999999999,93.0M558.0999999999999,96.0A10.3,10.3 0 0 1 538.7,102.0M558.3999999999999,88.0V93.5H552.5999999999999M537.2,107.0V101.5H543.0M584.1,87V103M574.9,95.2L584.1,103.6L593,95.2M574.9,101.8V107.7H593V101.8M610.9,87.3H620.5L625,91.9V107.7H610.9ZM613.2,93.6H617M613.2,98H622.2M613.2,102.5H622.2" fill="none" stroke="#8f8da4" stroke-width="1.5"/><rect x="592" y="22" width="42.5" height="42.5" rx="8" fill="#222227"/><path d="M606.3,40.6 V36.6 Q606.3,35.1 607.8,35.1 H611.8 M616.0999999999999,35.1 H620.0999999999999 Q621.5999999999999,35.1 621.5999999999999,36.6 V40.6 M621.5999999999999,44.900000000000006 V48.900000000000006 Q621.5999999999999,50.400000000000006 620.0999999999999,50.400000000000006 H616.0999999999999 M611.8,50.400000000000006 H607.8 Q606.3,50.400000000000006 606.3,48.900000000000006 V44.900000000000006" fill="none" stroke="#f6a583" stroke-width="3" stroke-linecap="round"/></svg><div class="ttl">scalar "layer 2 mean"</div></div><div class="card" style="left:2439px;top:643px"><svg width="663" height="570" viewBox="0 0 663 570" font-family='"Liberation Sans", sans-serif'><defs><clipPath id="clipL"><rect x="29" y="0" width="600" height="570"/></clipPath><clipPath id="clipP"><rect x="63.0" y="96.5" width="551.8" height="427.5"/></clipPath></defs><path d="M69.0,104.5H608.8M69.0,186.8H608.8M69.0,269.1H608.8M69.0,351.4H608.8M69.0,433.7H608.8M175.2,104.5V516.0M283.6,104.5V516.0M392.0,104.5V516.0M500.4,104.5V516.0M608.8,104.5V516.0" stroke="#37363f" stroke-width="1.5" fill="none"/><path d="M69.0,104.5V516.0M62.0,104.5H69.0M62.0,186.8H69.0M62.0,269.1H69.0M62.0,351.4H69.0M62.0,433.7H69.0M62.0,516.0H69.0M69.0,516.0H608.8M69.0,516.0V523.0M175.2,516.0V523.0M283.6,516.0V523.0M392.0,516.0V523.0M500.4,516.0V523.0M608.8,516.0V523.0" stroke="#aeadc4" stroke-width="1.4" fill="none"/><g clip-path="url(#clipL)" fill="#a3a2b0" font-size="18" text-anchor="end"><text x="57.0" y="108.7">5</text><text x="57.0" y="191.0">4</text><text x="57.0" y="273.3">3</text><text x="57.0" y="355.6">2</text><text x="57.0" y="437.9">1</text><text x="57.0" y="520.2">0</text></g><g fill="#a3a2b0" font-size="18" text-anchor="middle" letter-spacing="-0.3"><text x="69.0" y="539.5">20</text><text x="175.2" y="539.5">1,000</text><text x="283.6" y="539.5">2,000</text><text x="392.0" y="539.5">3,000</text><text x="500.4" y="539.5">4,000</text><text x="608.8" y="539.5">5,000</text></g><rect x="72.5" y="483.5" width="539.0" height="8.5" rx="2" fill="rgb(112,114,128)" fill-opacity="0.5"/><path d="M338.45,485.5v4.5M341.95,485.5v4.5M345.45,485.5v4.5" stroke="#e8e8ee" stroke-width="1.6"/><rect x="73.6" y="492.8" width="536.6999999999999" height="39.400000000000034" fill="rgb(80,100,140)" fill-opacity="0.3"/><rect x="73.6" y="516.0" width="536.6999999999999" height="16.200000000000045" fill="rgb(120,135,170)" fill-opacity="0.3"/><polyline points="77.6,518.5 78.8,524.3 80.0,508.7 81.2,500.1 82.5,511.9 83.7,507.5 84.9,507.2 86.1,509.0 87.3,508.7 88.5,506.7 89.8,513.0 91.0,519.3 92.2,520.3 93.4,509.5 94.6,510.7 95.8,513.2 97.1,525.0 98.3,517.3 99.5,518.1 100.7,523.8 101.9,524.4 103.1,509.3 104.4,510.6 105.6,510.7 106.8,510.6 108.0,511.5 109.2,510.4 110.4,505.1 111.7,510.9 112.9,507.5 114.1,498.9 115.3,498.8 116.5,509.4 117.7,500.0 119.0,506.9 120.2,508.8 121.4,512.9 122.6,515.3 123.8,504.8 125.0,519.9 126.2,507.7 127.5,511.8 128.7,509.9 129.9,517.7 131.1,506.1 132.3,507.3 133.5,508.5 134.8,508.0 136.0,514.7 137.2,508.9 138.4,507.8 139.6,509.9 140.8,521.4 142.1,509.7 143.3,508.6 144.5,512.8 145.7,508.2 146.9,503.4 148.1,508.2 149.4,502.8 150.6,509.2 151.8,509.9 153.0,506.4 154.2,510.5 155.4,513.3 156.7,506.1 157.9,507.3 159.1,505.2 160.3,510.3 161.5,509.7 162.7,507.3 164.0,511.6 165.2,511.5 166.4,510.9 167.6,515.1 168.8,511.3 170.0,516.7 171.2,509.7 172.5,502.0 173.7,508.4 174.9,511.4 176.1,515.0 177.3,513.1 178.5,509.8 179.8,511.4 181.0,507.2 182.2,508.3 183.4,506.2 184.6,509.4 185.8,506.1 187.1,504.2 188.3,511.4 189.5,508.8 190.7,508.8 191.9,508.5 193.1,504.4 194.4,499.3 195.6,510.3 196.8,511.4 198.0,512.6 199.2,509.2 200.4,506.9 201.7,510.3 202.9,513.7 204.1,512.6 205.3,515.6 206.5,510.6 207.7,514.1 209.0,510.9 210.2,513.5 211.4,513.9 212.6,518.7 213.8,514.7 215.0,517.5 216.2,518.2 217.5,516.3 218.7,512.4 219.9,515.9 221.1,511.7 222.3,515.6 223.5,521.4 224.8,519.0 226.0,512.1 227.2,515.8 228.4,517.2 229.6,518.7 230.8,517.0 232.1,516.3 233.3,518.6 234.5,517.6 235.7,516.7 236.9,520.4 238.1,518.1 239.4,519.4 240.6,519.2 241.8,519.9 243.0,519.1 244.2,519.7 245.4,512.7 246.7,517.9 247.9,516.4 249.1,519.6 250.3,517.1 251.5,516.2 252.7,513.2 254.0,512.8 255.2,518.6 256.4,512.7 257.6,517.2 258.8,514.2 260.0,517.6 261.2,515.5 262.5,517.6 263.7,520.9 264.9,515.9 266.1,518.2 267.3,517.7 268.5,516.7 269.8,516.1 271.0,511.2 272.2,520.4 273.4,519.2 274.6,520.4 275.8,515.1 277.1,519.1 278.3,520.1 279.5,517.6 280.7,518.7 281.9,517.7 283.1,522.9 284.4,519.4 285.6,518.1 286.8,521.2 288.0,516.9 289.2,520.3 290.4,522.2 291.7,521.5 292.9,519.3 294.1,518.3 295.3,521.9 296.5,519.3 297.7,521.5 299.0,522.8 300.2,523.0 301.4,518.8 302.6,521.6 303.8,520.1 305.0,516.4 306.2,518.0 307.5,521.3 308.7,520.9 309.9,519.6 311.1,525.2 312.3,518.6 313.5,521.4 314.8,517.4 316.0,520.3 317.2,519.0 318.4,515.7 319.6,515.6 320.8,512.4 322.1,517.2 323.3,517.0 324.5,511.6 325.7,513.8 326.9,517.8 328.1,516.1 329.4,514.0 330.6,516.1 331.8,518.3 333.0,514.8 334.2,513.9 335.4,511.9 336.7,512.3 337.9,513.0 339.1,516.7 340.3,517.5 341.5,517.1 342.7,513.4 343.9,513.0 345.2,519.8 346.4,514.6 347.6,514.2 348.8,513.2 350.0,515.3 351.2,515.2 352.5,517.3 353.7,518.9 354.9,518.9 356.1,518.7 357.3,521.2 358.5,518.9 359.8,516.4 361.0,519.4 362.2,515.9 363.4,520.7 364.6,517.8 365.8,520.5 367.1,516.4 368.3,517.2 369.5,516.7 370.7,517.0 371.9,517.7 373.1,516.4 374.4,518.4 375.6,524.4 376.8,518.6 378.0,517.8 379.2,524.1 380.4,516.4 381.7,519.2 382.9,516.7 384.1,519.7 385.3,518.6 386.5,520.9 387.7,519.6 388.9,522.6 390.2,518.6 391.4,520.0 392.6,520.6 393.8,520.8 395.0,521.4 396.2,519.3 397.5,519.5 398.7,519.9 399.9,516.3 401.1,521.7 402.3,520.3 403.5,522.2 404.8,520.1 406.0,520.1 407.2,523.8 408.4,519.2 409.6,524.7 410.8,521.5 412.1,521.1 413.3,523.5 414.5,517.8 415.7,520.6 416.9,523.8 418.1,520.0 419.4,520.0 420.6,522.0 421.8,522.5 423.0,518.6 424.2,515.6 425.4,520.0 426.7,515.8 427.9,524.1 429.1,523.9 430.3,520.1 431.5,521.6 432.7,519.6 433.9,516.1 435.2,522.3 436.4,519.1 437.6,520.0 438.8,522.7 440.0,520.3 441.2,522.3 442.5,520.4 443.7,516.6 444.9,517.6 446.1,517.5 447.3,519.5 448.5,520.9 449.8,515.3 451.0,519.8 452.2,518.9 453.4,517.5 454.6,520.1 455.8,518.8 457.1,519.9 458.3,519.0 459.5,517.8 460.7,522.7 461.9,519.6 463.1,520.9 464.4,520.2 465.6,519.0 466.8,516.6 468.0,524.3 469.2,516.1 470.4,521.0 471.7,521.6 472.9,521.3 474.1,519.4 475.3,519.4 476.5,523.5 477.7,523.3 478.9,517.7 480.2,520.0 481.4,523.9 482.6,520.3 483.8,520.4 485.0,516.5 486.2,521.5 487.5,521.0 488.7,520.6 489.9,519.0 491.1,518.7 492.3,518.4 493.5,516.0 494.8,520.0 496.0,516.4 497.2,519.5 498.4,518.1 499.6,517.7 500.8,515.9 502.1,521.8 503.3,514.9 504.5,523.8 505.7,520.0 506.9,520.1 508.1,519.8 509.4,516.7 510.6,523.3 511.8,522.2 513.0,517.7 514.2,516.0 515.4,522.0 516.7,520.9 517.9,518.3 519.1,518.4 520.3,523.0 521.5,519.9 522.7,520.9 523.9,522.2 525.2,520.1 526.4,521.4 527.6,522.4 528.8,514.9 530.0,520.8 531.2,521.9 532.5,515.7 533.7,520.5 534.9,520.6 536.1,525.0 537.3,523.0 538.5,516.6 539.8,521.5 541.0,520.6 542.2,520.1 543.4,519.2 544.6,515.5 545.8,523.1 547.1,523.0 548.3,516.2 549.5,518.1 550.7,518.0 551.9,516.8 553.1,519.7 554.4,518.0 555.6,517.2 556.8,516.4 558.0,519.0 559.2,522.0 560.4,521.0 561.7,519.9 562.9,520.3 564.1,517.0 565.3,521.8 566.5,518.4 567.7,520.4 568.9,519.1 570.2,516.4 571.4,517.3 572.6,520.7 573.8,519.4 575.0,517.4 576.2,519.4 577.5,517.2 578.7,516.6 579.9,520.2 581.1,518.2 582.3,515.3 583.5,518.0 584.8,520.9 586.0,516.6 587.2,519.5 588.4,519.9 589.6,518.5 590.8,517.8 592.1,520.5 593.3,518.6 594.5,518.1 595.7,517.6 596.9,519.5 598.1,520.9 599.4,519.2 600.6,518.5 601.8,518.9 603.0,517.4 604.2,518.6 605.4,522.2 606.7,518.1 607.9,517.4 609.1,522.9 610.3,517.8" fill="none" stroke="#6b88b0" stroke-width="1.2"/><path d="M73.6,492.8H610.3M73.6,532.2H610.3" stroke="#7f819c" stroke-width="1.6"/><defs><marker id="mk8" markerWidth="8" markerHeight="8" refX="4" refY="4" markerUnits="userSpaceOnUse"><circle cx="4" cy="4" r="2.7" fill="#eec496"/></marker></defs><polyline clip-path="url(#clipP)" points="69.0,223.0 70.1,244.0 71.2,187.7 72.3,156.9 73.3,199.1 74.4,183.7 75.5,182.3 76.6,188.8 77.7,187.6 78.8,180.7 79.8,203.4 80.9,225.8 82.0,229.4 83.1,190.7 84.2,195.0 85.3,203.8 86.3,246.4 87.4,218.7 88.5,221.6 89.6,242.2 90.7,244.2 91.8,190.1 92.8,194.6 93.9,195.0 95.0,194.5 96.1,197.8 97.2,193.8 98.3,174.8 99.4,195.5 100.4,183.4 101.5,152.6 102.6,152.2 103.7,190.3 104.8,156.4 105.9,181.3 106.9,188.4 108.0,203.1 109.1,211.4 110.2,173.7 111.3,227.9 112.4,184.4 113.4,198.8 114.5,192.2 115.6,220.1 116.7,178.5 117.8,182.7 118.9,186.9 119.9,185.1 121.0,209.5 122.1,188.5 123.2,184.4 124.3,192.0 125.4,233.3 126.4,191.3 127.5,187.4 128.6,202.7 129.7,186.0 130.8,168.8 131.9,185.9 133.0,166.6 134.0,189.7 135.1,192.1 136.2,179.4 137.3,194.1 138.4,204.2 139.5,178.4 140.5,182.7 141.6,175.3 142.7,193.6 143.8,191.3 144.9,183.0 146.0,198.2 147.0,198.0 148.1,195.7 149.2,210.8 150.3,197.2 151.4,216.5 152.5,191.3 153.5,163.6 154.6,186.6 155.7,197.6 156.8,210.6 157.9,203.6 159.0,191.9 160.1,197.4 161.1,182.3 162.2,186.3 163.3,178.9 164.4,190.2 165.5,178.3 166.6,171.6 167.6,197.4 168.7,188.2 169.8,188.3 170.9,187.0 172.0,172.3 173.1,153.9 174.1,193.5 175.2,197.5 176.3,201.9 177.4,189.5 178.5,181.5 179.6,193.6 180.6,205.8 181.7,201.8 182.8,212.7 183.9,194.8 185.0,207.3 186.1,195.8 187.1,205.2 188.2,206.4 189.3,223.9 190.4,209.4 191.5,219.6 192.6,222.1 193.7,215.2 194.7,201.0 195.8,213.5 196.9,198.6 198.0,212.6 199.1,233.5 200.2,224.9 201.2,200.1 202.3,213.4 203.4,218.5 204.5,223.9 205.6,217.6 206.7,215.0 207.7,223.5 208.8,219.8 209.9,216.5 211.0,230.0 212.1,221.7 213.2,226.4 214.2,225.4 215.3,228.0 216.4,225.3 217.5,227.2 218.6,202.3 219.7,220.8 220.8,215.6 221.8,226.8 222.9,217.9 224.0,214.9 225.1,203.9 226.2,202.6 227.3,223.3 228.3,202.2 229.4,218.4 230.5,207.6 231.6,219.7 232.7,212.2 233.8,219.9 234.8,231.7 235.9,213.7 237.0,221.9 238.1,220.1 239.2,216.6 240.3,214.3 241.3,196.8 242.4,229.9 243.5,225.4 244.6,230.0 245.7,210.7 246.8,225.3 247.8,228.6 248.9,219.6 250.0,223.8 251.1,220.3 252.2,239.0 253.3,226.2 254.4,221.7 255.4,232.8 256.5,217.2 257.6,229.7 258.7,236.4 259.8,233.8 260.9,226.1 261.9,222.2 263.0,235.4 264.1,226.0 265.2,233.8 266.3,238.6 267.4,239.1 268.4,224.0 269.5,234.2 270.6,228.7 271.7,215.6 272.8,221.1 273.9,233.1 274.9,231.8 276.0,226.9 277.1,247.1 278.2,223.3 279.3,233.3 280.4,219.1 281.5,229.6 282.5,224.7 283.6,213.0 284.7,212.6 285.8,201.0 286.9,218.4 288.0,217.8 289.0,198.2 290.1,206.2 291.2,220.4 292.3,214.5 293.4,207.0 294.5,214.4 295.5,222.4 296.6,209.7 297.7,206.4 298.8,199.3 299.9,200.7 301.0,203.1 302.0,216.4 303.1,219.5 304.2,217.8 305.3,204.6 306.4,203.3 307.5,227.6 308.5,209.0 309.6,207.7 310.7,203.9 311.8,211.5 312.9,211.3 314.0,218.6 315.1,224.4 316.1,224.6 317.2,223.8 318.3,232.9 319.4,224.5 320.5,215.5 321.6,226.4 322.6,213.7 323.7,231.0 324.8,220.4 325.9,230.4 327.0,215.4 328.1,218.3 329.1,216.4 330.2,217.7 331.3,220.2 332.4,215.4 333.5,222.8 334.6,244.2 335.6,223.5 336.7,220.5 337.8,243.1 338.9,215.4 340.0,225.4 341.1,216.7 342.2,227.3 343.2,223.5 344.3,231.7 345.4,227.1 346.5,237.7 347.6,223.3 348.7,228.5 349.7,230.6 350.8,231.4 351.9,233.3 353.0,225.9 354.1,226.6 355.2,228.2 356.2,215.1 357.3,234.5 358.4,229.4 359.5,236.5 360.6,228.8 361.7,228.7 362.7,242.1 363.8,225.7 364.9,245.2 366.0,233.8 367.1,232.4 368.2,241.0 369.3,220.7 370.3,230.6 371.4,242.1 372.5,228.6 373.6,228.3 374.7,235.6 375.8,237.5 376.8,223.4 377.9,212.5 379.0,228.4 380.1,213.5 381.2,243.3 382.3,242.5 383.3,228.8 384.4,234.3 385.5,227.1 386.6,214.4 387.7,236.7 388.8,225.1 389.8,228.5 390.9,238.1 392.0,229.7 393.1,236.7 394.2,229.8 395.3,216.3 396.3,219.7 397.4,219.5 398.5,226.7 399.6,231.7 400.7,211.7 401.8,227.6 402.9,224.3 403.9,219.5 405.0,228.8 406.1,224.0 407.2,227.9 408.3,224.9 409.4,220.7 410.4,238.0 411.5,226.9 412.6,231.7 413.7,229.2 414.8,224.8 415.9,216.2 416.9,243.7 418.0,214.4 419.1,232.1 420.2,234.1 421.3,233.2 422.4,226.2 423.4,226.4 424.5,241.2 425.6,240.2 426.7,220.1 427.8,228.5 428.9,242.3 430.0,229.6 431.0,229.9 432.1,216.0 433.2,233.7 434.3,232.0 435.4,230.7 436.5,224.8 437.5,223.8 438.6,222.6 439.7,214.1 440.8,228.4 441.9,215.3 443.0,226.7 444.0,221.4 445.1,220.1 446.2,213.6 447.3,234.8 448.4,210.2 449.5,242.1 450.5,228.5 451.6,228.6 452.7,227.6 453.8,216.6 454.9,240.3 456.0,236.2 457.0,220.1 458.1,214.1 459.2,235.7 460.3,231.7 461.4,222.3 462.5,222.6 463.6,239.1 464.6,228.2 465.7,231.5 466.8,236.4 467.9,228.8 469.0,233.6 470.1,237.2 471.1,210.1 472.2,231.5 473.3,235.1 474.4,213.1 475.5,230.1 476.6,230.6 477.6,246.5 478.7,239.1 479.8,216.2 480.9,233.6 482.0,230.5 483.1,228.8 484.1,225.6 485.2,212.4 486.3,239.5 487.4,239.4 488.5,214.9 489.6,221.5 490.7,221.1 491.7,216.8 492.8,227.3 493.9,221.3 495.0,218.4 496.1,215.6 497.2,225.0 498.2,235.5 499.3,232.1 500.4,228.2 501.5,229.6 502.6,217.8 503.7,234.9 504.7,222.7 505.8,229.9 506.9,225.1 508.0,215.4 509.1,218.5 510.2,231.0 511.2,226.3 512.3,219.0 513.4,226.2 514.5,218.5 515.6,216.3 516.7,229.3 517.7,222.0 518.8,211.5 519.9,221.4 521.0,231.6 522.1,216.0 523.2,226.5 524.3,228.2 525.3,223.2 526.4,220.5 527.5,230.4 528.6,223.5 529.7,221.5 530.8,219.9 531.8,226.6 532.9,231.7 534.0,225.5 535.1,223.1 536.2,224.5 537.3,219.1 538.3,223.5 539.4,236.4 540.5,221.7 541.6,219.1 542.7,238.8 543.8,220.5" fill="none" stroke="#eec496" stroke-width="2.4" stroke-linejoin="round" marker-start="url(#mk8)" marker-mid="url(#mk8)" marker-end="url(#mk8)"/><path d="M73.6,492.8V532.2" stroke="#b9b8d0" stroke-width="1.4"/><rect x="69.39999999999999" y="500" width="8.4" height="25" rx="3" fill="#3a3859" stroke="#a9a7c4" stroke-width="1.4"/><path d="M610.3,492.8V532.2" stroke="#b9b8d0" stroke-width="1.4"/><rect x="606.0999999999999" y="500" width="8.4" height="25" rx="3" fill="#3a3859" stroke="#a9a7c4" stroke-width="1.4"/><path d="M471.3,87.3V89.8M471.3,93.6V107.1H486.8V91.8H476.2M466.3,91.8H474M509,86.6L503.8,91.8L509,97M503.8,91.8H520.4V107.1H504.6V97.8M537.5,99.0A10.3,10.3 0 0 1 556.8999999999999,93.0M558.0999999999999,96.0A10.3,10.3 0 0 1 538.7,102.0M558.3999999999999,88.0V93.5H552.5999999999999M537.2,107.0V101.5H543.0M584.1,87V103M574.9,95.2L584.1,103.6L593,95.2M574.9,101.8V107.7H593V101.8M610.9,87.3H620.5L625,91.9V107.7H610.9ZM613.2,93.6H617M613.2,98H622.2M613.2,102.5H622.2" fill="none" stroke="#8f8da4" stroke-width="1.5"/><rect x="592" y="22" width="42.5" height="42.5" rx="8" fill="#222227"/><path d="M606.3,40.6 V36.6 Q606.3,35.1 607.8,35.1 H611.8 M616.0999999999999,35.1 H620.0999999999999 Q621.5999999999999,35.1 621.5999999999999,36.6 V40.6 M621.5999999999999,44.900000000000006 V48.900000000000006 Q621.5999999999999,50.400000000000006 620.0999999999999,50.400000000000006 H616.0999999999999 M611.8,50.400000000000006 H607.8 Q606.3,50.400000000000006 606.3,48.900000000000006 V44.900000000000006" fill="none" stroke="#f6a583" stroke-width="3" stroke-linecap="round"/></svg><div class="ttl">scalar "layer 2 var"</div></div><div class="card" style="left:3135px;top:643px"><svg width="663" height="570" viewBox="0 0 663 570" font-family='"Liberation Sans", sans-serif'><defs><clipPath id="clipL"><rect x="29" y="0" width="600" height="570"/></clipPath><clipPath id="clipP"><rect x="63.0" y="96.5" width="551.8" height="427.5"/></clipPath></defs><path d="M69.0,186.8H608.8M69.0,269.1H608.8M69.0,351.4H608.8M69.0,433.7H608.8M69.0,516.0H608.8M175.2,104.5V516.0M283.6,104.5V516.0M392.0,104.5V516.0M500.4,104.5V516.0M608.8,104.5V516.0" stroke="#37363f" stroke-width="1.5" fill="none"/><path d="M69.0,104.5V516.0M62.0,104.5H69.0M62.0,186.8H69.0M62.0,269.1H69.0M62.0,351.4H69.0M62.0,433.7H69.0M62.0,516.0H69.0M69.0,104.5H608.8M69.0,104.5V111.5M175.2,104.5V111.5M283.6,104.5V111.5M392.0,104.5V111.5M500.4,104.5V111.5M608.8,104.5V111.5" stroke="#aeadc4" stroke-width="1.4" fill="none"/><g clip-path="url(#clipL)" fill="#a3a2b0" font-size="18" text-anchor="end"><text x="57.0" y="108.7">0</text><text x="57.0" y="191.0">-0.01</text><text x="57.0" y="273.3">-0.02</text><text x="57.0" y="355.6">-0.03</text><text x="57.0" y="437.9">-0.04</text><text x="57.0" y="520.2">-0.05</text></g><g fill="#a3a2b0" font-size="18" text-anchor="middle" letter-spacing="-0.3"><text x="69.0" y="539.5">20</text><text x="175.2" y="539.5">1,000</text><text x="283.6" y="539.5">2,000</text><text x="392.0" y="539.5">3,000</text><text x="500.4" y="539.5">4,000</text><text x="608.8" y="539.5">5,000</text></g><rect x="72.5" y="483.5" width="539.0" height="8.5" rx="2" fill="rgb(112,114,128)" fill-opacity="0.5"/><path d="M338.45,485.5v4.5M341.95,485.5v4.5M345.45,485.5v4.5" stroke="#e8e8ee" stroke-width="1.6"/><rect x="73.6" y="492.8" width="536.6999999999999" height="39.400000000000034" fill="rgb(80,100,140)" fill-opacity="0.3"/><rect x="73.6" y="516.0" width="536.6999999999999" height="16.200000000000045" fill="rgb(120,135,170)" fill-opacity="0.3"/><polyline points="77.6,509.6 78.8,521.6 80.0,519.0 81.2,517.2 82.5,523.6 83.7,515.0 84.9,524.0 86.1,520.4 87.3,520.3 88.5,525.2 89.8,520.8 91.0,524.0 92.2,523.0 93.4,520.4 94.6,516.4 95.8,508.9 97.1,511.9 98.3,505.2 99.5,508.8 100.7,504.8 101.9,503.0 103.1,506.4 104.4,513.7 105.6,515.6 106.8,513.3 108.0,515.2 109.2,515.7 110.4,518.9 111.7,523.1 112.9,523.6 114.1,520.4 115.3,521.2 116.5,517.2 117.7,518.6 119.0,523.5 120.2,523.1 121.4,520.2 122.6,518.4 123.8,518.3 125.0,515.7 126.2,514.3 127.5,519.1 128.7,514.5 129.9,518.8 131.1,514.3 132.3,517.4 133.5,522.2 134.8,519.3 136.0,517.3 137.2,518.3 138.4,513.3 139.6,520.2 140.8,515.4 142.1,515.4 143.3,515.6 144.5,517.8 145.7,515.7 146.9,515.8 148.1,518.8 149.4,518.0 150.6,520.8 151.8,519.7 153.0,520.7 154.2,514.6 155.4,517.8 156.7,518.9 157.9,519.9 159.1,516.7 160.3,519.1 161.5,520.4 162.7,515.2 164.0,515.3 165.2,515.4 166.4,518.1 167.6,514.7 168.8,517.6 170.0,516.4 171.2,515.0 172.5,513.0 173.7,523.2 174.9,520.7 176.1,520.1 177.3,513.6 178.5,519.7 179.8,516.7 181.0,514.5 182.2,516.1 183.4,516.4 184.6,521.5 185.8,517.9 187.1,517.4 188.3,518.7 189.5,518.7 190.7,514.5 191.9,520.9 193.1,519.2 194.4,521.7 195.6,523.9 196.8,519.7 198.0,525.1 199.2,518.0 200.4,517.3 201.7,512.0 202.9,519.5 204.1,515.8 205.3,514.9 206.5,514.8 207.7,517.4 209.0,518.6 210.2,517.6 211.4,515.3 212.6,514.3 213.8,511.5 215.0,514.3 216.2,516.8 217.5,514.7 218.7,520.0 219.9,517.8 221.1,514.8 222.3,516.6 223.5,515.9 224.8,513.6 226.0,514.6 227.2,511.8 228.4,514.5 229.6,517.5 230.8,514.0 232.1,518.9 233.3,514.5 234.5,516.6 235.7,515.9 236.9,513.4 238.1,512.3 239.4,515.7 240.6,516.4 241.8,514.6 243.0,514.3 244.2,508.3 245.4,513.0 246.7,516.4 247.9,516.6 249.1,515.1 250.3,512.6 251.5,516.1 252.7,513.5 254.0,515.8 255.2,517.2 256.4,512.0 257.6,513.3 258.8,514.4 260.0,514.7 261.2,514.0 262.5,515.6 263.7,515.7 264.9,512.4 266.1,513.3 267.3,515.7 268.5,511.2 269.8,512.2 271.0,508.6 272.2,510.7 273.4,516.3 274.6,516.2 275.8,510.6 277.1,514.8 278.3,511.6 279.5,511.0 280.7,509.5 281.9,511.7 283.1,505.6 284.4,511.1 285.6,507.8 286.8,506.7 288.0,502.4 289.2,510.3 290.4,506.5 291.7,504.6 292.9,503.6 294.1,504.8 295.3,501.8 296.5,503.4 297.7,504.4 299.0,501.4 300.2,501.4 301.4,505.2 302.6,501.0 303.8,501.0 305.0,503.8 306.2,507.0 307.5,506.5 308.7,500.8 309.9,507.0 311.1,500.1 312.3,501.9 313.5,504.0 314.8,505.3 316.0,505.3 317.2,505.1 318.4,500.7 319.6,501.5 320.8,505.1 322.1,506.5 323.3,505.8 324.5,504.8 325.7,506.7 326.9,508.1 328.1,500.3 329.4,508.9 330.6,509.9 331.8,507.8 333.0,505.2 334.2,506.6 335.4,506.7 336.7,510.8 337.9,507.4 339.1,508.4 340.3,508.8 341.5,507.2 342.7,505.7 343.9,503.5 345.2,505.4 346.4,508.3 347.6,508.3 348.8,502.8 350.0,505.7 351.2,506.5 352.5,507.9 353.7,505.5 354.9,505.5 356.1,506.2 357.3,507.0 358.5,506.1 359.8,504.4 361.0,505.4 362.2,506.1 363.4,504.7 364.6,505.5 365.8,505.3 367.1,502.6 368.3,509.2 369.5,505.4 370.7,507.1 371.9,509.3 373.1,506.1 374.4,503.8 375.6,505.3 376.8,503.7 378.0,504.5 379.2,506.6 380.4,503.7 381.7,506.3 382.9,505.6 384.1,508.2 385.3,506.1 386.5,506.8 387.7,506.4 388.9,504.3 390.2,504.5 391.4,503.3 392.6,502.9 393.8,509.2 395.0,503.1 396.2,507.4 397.5,504.7 398.7,503.0 399.9,505.2 401.1,506.8 402.3,507.0 403.5,507.3 404.8,505.0 406.0,505.9 407.2,503.8 408.4,503.6 409.6,506.5 410.8,506.9 412.1,504.7 413.3,505.1 414.5,503.9 415.7,505.1 416.9,502.8 418.1,505.4 419.4,505.0 420.6,504.7 421.8,509.1 423.0,503.6 424.2,505.6 425.4,506.4 426.7,503.5 427.9,506.8 429.1,503.4 430.3,505.8 431.5,505.4 432.7,507.9 433.9,501.9 435.2,508.0 436.4,510.4 437.6,506.3 438.8,503.0 440.0,505.4 441.2,502.7 442.5,506.6 443.7,505.4 444.9,502.8 446.1,508.5 447.3,504.6 448.5,508.0 449.8,504.4 451.0,504.3 452.2,502.7 453.4,505.6 454.6,504.8 455.8,503.3 457.1,508.5 458.3,504.8 459.5,508.9 460.7,505.6 461.9,501.5 463.1,502.1 464.4,505.5 465.6,508.3 466.8,504.6 468.0,503.1 469.2,503.4 470.4,507.1 471.7,507.9 472.9,504.6 474.1,503.2 475.3,502.8 476.5,506.4 477.7,502.9 478.9,504.9 480.2,504.5 481.4,508.3 482.6,501.4 483.8,502.8 485.0,503.9 486.2,507.3 487.5,504.0 488.7,506.9 489.9,503.5 491.1,501.2 492.3,503.2 493.5,507.3 494.8,503.8 496.0,502.7 497.2,504.4 498.4,503.2 499.6,505.4 500.8,505.3 502.1,506.6 503.3,505.8 504.5,509.5 505.7,501.8 506.9,507.2 508.1,498.8 509.4,506.2 510.6,503.6 511.8,504.1 513.0,503.7 514.2,505.7 515.4,504.3 516.7,506.4 517.9,504.7 519.1,506.9 520.3,509.5 521.5,505.8 522.7,505.7 523.9,503.4 525.2,505.3 526.4,504.5 527.6,503.1 528.8,503.3 530.0,508.9 531.2,501.4 532.5,502.3 533.7,502.8 534.9,504.8 536.1,504.2 537.3,505.7 538.5,505.6 539.8,505.1 541.0,502.9 542.2,503.7 543.4,506.8 544.6,507.0 545.8,504.2 547.1,505.9 548.3,503.5 549.5,503.2 550.7,502.3 551.9,506.7 553.1,508.8 554.4,505.4 555.6,506.1 556.8,506.4 558.0,504.8 559.2,501.0 560.4,506.9 561.7,505.7 562.9,507.7 564.1,504.9 565.3,504.3 566.5,509.1 567.7,508.5 568.9,506.3 570.2,502.5 571.4,503.5 572.6,503.4 573.8,505.4 575.0,504.8 576.2,504.7 577.5,506.5 578.7,502.2 579.9,501.6 581.1,505.0 582.3,505.9 583.5,505.2 584.8,508.7 586.0,504.3 587.2,504.3 588.4,504.5 589.6,503.2 590.8,506.6 592.1,505.6 593.3,507.8 594.5,501.4 595.7,502.5 596.9,507.1 598.1,505.8 599.4,504.7 600.6,505.6 601.8,506.6 603.0,503.7 604.2,507.4 605.4,506.3 606.7,504.9 607.9,504.6 609.1,507.3 610.3,504.9" fill="none" stroke="#6b88b0" stroke-width="1.2"/><path d="M73.6,492.8H610.3M73.6,532.2H610.3" stroke="#7f819c" stroke-width="1.6"/><defs><marker id="mk9" markerWidth="8" markerHeight="8" refX="4" refY="4" markerUnits="userSpaceOnUse"><circle cx="4" cy="4" r="2.7" fill="#e8a0b2"/></marker></defs><polyline clip-path="url(#clipP)" points="69.0,416.3 70.1,440.3 71.2,435.0 72.3,431.4 73.3,444.2 74.4,427.1 75.5,444.8 76.6,437.8 77.7,437.6 78.8,447.3 79.8,438.6 80.9,444.9 82.0,442.9 83.1,437.9 84.2,429.9 85.3,415.0 86.3,421.0 87.4,407.7 88.5,414.9 89.6,407.0 90.7,403.4 91.8,410.1 92.8,424.5 93.9,428.3 95.0,423.7 96.1,427.6 97.2,428.4 98.3,434.8 99.4,443.2 100.4,444.1 101.5,437.7 102.6,439.4 103.7,431.5 104.8,434.2 105.9,444.0 106.9,443.2 108.0,437.3 109.1,433.9 110.2,433.7 111.3,428.5 112.4,425.7 113.4,435.3 114.5,426.1 115.6,434.6 116.7,425.8 117.8,431.9 118.9,441.4 119.9,435.6 121.0,431.7 122.1,433.7 123.2,423.8 124.3,437.4 125.4,428.0 126.4,427.8 127.5,428.4 128.6,432.6 129.7,428.5 130.8,428.8 131.9,434.6 133.0,433.1 134.0,438.6 135.1,436.4 136.2,438.4 137.3,426.2 138.4,432.6 139.5,434.9 140.5,436.7 141.6,430.6 142.7,435.3 143.8,437.7 144.9,427.4 146.0,427.8 147.0,428.0 148.1,433.3 149.2,426.6 150.3,432.2 151.4,429.8 152.5,427.2 153.5,423.2 154.6,443.4 155.7,438.4 156.8,437.3 157.9,424.4 159.0,436.4 160.1,430.4 161.1,426.0 162.2,429.4 163.3,429.8 164.4,439.9 165.5,432.9 166.6,431.9 167.6,434.4 168.7,434.4 169.8,426.2 170.9,438.8 172.0,435.5 173.1,440.4 174.1,444.7 175.2,436.4 176.3,447.1 177.4,433.1 178.5,431.7 179.6,421.1 180.6,436.1 181.7,428.7 182.8,426.8 183.9,426.8 185.0,431.9 186.1,434.2 187.1,432.3 188.2,427.8 189.3,425.8 190.4,420.1 191.5,425.7 192.6,430.6 193.7,426.6 194.7,437.1 195.8,432.6 196.9,426.8 198.0,430.3 199.1,428.9 200.2,424.4 201.2,426.2 202.3,420.8 203.4,426.1 204.5,432.0 205.6,425.2 206.7,434.8 207.7,426.2 208.8,430.3 209.9,429.0 211.0,423.9 212.1,421.7 213.2,428.5 214.2,429.9 215.3,426.3 216.4,425.6 217.5,413.8 218.6,423.2 219.7,429.9 220.8,430.4 221.8,427.3 222.9,422.3 224.0,429.3 225.1,424.2 226.2,428.7 227.3,431.4 228.3,421.1 229.4,423.8 230.5,426.0 231.6,426.5 232.7,425.2 233.8,428.3 234.8,428.4 235.9,422.0 237.0,423.8 238.1,428.6 239.2,419.6 240.3,421.6 241.3,414.4 242.4,418.6 243.5,429.7 244.6,429.6 245.7,418.3 246.8,426.7 247.8,420.4 248.9,419.2 250.0,416.2 251.1,420.7 252.2,408.6 253.3,419.3 254.4,412.9 255.4,410.7 256.5,402.2 257.6,417.9 258.7,410.2 259.8,406.6 260.9,404.5 261.9,406.9 263.0,400.9 264.1,404.2 265.2,406.1 266.3,400.1 267.4,400.2 268.4,407.7 269.5,399.3 270.6,399.5 271.7,405.0 272.8,411.3 273.9,410.3 274.9,399.1 276.0,411.3 277.1,397.6 278.2,401.2 279.3,405.2 280.4,408.0 281.5,408.0 282.5,407.6 283.6,398.8 284.7,400.4 285.8,407.5 286.9,410.2 288.0,408.9 289.0,406.9 290.1,410.7 291.2,413.5 292.3,398.1 293.4,415.0 294.5,417.0 295.5,412.9 296.6,407.7 297.7,410.4 298.8,410.6 299.9,418.8 301.0,412.1 302.0,414.1 303.1,414.9 304.2,411.7 305.3,408.7 306.4,404.4 307.5,408.2 308.5,413.8 309.6,413.9 310.7,402.9 311.8,408.7 312.9,410.3 314.0,413.1 315.1,408.3 316.1,408.4 317.2,409.6 318.3,411.2 319.4,409.5 320.5,406.2 321.6,408.2 322.6,409.5 323.7,406.7 324.8,408.2 325.9,407.9 327.0,402.6 328.1,415.6 329.1,408.1 330.2,411.5 331.3,415.8 332.4,409.5 333.5,404.9 334.6,407.8 335.6,404.7 336.7,406.3 337.8,410.5 338.9,404.7 340.0,409.8 341.1,408.5 342.2,413.6 343.2,409.5 344.3,410.9 345.4,410.0 346.5,405.9 347.6,406.4 348.7,403.9 349.7,403.1 350.8,415.6 351.9,403.6 353.0,412.0 354.1,406.7 355.2,403.3 356.2,407.7 357.3,410.9 358.4,411.2 359.5,411.9 360.6,407.3 361.7,409.2 362.7,405.0 363.8,404.5 364.9,410.2 366.0,411.0 367.1,406.7 368.2,407.5 369.3,405.2 370.3,407.6 371.4,403.0 372.5,408.1 373.6,407.3 374.7,406.8 375.8,415.3 376.8,404.5 377.9,408.5 379.0,410.1 380.1,404.4 381.2,410.8 382.3,404.1 383.3,409.0 384.4,408.0 385.5,413.0 386.6,401.1 387.7,413.3 388.8,418.0 389.8,409.9 390.9,403.4 392.0,408.0 393.1,402.7 394.2,410.5 395.3,408.0 396.3,403.0 397.4,414.2 398.5,406.5 399.6,413.2 400.7,406.1 401.8,406.0 402.9,402.7 403.9,408.6 405.0,406.8 406.1,403.9 407.2,414.2 408.3,406.8 409.4,415.1 410.4,408.6 411.5,400.5 412.6,401.6 413.7,408.2 414.8,413.8 415.9,406.5 416.9,403.6 418.0,404.2 419.1,411.4 420.2,413.1 421.3,406.6 422.4,403.8 423.4,402.9 424.5,410.1 425.6,403.1 426.7,407.1 427.8,406.4 428.9,413.8 430.0,400.1 431.0,403.0 432.1,405.1 433.2,411.8 434.3,405.4 435.4,411.1 436.5,404.4 437.5,399.8 438.6,403.8 439.7,411.9 440.8,405.0 441.9,402.8 443.0,406.1 444.0,403.8 445.1,408.1 446.2,407.8 447.3,410.4 448.4,409.0 449.5,416.2 450.5,401.0 451.6,411.6 452.7,395.0 453.8,409.6 454.9,404.5 456.0,405.5 457.0,404.7 458.1,408.7 459.2,405.9 460.3,410.1 461.4,406.7 462.5,411.0 463.6,416.3 464.6,408.8 465.7,408.6 466.8,404.2 467.9,408.0 469.0,406.4 470.1,403.6 471.1,404.0 472.2,415.1 473.3,400.3 474.4,401.9 475.5,402.9 476.6,406.8 477.6,405.8 478.7,408.8 479.8,408.5 480.9,407.5 482.0,403.1 483.1,404.7 484.1,410.9 485.2,411.3 486.3,405.8 487.4,409.2 488.5,404.3 489.6,403.7 490.7,402.0 491.7,410.7 492.8,414.9 493.9,408.1 495.0,409.4 496.1,410.0 497.2,406.8 498.2,399.3 499.3,411.2 500.4,408.8 501.5,412.7 502.6,407.1 503.7,405.9 504.7,415.3 505.8,414.3 506.9,409.9 508.0,402.5 509.1,404.4 510.2,404.2 511.2,408.1 512.3,406.9 513.4,406.7 514.5,410.4 515.6,401.8 516.7,400.5 517.7,407.4 518.8,409.2 519.9,407.7 521.0,414.7 522.1,405.8 523.2,405.9 524.3,406.4 525.3,403.7 526.4,410.4 527.5,408.5 528.6,412.9 529.7,400.1 530.8,402.4 531.8,411.6 532.9,409.0 534.0,406.6 535.1,408.6 536.2,410.5 537.3,404.8 538.3,412.0 539.4,409.8 540.5,407.1 541.6,406.6 542.7,411.8 543.8,407.1" fill="none" stroke="#e8a0b2" stroke-width="2.4" stroke-linejoin="round" marker-start="url(#mk9)" marker-mid="url(#mk9)" marker-end="url(#mk9)"/><path d="M73.6,492.8V532.2" stroke="#b9b8d0" stroke-width="1.4"/><rect x="69.39999999999999" y="500" width="8.4" height="25" rx="3" fill="#3a3859" stroke="#a9a7c4" stroke-width="1.4"/><path d="M610.3,492.8V532.2" stroke="#b9b8d0" stroke-width="1.4"/><rect x="606.0999999999999" y="500" width="8.4" height="25" rx="3" fill="#3a3859" stroke="#a9a7c4" stroke-width="1.4"/><path d="M471.3,87.3V89.8M471.3,93.6V107.1H486.8V91.8H476.2M466.3,91.8H474M509,86.6L503.8,91.8L509,97M503.8,91.8H520.4V107.1H504.6V97.8M537.5,99.0A10.3,10.3 0 0 1 556.8999999999999,93.0M558.0999999999999,96.0A10.3,10.3 0 0 1 538.7,102.0M558.3999999999999,88.0V93.5H552.5999999999999M537.2,107.0V101.5H543.0M584.1,87V103M574.9,95.2L584.1,103.6L593,95.2M574.9,101.8V107.7H593V101.8M610.9,87.3H620.5L625,91.9V107.7H610.9ZM613.2,93.6H617M613.2,98H622.2M613.2,102.5H622.2" fill="none" stroke="#8f8da4" stroke-width="1.5"/><rect x="592" y="22" width="42.5" height="42.5" rx="8" fill="#222227"/><path d="M606.3,40.6 V36.6 Q606.3,35.1 607.8,35.1 H611.8 M616.0999999999999,35.1 H620.0999999999999 Q621.5999999999999,35.1 621.5999999999999,36.6 V40.6 M621.5999999999999,44.900000000000006 V48.900000000000006 Q621.5999999999999,50.400000000000006 620.0999999999999,50.400000000000006 H616.0999999999999 M611.8,50.400000000000006 H607.8 Q606.3,50.400000000000006 606.3,48.900000000000006 V44.900000000000006" fill="none" stroke="#f6a583" stroke-width="3" stroke-linecap="round"/></svg><div class="ttl">scalar "layer 3 mean"</div></div><div class="card" style="left:351px;top:1246px"><svg width="663" height="570" viewBox="0 0 663 570" font-family='"Liberation Sans", sans-serif'><defs><clipPath id="clipL"><rect x="29" y="0" width="600" height="570"/></clipPath><clipPath id="clipP"><rect x="63.0" y="96.5" width="551.8" height="427.5"/></clipPath></defs><path d="M69.0,104.5H608.8M69.0,186.8H608.8M69.0,269.1H608.8M69.0,351.4H608.8M69.0,433.7H608.8M175.2,104.5V516.0M283.6,104.5V516.0M392.0,104.5V516.0M500.4,104.5V516.0M608.8,104.5V516.0" stroke="#37363f" stroke-width="1.5" fill="none"/><path d="M69.0,104.5V516.0M62.0,104.5H69.0M62.0,186.8H69.0M62.0,269.1H69.0M62.0,351.4H69.0M62.0,433.7H69.0M62.0,516.0H69.0M69.0,516.0H608.8M69.0,516.0V523.0M175.2,516.0V523.0M283.6,516.0V523.0M392.0,516.0V523.0M500.4,516.0V523.0M608.8,516.0V523.0" stroke="#aeadc4" stroke-width="1.4" fill="none"/><g clip-path="url(#clipL)" fill="#a3a2b0" font-size="18" text-anchor="end"><text x="57.0" y="108.7">5</text><text x="57.0" y="191.0">4</text><text x="57.0" y="273.3">3</text><text x="57.0" y="355.6">2</text><text x="57.0" y="437.9">1</text><text x="57.0" y="520.2">0</text></g><g fill="#a3a2b0" font-size="18" text-anchor="middle" letter-spacing="-0.3"><text x="69.0" y="539.5">20</text><text x="175.2" y="539.5">1,000</text><text x="283.6" y="539.5">2,000</text><text x="392.0" y="539.5">3,000</text><text x="500.4" y="539.5">4,000</text><text x="608.8" y="539.5">5,000</text></g><rect x="72.5" y="483.5" width="539.0" height="8.5" rx="2" fill="rgb(112,114,128)" fill-opacity="0.5"/><path d="M338.45,485.5v4.5M341.95,485.5v4.5M345.45,485.5v4.5" stroke="#e8e8ee" stroke-width="1.6"/><rect x="73.6" y="492.8" width="536.6999999999999" height="39.400000000000034" fill="rgb(80,100,140)" fill-opacity="0.3"/><rect x="73.6" y="516.0" width="536.6999999999999" height="16.200000000000045" fill="rgb(120,135,170)" fill-opacity="0.3"/><polyline points="77.6,507.9 78.8,510.1 80.0,514.4 81.2,509.4 82.5,511.6 83.7,509.6 84.9,508.1 86.1,502.4 87.3,502.3 88.5,500.2 89.8,502.9 91.0,502.0 92.2,502.1 93.4,498.8 94.6,510.1 95.8,503.8 97.1,509.8 98.3,512.2 99.5,512.3 100.7,517.7 101.9,517.3 103.1,517.2 104.4,524.3 105.6,517.2 106.8,518.5 108.0,514.6 109.2,516.0 110.4,513.9 111.7,507.1 112.9,511.5 114.1,510.1 115.3,506.8 116.5,504.4 117.7,513.5 119.0,504.0 120.2,506.7 121.4,505.0 122.6,509.4 123.8,506.1 125.0,502.9 126.2,506.8 127.5,507.8 128.7,507.2 129.9,507.3 131.1,504.0 132.3,505.2 133.5,506.7 134.8,503.6 136.0,507.7 137.2,508.2 138.4,499.2 139.6,506.0 140.8,500.7 142.1,504.4 143.3,504.5 144.5,502.6 145.7,505.5 146.9,505.2 148.1,503.7 149.4,504.1 150.6,501.7 151.8,499.1 153.0,505.9 154.2,505.3 155.4,501.8 156.7,502.4 157.9,501.1 159.1,505.2 160.3,502.4 161.5,503.8 162.7,507.3 164.0,502.9 165.2,507.3 166.4,502.9 167.6,505.1 168.8,504.7 170.0,499.9 171.2,501.2 172.5,503.6 173.7,503.8 174.9,506.3 176.1,502.2 177.3,503.6 178.5,506.7 179.8,508.4 181.0,505.1 182.2,505.6 183.4,503.5 184.6,507.4 185.8,507.3 187.1,504.9 188.3,505.7 189.5,504.2 190.7,504.0 191.9,508.2 193.1,511.3 194.4,506.7 195.6,508.4 196.8,506.7 198.0,512.6 199.2,507.7 200.4,507.5 201.7,508.9 202.9,507.0 204.1,508.0 205.3,508.0 206.5,506.2 207.7,506.4 209.0,506.8 210.2,508.6 211.4,509.3 212.6,508.7 213.8,509.4 215.0,511.6 216.2,509.7 217.5,508.9 218.7,511.6 219.9,513.1 221.1,510.2 222.3,512.7 223.5,514.1 224.8,511.8 226.0,514.1 227.2,510.8 228.4,512.4 229.6,511.3 230.8,509.4 232.1,509.4 233.3,511.7 234.5,515.7 235.7,512.4 236.9,513.7 238.1,510.0 239.4,508.8 240.6,510.4 241.8,510.5 243.0,510.7 244.2,510.5 245.4,512.4 246.7,510.1 247.9,512.3 249.1,513.9 250.3,511.7 251.5,509.0 252.7,512.2 254.0,515.0 255.2,509.7 256.4,511.5 257.6,511.0 258.8,512.8 260.0,511.1 261.2,509.2 262.5,513.2 263.7,510.8 264.9,511.4 266.1,513.6 267.3,511.8 268.5,511.1 269.8,513.6 271.0,510.1 272.2,514.1 273.4,510.2 274.6,511.2 275.8,511.8 277.1,513.6 278.3,513.7 279.5,516.2 280.7,512.4 281.9,512.6 283.1,512.0 284.4,511.7 285.6,513.7 286.8,515.1 288.0,513.4 289.2,515.7 290.4,516.2 291.7,518.7 292.9,515.5 294.1,519.0 295.3,514.9 296.5,520.0 297.7,519.8 299.0,519.2 300.2,520.9 301.4,522.5 302.6,522.4 303.8,522.2 305.0,521.6 306.2,519.9 307.5,520.4 308.7,521.0 309.9,520.2 311.1,525.2 312.3,522.6 313.5,522.5 314.8,523.3 316.0,520.8 317.2,522.2 318.4,522.6 319.6,518.9 320.8,521.0 322.1,520.0 323.3,521.6 324.5,517.3 325.7,518.3 326.9,515.6 328.1,513.9 329.4,516.1 330.6,517.3 331.8,518.0 333.0,514.0 334.2,516.9 335.4,515.5 336.7,516.1 337.9,521.9 339.1,516.1 340.3,516.1 341.5,515.9 342.7,516.4 343.9,515.8 345.2,517.7 346.4,515.1 347.6,516.8 348.8,515.7 350.0,513.2 351.2,515.5 352.5,517.4 353.7,515.1 354.9,518.0 356.1,515.4 357.3,513.4 358.5,517.4 359.8,515.9 361.0,517.1 362.2,515.4 363.4,515.2 364.6,515.4 365.8,516.1 367.1,518.7 368.3,517.1 369.5,516.4 370.7,514.4 371.9,518.9 373.1,514.0 374.4,516.9 375.6,518.4 376.8,513.4 378.0,515.2 379.2,517.2 380.4,515.3 381.7,514.8 382.9,518.0 384.1,513.7 385.3,517.1 386.5,514.5 387.7,516.6 388.9,518.2 390.2,516.7 391.4,516.6 392.6,515.6 393.8,518.4 395.0,517.3 396.2,515.3 397.5,516.4 398.7,516.6 399.9,515.1 401.1,517.9 402.3,512.7 403.5,517.0 404.8,515.2 406.0,516.1 407.2,514.3 408.4,516.5 409.6,517.0 410.8,515.4 412.1,514.9 413.3,516.1 414.5,512.6 415.7,514.7 416.9,513.7 418.1,513.9 419.4,514.2 420.6,516.1 421.8,513.3 423.0,516.4 424.2,515.6 425.4,513.7 426.7,514.4 427.9,517.5 429.1,516.3 430.3,517.2 431.5,514.1 432.7,516.4 433.9,515.8 435.2,516.9 436.4,516.7 437.6,514.9 438.8,517.4 440.0,515.8 441.2,516.7 442.5,516.5 443.7,517.9 444.9,514.1 446.1,518.4 447.3,517.8 448.5,516.6 449.8,515.8 451.0,517.1 452.2,518.4 453.4,516.7 454.6,517.5 455.8,517.0 457.1,513.5 458.3,519.1 459.5,516.0 460.7,515.4 461.9,516.6 463.1,516.5 464.4,514.4 465.6,516.3 466.8,518.6 468.0,516.6 469.2,515.4 470.4,516.6 471.7,516.9 472.9,515.7 474.1,516.8 475.3,515.8 476.5,515.0 477.7,517.0 478.9,518.4 480.2,514.0 481.4,515.4 482.6,517.2 483.8,518.2 485.0,516.0 486.2,515.7 487.5,515.3 488.7,515.5 489.9,516.7 491.1,516.7 492.3,518.3 493.5,517.2 494.8,516.8 496.0,514.5 497.2,518.1 498.4,513.3 499.6,514.7 500.8,516.9 502.1,517.0 503.3,515.8 504.5,515.5 505.7,515.0 506.9,518.7 508.1,516.6 509.4,515.4 510.6,514.8 511.8,515.4 513.0,516.2 514.2,515.7 515.4,516.9 516.7,513.6 517.9,514.8 519.1,515.5 520.3,517.0 521.5,516.2 522.7,515.6 523.9,516.0 525.2,513.7 526.4,513.1 527.6,514.7 528.8,517.9 530.0,515.1 531.2,516.9 532.5,516.1 533.7,513.3 534.9,518.7 536.1,518.2 537.3,517.1 538.5,515.0 539.8,516.8 541.0,519.1 542.2,515.6 543.4,515.2 544.6,514.4 545.8,516.0 547.1,514.5 548.3,517.1 549.5,514.9 550.7,514.4 551.9,516.6 553.1,516.8 554.4,514.4 555.6,517.3 556.8,517.5 558.0,516.1 559.2,515.4 560.4,514.9 561.7,516.9 562.9,515.5 564.1,517.5 565.3,517.9 566.5,512.6 567.7,517.3 568.9,518.5 570.2,515.8 571.4,517.3 572.6,515.2 573.8,520.0 575.0,517.9 576.2,514.7 577.5,515.9 578.7,517.6 579.9,514.1 581.1,514.7 582.3,516.8 583.5,514.6 584.8,515.4 586.0,518.1 587.2,517.4 588.4,516.0 589.6,517.9 590.8,518.6 592.1,517.1 593.3,515.3 594.5,516.1 595.7,517.8 596.9,520.0 598.1,515.2 599.4,516.7 600.6,515.2 601.8,516.5 603.0,517.1 604.2,516.1 605.4,517.5 606.7,517.2 607.9,517.8 609.1,519.7 610.3,514.9" fill="none" stroke="#6b88b0" stroke-width="1.2"/><path d="M73.6,492.8H610.3M73.6,532.2H610.3" stroke="#7f819c" stroke-width="1.6"/><defs><marker id="mk10" markerWidth="8" markerHeight="8" refX="4" refY="4" markerUnits="userSpaceOnUse"><circle cx="4" cy="4" r="2.7" fill="#8ebefd"/></marker></defs><polyline clip-path="url(#clipP)" points="69.0,186.1 70.1,194.7 71.2,210.7 72.3,192.0 73.3,200.2 74.4,192.5 75.5,187.0 76.6,165.7 77.7,165.1 78.8,157.1 79.8,167.2 80.9,164.0 82.0,164.6 83.1,152.0 84.2,194.6 85.3,170.7 86.3,193.5 87.4,202.2 88.5,202.9 89.6,223.1 90.7,221.7 91.8,221.2 92.8,247.9 93.9,221.3 95.0,226.2 96.1,211.6 97.2,216.9 98.3,208.8 99.4,183.3 100.4,199.8 101.5,194.5 102.6,182.2 103.7,173.0 104.8,207.4 105.9,171.4 106.9,181.7 108.0,175.5 109.1,192.0 110.2,179.5 111.3,167.4 112.4,181.9 113.4,186.0 114.5,183.7 115.6,183.8 116.7,171.7 117.8,176.3 118.9,181.6 119.9,170.0 121.0,185.4 122.1,187.5 123.2,153.6 124.3,179.1 125.4,159.3 126.4,173.0 127.5,173.4 128.6,166.4 129.7,177.2 130.8,176.3 131.9,170.3 133.0,171.9 134.0,162.9 135.1,153.1 136.2,178.8 137.3,176.5 138.4,163.4 139.5,165.5 140.5,160.8 141.6,176.0 142.7,165.4 143.8,170.9 144.9,183.8 146.0,167.6 147.0,183.9 148.1,167.6 149.2,175.7 150.3,174.0 151.4,156.0 152.5,161.2 153.5,170.1 154.6,170.7 155.7,180.1 156.8,164.8 157.9,170.0 159.0,181.7 160.1,188.2 161.1,175.8 162.2,177.5 163.3,169.9 164.4,184.5 165.5,184.1 166.6,174.9 167.6,178.1 168.7,172.3 169.8,171.7 170.9,187.4 172.0,199.0 173.1,181.6 174.1,188.1 175.2,181.6 176.3,203.9 177.4,185.4 178.5,184.7 179.6,190.1 180.6,182.9 181.7,186.7 182.8,186.6 183.9,179.7 185.0,180.6 186.1,182.1 187.1,188.9 188.2,191.4 189.3,189.2 190.4,191.8 191.5,200.1 192.6,192.9 193.7,190.0 194.7,200.2 195.8,205.9 196.9,194.9 198.0,204.4 199.1,209.6 200.2,201.0 201.2,209.5 202.3,197.1 203.4,203.0 204.5,199.0 205.6,191.7 206.7,192.0 207.7,200.5 208.8,215.4 209.9,203.2 211.0,208.1 212.1,194.0 213.2,189.6 214.2,195.5 215.3,196.0 216.4,196.7 217.5,195.9 218.6,203.1 219.7,194.6 220.8,202.9 221.8,208.7 222.9,200.6 224.0,190.3 225.1,202.4 226.2,213.0 227.3,193.0 228.3,199.8 229.4,197.8 230.5,204.6 231.6,198.4 232.7,191.0 233.8,206.1 234.8,197.3 235.9,199.6 237.0,207.7 238.1,200.9 239.2,198.3 240.3,207.8 241.3,194.7 242.4,209.7 243.5,195.0 244.6,198.5 245.7,201.0 246.8,207.8 247.8,207.9 248.9,217.3 250.0,203.2 251.1,203.9 252.2,201.5 253.3,200.6 254.4,208.0 255.4,213.5 256.5,207.0 257.6,215.5 258.7,217.7 259.8,227.1 260.9,214.9 261.9,227.9 263.0,212.7 264.1,232.0 265.2,230.9 266.3,228.7 267.4,235.1 268.4,241.3 269.5,240.7 270.6,240.1 271.7,237.7 272.8,231.5 273.9,233.5 274.9,235.6 276.0,232.6 277.1,251.3 278.2,241.5 279.3,241.1 280.4,244.1 281.5,234.7 282.5,240.2 283.6,241.5 284.7,227.6 285.8,235.7 286.9,231.7 288.0,238.0 289.0,221.5 290.1,225.3 291.2,215.2 292.3,208.9 293.4,216.9 294.5,221.8 295.5,224.2 296.6,209.0 297.7,220.2 298.8,214.9 299.9,217.0 301.0,239.0 302.0,217.2 303.1,216.9 304.2,216.5 305.3,218.3 306.4,215.8 307.5,223.3 308.5,213.2 309.6,219.8 310.7,215.5 311.8,206.2 312.9,214.7 314.0,222.1 315.1,213.4 316.1,224.2 317.2,214.4 318.3,207.0 319.4,221.9 320.5,216.4 321.6,220.8 322.6,214.5 323.7,213.5 324.8,214.5 325.9,217.2 327.0,227.0 328.1,221.0 329.1,218.2 330.2,210.7 331.3,227.6 332.4,209.1 333.5,220.1 334.6,225.7 335.6,206.9 336.7,213.6 337.8,221.3 338.9,214.1 340.0,212.1 341.1,224.3 342.2,208.1 343.2,220.8 344.3,210.9 345.4,219.1 346.5,225.2 347.6,219.3 348.7,218.9 349.7,215.1 350.8,225.7 351.9,221.8 353.0,214.0 354.1,218.1 355.2,219.0 356.2,213.3 357.3,223.7 358.4,204.2 359.5,220.3 360.6,213.8 361.7,216.9 362.7,210.2 363.8,218.6 364.9,220.6 366.0,214.6 367.1,212.5 368.2,216.9 369.3,204.1 370.3,211.7 371.4,208.1 372.5,208.6 373.6,210.1 374.7,217.2 375.8,206.7 376.8,218.3 377.9,215.3 379.0,208.1 380.1,210.7 381.2,222.5 382.3,218.0 383.3,221.4 384.4,209.6 385.5,218.3 386.6,216.2 387.7,220.2 388.8,219.2 389.8,212.4 390.9,222.1 392.0,216.0 393.1,219.2 394.2,218.5 395.3,223.8 396.3,209.7 397.4,225.7 398.5,223.5 399.6,218.9 400.7,216.1 401.8,220.8 402.9,225.8 403.9,219.2 405.0,222.3 406.1,220.4 407.2,207.4 408.3,228.4 409.4,216.7 410.4,214.5 411.5,219.0 412.6,218.7 413.7,210.6 414.8,217.9 415.9,226.6 416.9,218.8 418.0,214.6 419.1,218.9 420.2,220.0 421.3,215.7 422.4,219.6 423.4,216.0 424.5,213.1 425.6,220.4 426.7,225.8 427.8,209.3 428.9,214.6 430.0,221.3 431.0,224.9 432.1,216.9 433.2,215.8 434.3,214.2 435.4,214.9 436.5,219.4 437.5,219.3 438.6,225.5 439.7,221.2 440.8,219.7 441.9,211.0 443.0,224.4 444.0,206.5 445.1,212.0 446.2,220.0 447.3,220.4 448.4,215.8 449.5,214.9 450.5,213.1 451.6,226.9 452.7,219.1 453.8,214.3 454.9,212.1 456.0,214.6 457.0,217.7 458.1,215.5 459.2,220.1 460.3,207.5 461.4,212.1 462.5,215.0 463.6,220.4 464.6,217.5 465.7,215.2 466.8,216.8 467.9,208.2 469.0,205.7 470.1,211.8 471.1,223.8 472.2,213.4 473.3,220.1 474.4,217.3 475.5,206.4 476.6,227.0 477.6,225.0 478.7,220.9 479.8,213.1 480.9,219.6 482.0,228.4 483.1,215.3 484.1,213.8 485.2,210.5 486.3,216.9 487.4,211.2 488.5,220.7 489.6,212.6 490.7,210.8 491.7,219.0 492.8,219.6 493.9,210.7 495.0,221.6 496.1,222.5 497.2,217.3 498.2,214.3 499.3,212.5 500.4,220.2 501.5,214.7 502.6,222.4 503.7,224.0 504.7,204.0 505.8,221.7 506.9,226.0 508.0,215.9 509.1,221.8 510.2,213.6 511.2,231.6 512.3,224.0 513.4,211.9 514.5,216.2 515.6,222.8 516.7,209.4 517.7,212.0 518.8,219.7 519.9,211.5 521.0,214.3 522.1,224.8 523.2,222.1 524.3,216.9 525.3,223.8 526.4,226.7 527.5,220.7 528.6,214.0 529.7,217.2 530.8,223.6 531.8,231.7 532.9,213.8 534.0,219.5 535.1,213.7 536.2,218.7 537.3,221.0 538.3,217.1 539.4,222.3 540.5,221.3 541.6,223.4 542.7,230.5 543.8,212.6" fill="none" stroke="#8ebefd" stroke-width="2.4" stroke-linejoin="round" marker-start="url(#mk10)" marker-mid="url(#mk10)" marker-end="url(#mk10)"/><path d="M73.6,492.8V532.2" stroke="#b9b8d0" stroke-width="1.4"/><rect x="69.39999999999999" y="500" width="8.4" height="25" rx="3" fill="#3a3859" stroke="#a9a7c4" stroke-width="1.4"/><path d="M610.3,492.8V532.2" stroke="#b9b8d0" stroke-width="1.4"/><rect x="606.0999999999999" y="500" width="8.4" height="25" rx="3" fill="#3a3859" stroke="#a9a7c4" stroke-width="1.4"/><path d="M471.3,87.3V89.8M471.3,93.6V107.1H486.8V91.8H476.2M466.3,91.8H474M509,86.6L503.8,91.8L509,97M503.8,91.8H520.4V107.1H504.6V97.8M537.5,99.0A10.3,10.3 0 0 1 556.8999999999999,93.0M558.0999999999999,96.0A10.3,10.3 0 0 1 538.7,102.0M558.3999999999999,88.0V93.5H552.5999999999999M537.2,107.0V101.5H543.0M584.1,87V103M574.9,95.2L584.1,103.6L593,95.2M574.9,101.8V107.7H593V101.8M610.9,87.3H620.5L625,91.9V107.7H610.9ZM613.2,93.6H617M613.2,98H622.2M613.2,102.5H622.2" fill="none" stroke="#8f8da4" stroke-width="1.5"/><rect x="592" y="22" width="42.5" height="42.5" rx="8" fill="#222227"/><path d="M606.3,40.6 V36.6 Q606.3,35.1 607.8,35.1 H611.8 M616.0999999999999,35.1 H620.0999999999999 Q621.5999999999999,35.1 621.5999999999999,36.6 V40.6 M621.5999999999999,44.900000000000006 V48.900000000000006 Q621.5999999999999,50.400000000000006 620.0999999999999,50.400000000000006 H616.0999999999999 M611.8,50.400000000000006 H607.8 Q606.3,50.400000000000006 606.3,48.900000000000006 V44.900000000000006" fill="none" stroke="#f6a583" stroke-width="3" stroke-linecap="round"/></svg><div class="ttl">scalar "layer 3 var"</div></div><div class="card" style="left:1047px;top:1246px"><svg width="663" height="570" viewBox="0 0 663 570" font-family='"Liberation Sans", sans-serif'><defs><clipPath id="clipL"><rect x="29" y="0" width="600" height="570"/></clipPath><clipPath id="clipP"><rect x="63.0" y="96.5" width="551.8" height="427.5"/></clipPath></defs><path d="M69.0,207.4H608.8M69.0,310.2H608.8M69.0,413.1H608.8M69.0,516.0H608.8M175.2,104.5V516.0M283.6,104.5V516.0M392.0,104.5V516.0M500.4,104.5V516.0M608.8,104.5V516.0" stroke="#37363f" stroke-width="1.5" fill="none"/><path d="M69.0,104.5V516.0M62.0,104.5H69.0M62.0,207.4H69.0M62.0,310.2H69.0M62.0,413.1H69.0M62.0,516.0H69.0M69.0,104.5H608.8M69.0,104.5V111.5M175.2,104.5V111.5M283.6,104.5V111.5M392.0,104.5V111.5M500.4,104.5V111.5M608.8,104.5V111.5" stroke="#aeadc4" stroke-width="1.4" fill="none"/><g clip-path="url(#clipL)" fill="#a3a2b0" font-size="18" text-anchor="end"><text x="57.0" y="108.7">0</text><text x="57.0" y="211.6">-0.01</text><text x="57.0" y="314.4">-0.02</text><text x="57.0" y="417.3">-0.03</text><text x="57.0" y="520.2">-0.04</text></g><g fill="#a3a2b0" font-size="18" text-anchor="middle" letter-spacing="-0.3"><text x="69.0" y="539.5">20</text><text x="175.2" y="539.5">1,000</text><text x="283.6" y="539.5">2,000</text><text x="392.0" y="539.5">3,000</text><text x="500.4" y="539.5">4,000</text><text x="608.8" y="539.5">5,000</text></g><rect x="72.5" y="483.5" width="539.0" height="8.5" rx="2" fill="rgb(112,114,128)" fill-opacity="0.5"/><path d="M338.45,485.5v4.5M341.95,485.5v4.5M345.45,485.5v4.5" stroke="#e8e8ee" stroke-width="1.6"/><rect x="73.6" y="492.8" width="536.6999999999999" height="39.400000000000034" fill="rgb(80,100,140)" fill-opacity="0.3"/><rect x="73.6" y="516.0" width="536.6999999999999" height="16.200000000000045" fill="rgb(120,135,170)" fill-opacity="0.3"/><polyline points="77.6,520.9 78.8,519.7 80.0,517.3 81.2,521.3 82.5,514.4 83.7,519.5 84.9,523.3 86.1,525.2 87.3,523.4 88.5,518.9 89.8,522.0 91.0,515.9 92.2,515.3 93.4,514.4 94.6,513.4 95.8,511.6 97.1,514.1 98.3,510.6 99.5,511.2 100.7,506.3 101.9,509.2 103.1,507.3 104.4,507.6 105.6,506.7 106.8,506.4 108.0,507.5 109.2,509.8 110.4,511.9 111.7,514.0 112.9,514.5 114.1,514.5 115.3,516.4 116.5,515.1 117.7,520.3 119.0,519.2 120.2,520.2 121.4,517.7 122.6,516.0 123.8,515.7 125.0,516.8 126.2,517.1 127.5,517.5 128.7,517.6 129.9,519.1 131.1,514.7 132.3,520.8 133.5,517.8 134.8,518.6 136.0,515.8 137.2,518.8 138.4,516.4 139.6,519.3 140.8,519.0 142.1,518.9 143.3,518.4 144.5,518.3 145.7,518.3 146.9,520.1 148.1,519.0 149.4,519.1 150.6,522.1 151.8,518.8 153.0,517.3 154.2,515.3 155.4,515.0 156.7,518.5 157.9,519.5 159.1,516.8 160.3,516.5 161.5,517.8 162.7,518.2 164.0,519.2 165.2,517.7 166.4,516.9 167.6,518.7 168.8,516.4 170.0,515.6 171.2,516.0 172.5,517.0 173.7,516.8 174.9,517.3 176.1,517.3 177.3,520.4 178.5,517.6 179.8,514.1 181.0,515.1 182.2,517.1 183.4,515.7 184.6,519.6 185.8,516.1 187.1,516.1 188.3,516.7 189.5,516.1 190.7,517.1 191.9,515.9 193.1,516.6 194.4,515.3 195.6,512.5 196.8,516.4 198.0,517.9 199.2,514.4 200.4,514.8 201.7,516.4 202.9,514.6 204.1,515.3 205.3,514.8 206.5,515.7 207.7,514.7 209.0,517.3 210.2,514.7 211.4,514.2 212.6,512.6 213.8,514.4 215.0,513.0 216.2,514.9 217.5,514.7 218.7,517.2 219.9,512.7 221.1,513.8 222.3,514.8 223.5,510.8 224.8,514.0 226.0,515.4 227.2,513.0 228.4,512.8 229.6,514.2 230.8,512.9 232.1,512.7 233.3,513.3 234.5,511.1 235.7,514.3 236.9,511.4 238.1,511.7 239.4,511.1 240.6,508.3 241.8,509.3 243.0,510.7 244.2,511.0 245.4,512.3 246.7,514.0 247.9,511.5 249.1,510.3 250.3,509.5 251.5,511.9 252.7,509.2 254.0,509.8 255.2,511.2 256.4,509.3 257.6,509.1 258.8,509.2 260.0,506.9 261.2,508.6 262.5,508.7 263.7,508.8 264.9,507.7 266.1,505.4 267.3,506.8 268.5,508.5 269.8,506.5 271.0,506.1 272.2,507.5 273.4,507.3 274.6,506.6 275.8,506.9 277.1,506.9 278.3,506.3 279.5,505.9 280.7,507.4 281.9,503.7 283.1,507.4 284.4,504.8 285.6,503.4 286.8,504.8 288.0,505.0 289.2,502.1 290.4,503.5 291.7,504.0 292.9,503.8 294.1,502.6 295.3,501.0 296.5,501.9 297.7,504.3 299.0,500.4 300.2,504.7 301.4,500.9 302.6,500.5 303.8,499.7 305.0,500.3 306.2,500.0 307.5,498.8 308.7,502.5 309.9,501.7 311.1,500.9 312.3,499.2 313.5,500.4 314.8,500.8 316.0,502.1 317.2,501.2 318.4,500.2 319.6,501.5 320.8,501.6 322.1,502.1 323.3,503.2 324.5,501.6 325.7,500.8 326.9,504.1 328.1,504.0 329.4,501.7 330.6,504.1 331.8,502.8 333.0,504.4 334.2,504.4 335.4,502.4 336.7,502.9 337.9,504.1 339.1,502.9 340.3,503.3 341.5,503.8 342.7,504.8 343.9,504.9 345.2,504.2 346.4,504.9 347.6,506.6 348.8,505.9 350.0,505.8 351.2,504.6 352.5,504.7 353.7,504.1 354.9,504.6 356.1,503.6 357.3,505.5 358.5,505.3 359.8,505.0 361.0,505.2 362.2,504.5 363.4,506.8 364.6,506.7 365.8,507.4 367.1,506.5 368.3,506.0 369.5,507.3 370.7,504.9 371.9,504.8 373.1,507.5 374.4,507.0 375.6,506.8 376.8,508.1 378.0,506.6 379.2,507.0 380.4,507.1 381.7,505.1 382.9,506.7 384.1,506.8 385.3,506.0 386.5,505.1 387.7,504.9 388.9,503.2 390.2,504.5 391.4,506.8 392.6,506.6 393.8,504.9 395.0,504.1 396.2,506.1 397.5,505.8 398.7,505.1 399.9,503.6 401.1,505.1 402.3,505.1 403.5,503.4 404.8,503.0 406.0,503.5 407.2,504.2 408.4,504.4 409.6,504.5 410.8,504.0 412.1,503.4 413.3,504.3 414.5,505.1 415.7,504.1 416.9,504.7 418.1,503.9 419.4,503.2 420.6,503.5 421.8,503.8 423.0,502.3 424.2,503.7 425.4,503.3 426.7,504.2 427.9,504.8 429.1,504.1 430.3,503.5 431.5,504.2 432.7,502.8 433.9,504.5 435.2,505.4 436.4,504.5 437.6,505.5 438.8,503.5 440.0,502.0 441.2,504.6 442.5,506.4 443.7,503.0 444.9,505.7 446.1,503.4 447.3,505.6 448.5,503.3 449.8,503.7 451.0,504.4 452.2,502.3 453.4,504.1 454.6,503.8 455.8,504.9 457.1,504.2 458.3,504.1 459.5,503.8 460.7,506.0 461.9,504.5 463.1,504.2 464.4,501.7 465.6,505.6 466.8,504.0 468.0,504.2 469.2,504.9 470.4,504.2 471.7,505.5 472.9,504.0 474.1,504.6 475.3,504.2 476.5,504.7 477.7,504.3 478.9,504.5 480.2,504.3 481.4,504.2 482.6,504.7 483.8,503.3 485.0,503.2 486.2,504.0 487.5,504.1 488.7,505.3 489.9,502.4 491.1,505.5 492.3,503.4 493.5,503.1 494.8,504.3 496.0,504.3 497.2,505.0 498.4,501.8 499.6,505.1 500.8,504.4 502.1,505.5 503.3,503.7 504.5,502.4 505.7,503.7 506.9,503.7 508.1,504.7 509.4,504.9 510.6,501.8 511.8,502.3 513.0,504.1 514.2,503.2 515.4,505.0 516.7,505.4 517.9,506.2 519.1,504.1 520.3,505.1 521.5,504.7 522.7,504.2 523.9,503.6 525.2,505.1 526.4,504.8 527.6,503.9 528.8,503.8 530.0,502.1 531.2,504.3 532.5,504.1 533.7,502.9 534.9,505.4 536.1,504.0 537.3,502.9 538.5,503.7 539.8,502.8 541.0,503.1 542.2,502.6 543.4,504.1 544.6,502.3 545.8,503.2 547.1,504.0 548.3,503.7 549.5,504.1 550.7,503.2 551.9,503.3 553.1,504.3 554.4,503.5 555.6,504.9 556.8,503.5 558.0,504.1 559.2,503.6 560.4,505.0 561.7,503.0 562.9,504.8 564.1,505.1 565.3,504.5 566.5,505.3 567.7,503.0 568.9,502.2 570.2,503.3 571.4,503.5 572.6,504.4 573.8,503.3 575.0,503.4 576.2,503.7 577.5,505.7 578.7,503.3 579.9,503.9 581.1,504.3 582.3,505.6 583.5,502.6 584.8,502.1 586.0,503.9 587.2,503.1 588.4,503.3 589.6,501.9 590.8,505.6 592.1,502.4 593.3,504.4 594.5,504.6 595.7,504.8 596.9,505.6 598.1,503.5 599.4,502.7 600.6,504.3 601.8,504.9 603.0,503.8 604.2,503.7 605.4,505.2 606.7,502.9 607.9,505.9 609.1,502.4 610.3,503.0" fill="none" stroke="#6b88b0" stroke-width="1.2"/><path d="M73.6,492.8H610.3M73.6,532.2H610.3" stroke="#7f819c" stroke-width="1.6"/><defs><marker id="mk11" markerWidth="8" markerHeight="8" refX="4" refY="4" markerUnits="userSpaceOnUse"><circle cx="4" cy="4" r="2.7" fill="#eec496"/></marker></defs><polyline clip-path="url(#clipP)" points="69.0,486.2 70.1,482.7 71.2,475.4 72.3,487.2 73.3,466.8 74.4,481.9 75.5,493.4 76.6,498.9 77.7,493.6 78.8,480.1 79.8,489.6 80.9,471.4 82.0,469.6 83.1,466.9 84.2,464.0 85.3,458.5 86.3,465.8 87.4,455.6 88.5,457.2 89.6,442.8 90.7,451.5 91.8,445.6 92.8,446.8 93.9,444.0 95.0,443.2 96.1,446.5 97.2,453.2 98.3,459.4 99.4,465.8 100.4,467.0 101.5,467.0 102.6,472.9 103.7,469.0 104.8,484.5 105.9,481.0 106.9,484.2 108.0,476.7 109.1,471.5 110.2,470.7 111.3,474.1 112.4,475.0 113.4,476.2 114.5,476.4 115.6,480.9 116.7,467.8 117.8,485.8 118.9,477.0 119.9,479.3 121.0,470.9 122.1,480.0 123.2,472.7 124.3,481.3 125.4,480.5 126.4,480.2 127.5,478.8 128.6,478.5 129.7,478.4 130.8,483.8 131.9,480.4 133.0,480.8 134.0,489.8 135.1,479.8 136.2,475.4 137.3,469.6 138.4,468.6 139.5,479.1 140.5,482.0 141.6,473.9 142.7,473.2 143.8,477.0 144.9,478.1 146.0,481.2 147.0,476.7 148.1,474.3 149.2,479.5 150.3,472.6 151.4,470.4 152.5,471.6 153.5,474.6 154.6,474.0 155.7,475.5 156.8,475.4 157.9,484.5 159.0,476.5 160.1,466.1 161.1,468.8 162.2,474.9 163.3,470.7 164.4,482.4 165.5,471.8 166.6,471.9 167.6,473.6 168.7,472.0 169.8,474.9 170.9,471.4 172.0,473.3 173.1,469.4 174.1,461.2 175.2,472.8 176.3,477.2 177.4,466.8 178.5,468.0 179.6,472.9 180.6,467.5 181.7,469.6 182.8,467.9 183.9,470.8 185.0,467.7 186.1,475.5 187.1,467.7 188.2,466.2 189.3,461.4 190.4,466.9 191.5,462.7 192.6,468.3 193.7,467.7 194.7,475.1 195.8,461.9 196.9,465.1 198.0,468.0 199.1,456.3 200.2,465.7 201.2,469.7 202.3,462.7 203.4,462.0 204.5,466.2 205.6,462.3 206.7,461.9 207.7,463.6 208.8,457.2 209.9,466.7 211.0,458.0 212.1,458.8 213.2,457.0 214.2,448.6 215.3,451.7 216.4,455.8 217.5,456.7 218.6,460.5 219.7,465.5 220.8,458.1 221.8,454.7 222.9,452.4 224.0,459.3 225.1,451.5 226.2,453.1 227.3,457.5 228.3,451.6 229.4,451.0 230.5,451.5 231.6,444.6 232.7,449.5 233.8,450.0 234.8,450.1 235.9,447.0 237.0,440.0 238.1,444.3 239.2,449.3 240.3,443.3 241.3,442.2 242.4,446.5 243.5,445.9 244.6,443.8 245.7,444.6 246.8,444.6 247.8,442.8 248.9,441.6 250.0,446.1 251.1,435.0 252.2,446.0 253.3,438.4 254.4,434.2 255.4,438.5 256.5,438.9 257.6,430.4 258.7,434.5 259.8,436.1 260.9,435.3 261.9,431.9 263.0,427.2 264.1,429.7 265.2,436.8 266.3,425.2 267.4,438.1 268.4,426.6 269.5,425.7 270.6,423.3 271.7,424.9 272.8,424.2 273.9,420.5 274.9,431.5 276.0,429.2 277.1,426.9 278.2,421.6 279.3,425.3 280.4,426.5 281.5,430.3 282.5,427.7 283.6,424.8 284.7,428.5 285.8,429.0 286.9,430.2 288.0,433.6 289.0,428.7 290.1,426.5 291.2,436.2 292.3,436.0 293.4,429.1 294.5,436.3 295.5,432.5 296.6,437.1 297.7,437.1 298.8,431.1 299.9,432.8 301.0,436.3 302.0,432.7 303.1,433.9 304.2,435.5 305.3,438.3 306.4,438.8 307.5,436.7 308.5,438.6 309.6,443.6 310.7,441.7 311.8,441.3 312.9,437.8 314.0,438.0 315.1,436.4 316.1,437.8 317.2,434.7 318.3,440.5 319.4,439.8 320.5,439.0 321.6,439.4 322.6,437.4 323.7,444.2 324.8,444.0 325.9,446.1 327.0,443.5 328.1,442.0 329.1,445.6 330.2,438.7 331.3,438.4 332.4,446.2 333.5,445.0 334.6,444.4 335.6,448.1 336.7,443.7 337.8,444.8 338.9,445.0 340.0,439.3 341.1,444.1 342.2,444.4 343.2,441.8 344.3,439.2 345.4,438.5 346.5,433.5 347.6,437.6 348.7,444.4 349.7,443.6 350.8,438.8 351.9,436.1 353.0,442.1 354.1,441.4 355.2,439.2 356.2,434.6 357.3,439.2 358.4,439.3 359.5,434.3 360.6,433.1 361.7,434.5 362.7,436.5 363.8,437.2 364.9,437.5 366.0,435.8 367.1,434.1 368.2,436.9 369.3,439.1 370.3,436.3 371.4,438.0 372.5,435.6 373.6,433.4 374.7,434.5 375.8,435.3 376.8,430.9 377.9,435.2 379.0,433.8 380.1,436.4 381.2,438.3 382.3,436.2 383.3,434.5 384.4,436.6 385.5,432.4 386.6,437.4 387.7,440.1 388.8,437.6 389.8,440.5 390.9,434.4 392.0,430.1 393.1,437.6 394.2,443.0 395.3,433.1 396.3,440.9 397.4,434.1 398.5,440.8 399.6,433.9 400.7,435.0 401.8,437.3 402.9,430.9 403.9,436.2 405.0,435.4 406.1,438.7 407.2,436.5 408.3,436.2 409.4,435.4 410.4,441.9 411.5,437.4 412.6,436.4 413.7,429.1 414.8,440.6 415.9,435.9 416.9,436.7 418.0,438.5 419.1,436.6 420.2,440.4 421.3,435.9 422.4,437.6 423.4,436.5 424.5,438.0 425.6,436.9 426.7,437.4 427.8,436.7 428.9,436.5 430.0,437.9 431.0,433.8 432.1,433.5 433.2,435.9 434.3,436.2 435.4,439.8 436.5,431.2 437.5,440.4 438.6,434.2 439.7,433.2 440.8,436.9 441.9,436.9 443.0,438.9 444.0,429.3 445.1,439.4 446.2,437.2 447.3,440.4 448.4,435.2 449.5,431.2 450.5,435.1 451.6,435.2 452.7,438.0 453.8,438.8 454.9,429.4 456.0,430.9 457.0,436.2 458.1,433.6 459.2,439.0 460.3,440.1 461.4,442.6 462.5,436.2 463.6,439.4 464.6,437.9 465.7,436.5 466.8,434.7 467.9,439.3 469.0,438.4 470.1,435.7 471.1,435.3 472.2,430.3 473.3,436.8 474.4,436.3 475.5,432.7 476.6,440.1 477.6,436.0 478.7,432.6 479.8,435.0 480.9,432.4 482.0,433.4 483.1,431.9 484.1,436.2 485.2,430.8 486.3,433.7 487.4,435.9 488.5,435.1 489.6,436.3 490.7,433.5 491.7,433.8 492.8,436.8 493.9,434.6 495.0,438.7 496.1,434.3 497.2,436.2 498.2,434.8 499.3,439.1 500.4,432.9 501.5,438.3 502.6,439.4 503.7,437.4 504.7,440.0 505.8,432.9 506.9,430.5 508.0,433.8 509.1,434.3 510.2,437.1 511.2,434.0 512.3,434.2 513.4,435.0 514.5,441.0 515.6,433.8 516.7,435.6 517.7,436.8 518.8,440.7 519.9,431.9 521.0,430.4 522.1,435.6 523.2,433.2 524.3,433.9 525.3,429.6 526.4,440.8 527.5,431.1 528.6,437.2 529.7,437.6 530.8,438.4 531.8,440.8 532.9,434.4 534.0,432.0 535.1,436.8 536.2,438.8 537.3,435.5 538.3,435.0 539.4,439.5 540.5,432.7 541.6,441.7 542.7,431.1 543.8,433.1" fill="none" stroke="#eec496" stroke-width="2.4" stroke-linejoin="round" marker-start="url(#mk11)" marker-mid="url(#mk11)" marker-end="url(#mk11)"/><path d="M73.6,492.8V532.2" stroke="#b9b8d0" stroke-width="1.4"/><rect x="69.39999999999999" y="500" width="8.4" height="25" rx="3" fill="#3a3859" stroke="#a9a7c4" stroke-width="1.4"/><path d="M610.3,492.8V532.2" stroke="#b9b8d0" stroke-width="1.4"/><rect x="606.0999999999999" y="500" width="8.4" height="25" rx="3" fill="#3a3859" stroke="#a9a7c4" stroke-width="1.4"/><path d="M471.3,87.3V89.8M471.3,93.6V107.1H486.8V91.8H476.2M466.3,91.8H474M509,86.6L503.8,91.8L509,97M503.8,91.8H520.4V107.1H504.6V97.8M537.5,99.0A10.3,10.3 0 0 1 556.8999999999999,93.0M558.0999999999999,96.0A10.3,10.3 0 0 1 538.7,102.0M558.3999999999999,88.0V93.5H552.5999999999999M537.2,107.0V101.5H543.0M584.1,87V103M574.9,95.2L584.1,103.6L593,95.2M574.9,101.8V107.7H593V101.8M610.9,87.3H620.5L625,91.9V107.7H610.9ZM613.2,93.6H617M613.2,98H622.2M613.2,102.5H622.2" fill="none" stroke="#8f8da4" stroke-width="1.5"/><rect x="592" y="22" width="42.5" height="42.5" rx="8" fill="#222227"/><path d="M606.3,40.6 V36.6 Q606.3,35.1 607.8,35.1 H611.8 M616.0999999999999,35.1 H620.0999999999999 Q621.5999999999999,35.1 621.5999999999999,36.6 V40.6 M621.5999999999999,44.900000000000006 V48.900000000000006 Q621.5999999999999,50.400000000000006 620.0999999999999,50.400000000000006 H616.0999999999999 M611.8,50.400000000000006 H607.8 Q606.3,50.400000000000006 606.3,48.900000000000006 V44.900000000000006" fill="none" stroke="#f6a583" stroke-width="3" stroke-linecap="round"/></svg><div class="ttl">scalar "layer 4 mean"</div></div><div class="card" style="left:1743px;top:1246px"><svg width="663" height="570" viewBox="0 0 663 570" font-family='"Liberation Sans", sans-serif'><defs><clipPath id="clipL"><rect x="29" y="0" width="600" height="570"/></clipPath><clipPath id="clipP"><rect x="63.0" y="96.5" width="551.8" height="427.5"/></clipPath></defs><path d="M69.0,104.5H608.8M69.0,207.4H608.8M69.0,310.2H608.8M69.0,413.1H608.8M175.2,104.5V516.0M283.6,104.5V516.0M392.0,104.5V516.0M500.4,104.5V516.0M608.8,104.5V516.0" stroke="#37363f" stroke-width="1.5" fill="none"/><path d="M69.0,104.5V516.0M62.0,104.5H69.0M62.0,207.4H69.0M62.0,310.2H69.0M62.0,413.1H69.0M62.0,516.0H69.0M69.0,516.0H608.8M69.0,516.0V523.0M175.2,516.0V523.0M283.6,516.0V523.0M392.0,516.0V523.0M500.4,516.0V523.0M608.8,516.0V523.0" stroke="#aeadc4" stroke-width="1.4" fill="none"/><g clip-path="url(#clipL)" fill="#a3a2b0" font-size="18" text-anchor="end"><text x="57.0" y="108.7">4</text><text x="57.0" y="211.6">3</text><text x="57.0" y="314.4">2</text><text x="57.0" y="417.3">1</text><text x="57.0" y="520.2">0</text></g><g fill="#a3a2b0" font-size="18" text-anchor="middle" letter-spacing="-0.3"><text x="69.0" y="539.5">20</text><text x="175.2" y="539.5">1,000</text><text x="283.6" y="539.5">2,000</text><text x="392.0" y="539.5">3,000</text><text x="500.4" y="539.5">4,000</text><text x="608.8" y="539.5">5,000</text></g><rect x="72.5" y="483.5" width="539.0" height="8.5" rx="2" fill="rgb(112,114,128)" fill-opacity="0.5"/><path d="M338.45,485.5v4.5M341.95,485.5v4.5M345.45,485.5v4.5" stroke="#e8e8ee" stroke-width="1.6"/><rect x="73.6" y="492.8" width="536.6999999999999" height="39.400000000000034" fill="rgb(80,100,140)" fill-opacity="0.3"/><rect x="73.6" y="516.0" width="536.6999999999999" height="16.200000000000045" fill="rgb(120,135,170)" fill-opacity="0.3"/><polyline points="77.6,507.0 78.8,504.7 80.0,501.8 81.2,506.8 82.5,510.6 83.7,512.6 84.9,509.2 86.1,507.1 87.3,504.1 88.5,500.9 89.8,505.9 91.0,503.1 92.2,507.2 93.4,507.7 94.6,506.2 95.8,511.2 97.1,512.2 98.3,511.6 99.5,515.2 100.7,515.4 101.9,518.7 103.1,519.1 104.4,521.3 105.6,517.3 106.8,514.2 108.0,514.9 109.2,511.7 110.4,509.6 111.7,503.8 112.9,506.6 114.1,508.4 115.3,506.7 116.5,505.4 117.7,509.4 119.0,506.2 120.2,506.0 121.4,506.9 122.6,505.3 123.8,504.4 125.0,506.2 126.2,506.7 127.5,504.2 128.7,505.4 129.9,504.7 131.1,501.8 132.3,504.3 133.5,504.9 134.8,506.9 136.0,503.8 137.2,503.7 138.4,503.2 139.6,503.1 140.8,502.8 142.1,503.5 143.3,503.5 144.5,502.7 145.7,504.7 146.9,505.1 148.1,505.0 149.4,503.1 150.6,506.1 151.8,503.9 153.0,503.3 154.2,502.4 155.4,504.6 156.7,502.7 157.9,502.7 159.1,503.6 160.3,502.5 161.5,502.9 162.7,504.3 164.0,503.0 165.2,503.8 166.4,499.3 167.6,502.7 168.8,503.2 170.0,504.5 171.2,502.1 172.5,501.5 173.7,501.9 174.9,504.1 176.1,503.5 177.3,503.5 178.5,501.5 179.8,503.0 181.0,501.8 182.2,498.8 183.4,504.4 184.6,501.9 185.8,501.8 187.1,504.4 188.3,500.7 189.5,503.0 190.7,502.3 191.9,502.3 193.1,501.3 194.4,504.8 195.6,505.0 196.8,506.3 198.0,506.5 199.2,502.0 200.4,505.6 201.7,507.8 202.9,504.3 204.1,502.8 205.3,507.2 206.5,505.9 207.7,508.2 209.0,509.3 210.2,506.7 211.4,508.4 212.6,508.6 213.8,507.0 215.0,506.6 216.2,507.7 217.5,505.7 218.7,508.7 219.9,508.5 221.1,506.8 222.3,504.9 223.5,505.3 224.8,507.0 226.0,508.2 227.2,510.5 228.4,506.4 229.6,508.8 230.8,505.3 232.1,508.7 233.3,511.8 234.5,507.4 235.7,508.8 236.9,509.9 238.1,509.0 239.4,509.3 240.6,508.9 241.8,512.1 243.0,509.5 244.2,509.0 245.4,511.5 246.7,507.9 247.9,510.1 249.1,512.9 250.3,507.7 251.5,510.6 252.7,510.1 254.0,510.5 255.2,507.5 256.4,510.3 257.6,511.5 258.8,511.5 260.0,509.8 261.2,509.8 262.5,511.7 263.7,509.5 264.9,511.9 266.1,510.8 267.3,510.3 268.5,510.7 269.8,510.8 271.0,510.9 272.2,512.1 273.4,511.1 274.6,511.0 275.8,513.4 277.1,514.4 278.3,512.8 279.5,514.1 280.7,514.6 281.9,514.6 283.1,515.9 284.4,518.0 285.6,517.3 286.8,519.9 288.0,517.3 289.2,518.4 290.4,520.1 291.7,521.2 292.9,519.8 294.1,520.9 295.3,521.9 296.5,520.3 297.7,521.1 299.0,520.2 300.2,521.9 301.4,519.1 302.6,519.6 303.8,524.4 305.0,525.2 306.2,523.9 307.5,519.9 308.7,520.6 309.9,520.8 311.1,520.1 312.3,521.6 313.5,519.2 314.8,520.3 316.0,518.1 317.2,518.4 318.4,518.1 319.6,517.9 320.8,516.3 322.1,514.3 323.3,519.1 324.5,515.7 325.7,517.0 326.9,514.3 328.1,514.7 329.4,517.2 330.6,515.8 331.8,513.8 333.0,513.4 334.2,516.3 335.4,516.7 336.7,514.8 337.9,513.2 339.1,513.6 340.3,514.3 341.5,513.9 342.7,513.8 343.9,514.3 345.2,515.5 346.4,513.2 347.6,513.4 348.8,512.7 350.0,513.8 351.2,514.4 352.5,512.5 353.7,512.3 354.9,510.9 356.1,515.0 357.3,513.7 358.5,513.3 359.8,510.0 361.0,515.9 362.2,511.4 363.4,513.6 364.6,513.8 365.8,511.2 367.1,511.2 368.3,516.3 369.5,513.6 370.7,511.8 371.9,512.4 373.1,510.1 374.4,512.9 375.6,512.4 376.8,515.1 378.0,511.7 379.2,512.5 380.4,511.8 381.7,513.9 382.9,510.7 384.1,514.2 385.3,511.2 386.5,511.3 387.7,515.2 388.9,513.9 390.2,515.2 391.4,516.9 392.6,513.9 393.8,514.7 395.0,513.0 396.2,512.7 397.5,517.2 398.7,515.4 399.9,514.5 401.1,514.0 402.3,515.0 403.5,516.3 404.8,515.7 406.0,514.6 407.2,517.2 408.4,517.4 409.6,517.4 410.8,516.6 412.1,514.1 413.3,516.5 414.5,515.0 415.7,514.2 416.9,514.5 418.1,515.7 419.4,516.2 420.6,516.1 421.8,516.5 423.0,517.0 424.2,515.4 425.4,514.8 426.7,516.8 427.9,517.2 429.1,516.1 430.3,516.0 431.5,515.0 432.7,515.8 433.9,515.9 435.2,518.1 436.4,516.7 437.6,516.5 438.8,516.9 440.0,515.5 441.2,516.0 442.5,517.1 443.7,515.5 444.9,514.5 446.1,512.9 447.3,516.1 448.5,516.6 449.8,514.9 451.0,513.7 452.2,516.7 453.4,515.1 454.6,516.2 455.8,514.7 457.1,516.8 458.3,516.5 459.5,516.2 460.7,516.1 461.9,517.5 463.1,516.2 464.4,516.9 465.6,513.4 466.8,514.0 468.0,516.6 469.2,516.4 470.4,515.3 471.7,516.5 472.9,516.5 474.1,514.9 475.3,514.3 476.5,515.1 477.7,513.9 478.9,515.7 480.2,515.9 481.4,516.2 482.6,516.3 483.8,516.7 485.0,513.8 486.2,514.5 487.5,515.8 488.7,515.6 489.9,516.8 491.1,514.8 492.3,515.9 493.5,515.8 494.8,516.0 496.0,517.5 497.2,516.3 498.4,513.6 499.6,516.7 500.8,516.7 502.1,515.9 503.3,516.8 504.5,516.8 505.7,517.0 506.9,516.8 508.1,515.5 509.4,518.5 510.6,517.4 511.8,517.2 513.0,515.5 514.2,516.7 515.4,515.0 516.7,516.5 517.9,514.1 519.1,517.7 520.3,513.0 521.5,517.0 522.7,515.8 523.9,516.7 525.2,515.7 526.4,513.5 527.6,514.3 528.8,516.0 530.0,514.7 531.2,513.1 532.5,514.5 533.7,515.7 534.9,514.8 536.1,514.7 537.3,517.5 538.5,516.0 539.8,515.1 541.0,512.8 542.2,514.3 543.4,514.9 544.6,517.2 545.8,515.7 547.1,517.1 548.3,515.0 549.5,515.9 550.7,514.1 551.9,515.1 553.1,515.1 554.4,514.7 555.6,513.9 556.8,515.5 558.0,515.7 559.2,514.8 560.4,511.0 561.7,515.8 562.9,516.1 564.1,514.5 565.3,517.0 566.5,514.2 567.7,516.4 568.9,515.4 570.2,515.3 571.4,516.1 572.6,514.3 573.8,514.9 575.0,513.6 576.2,514.1 577.5,515.4 578.7,513.9 579.9,514.0 581.1,514.7 582.3,514.5 583.5,513.4 584.8,515.6 586.0,513.2 587.2,514.5 588.4,514.1 589.6,513.4 590.8,511.3 592.1,515.9 593.3,516.5 594.5,513.3 595.7,515.2 596.9,514.6 598.1,516.6 599.4,513.3 600.6,514.3 601.8,516.7 603.0,513.3 604.2,514.7 605.4,515.3 606.7,516.9 607.9,512.2 609.1,515.8 610.3,513.7" fill="none" stroke="#6b88b0" stroke-width="1.2"/><path d="M73.6,492.8H610.3M73.6,532.2H610.3" stroke="#7f819c" stroke-width="1.6"/><defs><marker id="mk12" markerWidth="8" markerHeight="8" refX="4" refY="4" markerUnits="userSpaceOnUse"><circle cx="4" cy="4" r="2.7" fill="#97dee2"/></marker></defs><polyline clip-path="url(#clipP)" points="69.0,160.0 70.1,151.5 71.2,141.2 72.3,159.1 73.3,172.8 74.4,179.9 75.5,167.6 76.6,160.1 77.7,149.5 78.8,138.1 79.8,156.0 80.9,146.0 82.0,160.7 83.1,162.4 84.2,157.1 85.3,174.7 86.3,178.4 87.4,176.1 88.5,189.0 89.6,189.8 90.7,201.5 91.8,202.9 92.8,210.6 93.9,196.5 95.0,185.7 96.1,187.9 97.2,176.6 98.3,169.2 99.4,148.4 100.4,158.5 101.5,165.0 102.6,158.9 103.7,154.0 104.8,168.3 105.9,157.1 106.9,156.4 108.0,159.4 109.1,153.8 110.2,150.4 111.3,157.1 112.4,158.8 113.4,150.0 114.5,154.0 115.6,151.7 116.7,141.4 117.8,150.4 118.9,152.4 119.9,159.4 121.0,148.3 122.1,148.0 123.2,146.2 124.3,146.1 125.4,144.9 126.4,147.4 127.5,147.6 128.6,144.6 129.7,151.8 130.8,153.2 131.9,152.9 133.0,146.1 134.0,156.8 135.1,148.9 136.2,146.8 137.3,143.5 138.4,151.2 139.5,144.6 140.5,144.5 141.6,147.6 142.7,143.9 143.8,145.1 144.9,150.3 146.0,145.7 147.0,148.6 148.1,132.5 149.2,144.4 150.3,146.5 151.4,150.9 152.5,142.5 153.5,140.2 154.6,141.8 155.7,149.5 156.8,147.4 157.9,147.5 159.0,140.2 160.1,145.7 161.1,141.3 162.2,130.7 163.3,150.7 164.4,141.6 165.5,141.4 166.6,150.6 167.6,137.5 168.7,145.8 169.8,143.3 170.9,143.2 172.0,139.7 173.1,152.0 174.1,152.9 175.2,157.4 176.3,158.0 177.4,142.0 178.5,155.0 179.6,162.6 180.6,150.1 181.7,145.0 182.8,160.4 183.9,156.1 185.0,164.0 186.1,168.0 187.1,158.9 188.2,164.9 189.3,165.6 190.4,159.8 191.5,158.5 192.6,162.4 193.7,155.1 194.7,166.0 195.8,165.1 196.9,159.3 198.0,152.4 199.1,153.8 200.2,159.7 201.2,164.3 202.3,172.4 203.4,157.9 204.5,166.3 205.6,153.9 206.7,166.1 207.7,176.9 208.8,161.1 209.9,166.3 211.0,170.4 212.1,167.0 213.2,168.0 214.2,166.8 215.3,177.9 216.4,168.8 217.5,166.9 218.6,175.9 219.7,163.0 220.8,170.8 221.8,180.8 222.9,162.3 224.0,172.7 225.1,170.8 226.2,172.4 227.3,161.6 228.3,171.7 229.4,175.7 230.5,175.8 231.6,169.8 232.7,169.9 233.8,176.7 234.8,168.7 235.9,177.3 237.0,173.3 238.1,171.6 239.2,173.2 240.3,173.5 241.3,173.7 242.4,178.0 243.5,174.6 244.6,174.3 245.7,182.5 246.8,186.4 247.8,180.5 248.9,185.1 250.0,186.9 251.1,186.9 252.2,191.6 253.3,199.1 254.4,196.6 255.4,205.7 256.5,196.4 257.6,200.6 258.7,206.4 259.8,210.4 260.9,205.3 261.9,209.3 263.0,212.9 264.1,207.3 265.2,210.0 266.3,207.0 267.4,212.8 268.4,203.1 269.5,204.7 270.6,221.8 271.7,224.7 272.8,220.0 273.9,205.9 274.9,208.4 276.0,209.1 277.1,206.6 278.2,212.1 279.3,203.3 280.4,207.4 281.5,199.4 282.5,200.3 283.6,199.4 284.7,198.8 285.8,192.9 286.9,185.9 288.0,203.1 289.0,190.7 290.1,195.7 291.2,185.7 292.3,187.2 293.4,196.2 294.5,191.2 295.5,184.2 296.6,182.6 297.7,193.1 298.8,194.5 299.9,187.7 301.0,182.1 302.0,183.5 303.1,186.0 304.2,184.5 305.3,184.0 306.4,185.8 307.5,190.1 308.5,181.9 309.6,182.8 310.7,180.2 311.8,184.2 312.9,186.1 314.0,179.6 315.1,178.7 316.1,173.8 317.2,188.4 318.3,183.8 319.4,182.3 320.5,170.4 321.6,191.4 322.6,175.4 323.7,183.3 324.8,184.1 325.9,174.7 327.0,174.7 328.1,193.1 329.1,183.5 330.2,177.1 331.3,179.1 332.4,171.0 333.5,181.0 334.6,178.9 335.6,188.9 336.7,176.5 337.8,179.6 338.9,177.0 340.0,184.5 341.1,173.1 342.2,185.6 343.2,174.9 344.3,175.2 345.4,189.0 346.5,184.4 347.6,189.1 348.7,195.3 349.7,184.3 350.8,187.1 351.9,181.1 353.0,180.2 354.1,196.1 355.2,189.8 356.2,186.7 357.3,184.8 358.4,188.3 359.5,193.1 360.6,190.8 361.7,186.8 362.7,196.3 363.8,196.8 364.9,196.8 366.0,194.2 367.1,185.1 368.2,193.8 369.3,188.5 370.3,185.7 371.4,186.4 372.5,191.0 373.6,192.6 374.7,192.3 375.8,193.6 376.8,195.5 377.9,189.9 379.0,187.8 380.1,194.8 381.2,196.4 382.3,192.2 383.3,192.0 384.4,188.4 385.5,191.2 386.6,191.6 387.7,199.3 388.8,194.3 389.8,193.7 390.9,195.2 392.0,190.0 393.1,192.0 394.2,195.7 395.3,190.1 396.3,186.6 397.4,180.9 398.5,192.3 399.6,194.1 400.7,187.8 401.8,183.9 402.9,194.4 403.9,188.7 405.0,192.7 406.1,187.5 407.2,194.9 408.3,193.5 409.4,192.8 410.4,192.2 411.5,197.4 412.6,192.6 413.7,195.2 414.8,182.6 415.9,184.9 416.9,194.1 418.0,193.5 419.1,189.5 420.2,193.7 421.3,193.7 422.4,188.0 423.4,185.9 424.5,188.8 425.6,184.4 426.7,190.7 427.8,191.5 428.9,192.8 430.0,192.9 431.0,194.5 432.1,184.2 433.2,186.6 434.3,191.4 435.4,190.4 436.5,194.8 437.5,187.7 438.6,191.4 439.7,191.3 440.8,192.0 441.9,197.4 443.0,193.1 444.0,183.4 445.1,194.3 446.2,194.6 447.3,191.5 448.4,194.7 449.5,194.9 450.5,195.6 451.6,194.7 452.7,190.2 453.8,200.8 454.9,196.8 456.0,196.3 457.0,190.0 458.1,194.3 459.2,188.2 460.3,193.8 461.4,185.0 462.5,198.0 463.6,181.3 464.6,195.7 465.7,191.4 466.8,194.5 467.9,191.0 469.0,182.9 470.1,185.9 471.1,192.0 472.2,187.3 473.3,181.6 474.4,186.5 475.5,190.8 476.6,187.6 477.6,187.3 478.7,197.4 479.8,191.8 480.9,188.8 482.0,180.6 483.1,185.8 484.1,187.9 485.2,196.3 486.3,191.0 487.4,195.8 488.5,188.4 489.6,191.5 490.7,185.1 491.7,188.9 492.8,188.6 493.9,187.2 495.0,184.3 496.1,190.1 497.2,190.9 498.2,187.8 499.3,174.1 500.4,191.1 501.5,192.1 502.6,186.7 503.7,195.4 504.7,185.7 505.8,193.5 506.9,189.6 508.0,189.4 509.1,192.2 510.2,185.9 511.2,188.1 512.3,183.4 513.4,185.3 514.5,190.0 515.6,184.6 516.7,185.0 517.7,187.2 518.8,186.8 519.9,182.6 521.0,190.6 522.1,181.9 523.2,186.5 524.3,185.0 525.3,182.7 526.4,175.3 527.5,191.7 528.6,193.8 529.7,182.4 530.8,189.1 531.8,187.1 532.9,194.0 534.0,182.2 535.1,185.8 536.2,194.4 537.3,182.5 538.3,187.3 539.4,189.5 540.5,195.1 541.6,178.5 542.7,191.1 543.8,183.8" fill="none" stroke="#97dee2" stroke-width="2.4" stroke-linejoin="round" marker-start="url(#mk12)" marker-mid="url(#mk12)" marker-end="url(#mk12)"/><path d="M73.6,492.8V532.2" stroke="#b9b8d0" stroke-width="1.4"/><rect x="69.39999999999999" y="500" width="8.4" height="25" rx="3" fill="#3a3859" stroke="#a9a7c4" stroke-width="1.4"/><path d="M610.3,492.8V532.2" stroke="#b9b8d0" stroke-width="1.4"/><rect x="606.0999999999999" y="500" width="8.4" height="25" rx="3" fill="#3a3859" stroke="#a9a7c4" stroke-width="1.4"/><path d="M471.3,87.3V89.8M471.3,93.6V107.1H486.8V91.8H476.2M466.3,91.8H474M509,86.6L503.8,91.8L509,97M503.8,91.8H520.4V107.1H504.6V97.8M537.5,99.0A10.3,10.3 0 0 1 556.8999999999999,93.0M558.0999999999999,96.0A10.3,10.3 0 0 1 538.7,102.0M558.3999999999999,88.0V93.5H552.5999999999999M537.2,107.0V101.5H543.0M584.1,87V103M574.9,95.2L584.1,103.6L593,95.2M574.9,101.8V107.7H593V101.8M610.9,87.3H620.5L625,91.9V107.7H610.9ZM613.2,93.6H617M613.2,98H622.2M613.2,102.5H622.2" fill="none" stroke="#8f8da4" stroke-width="1.5"/><rect x="592" y="22" width="42.5" height="42.5" rx="8" fill="#222227"/><path d="M606.3,40.6 V36.6 Q606.3,35.1 607.8,35.1 H611.8 M616.0999999999999,35.1 H620.0999999999999 Q621.5999999999999,35.1 621.5999999999999,36.6 V40.6 M621.5999999999999,44.900000000000006 V48.900000000000006 Q621.5999999999999,50.400000000000006 620.0999999999999,50.400000000000006 H616.0999999999999 M611.8,50.400000000000006 H607.8 Q606.3,50.400000000000006 606.3,48.900000000000006 V44.900000000000006" fill="none" stroke="#f6a583" stroke-width="3" stroke-linecap="round"/></svg><div class="ttl">scalar "layer 4 var"</div></div><div class="card" style="left:2439px;top:1246px"><svg width="663" height="570" viewBox="0 0 663 570" font-family='"Liberation Sans", sans-serif'><defs><clipPath id="clipL"><rect x="29" y="0" width="600" height="570"/></clipPath><clipPath id="clipP"><rect x="63.0" y="96.5" width="551.8" height="427.5"/></clipPath></defs><path d="M69.0,186.8H608.8M69.0,269.1H608.8M69.0,351.4H608.8M69.0,433.7H608.8M69.0,516.0H608.8M175.2,104.5V516.0M283.6,104.5V516.0M392.0,104.5V516.0M500.4,104.5V516.0M608.8,104.5V516.0" stroke="#37363f" stroke-width="1.5" fill="none"/><path d="M69.0,104.5V516.0M62.0,104.5H69.0M62.0,186.8H69.0M62.0,269.1H69.0M62.0,351.4H69.0M62.0,433.7H69.0M62.0,516.0H69.0M69.0,104.5H608.8M69.0,104.5V111.5M175.2,104.5V111.5M283.6,104.5V111.5M392.0,104.5V111.5M500.4,104.5V111.5M608.8,104.5V111.5" stroke="#aeadc4" stroke-width="1.4" fill="none"/><g clip-path="url(#clipL)" fill="#a3a2b0" font-size="18" text-anchor="end"><text x="57.0" y="108.7">0</text><text x="57.0" y="191.0">-0.01</text><text x="57.0" y="273.3">-0.02</text><text x="57.0" y="355.6">-0.03</text><text x="57.0" y="437.9">-0.04</text><text x="57.0" y="520.2">-0.05</text></g><g fill="#a3a2b0" font-size="18" text-anchor="middle" letter-spacing="-0.3"><text x="69.0" y="539.5">20</text><text x="175.2" y="539.5">1,000</text><text x="283.6" y="539.5">2,000</text><text x="392.0" y="539.5">3,000</text><text x="500.4" y="539.5">4,000</text><text x="608.8" y="539.5">5,000</text></g><rect x="72.5" y="483.5" width="539.0" height="8.5" rx="2" fill="rgb(112,114,128)" fill-opacity="0.5"/><path d="M338.45,485.5v4.5M341.95,485.5v4.5M345.45,485.5v4.5" stroke="#e8e8ee" stroke-width="1.6"/><rect x="73.6" y="492.8" width="536.6999999999999" height="39.400000000000034" fill="rgb(80,100,140)" fill-opacity="0.3"/><rect x="73.6" y="516.0" width="536.6999999999999" height="16.200000000000045" fill="rgb(120,135,170)" fill-opacity="0.3"/><polyline points="77.6,502.0 78.8,504.3 80.0,507.5 81.2,500.1 82.5,505.7 83.7,502.2 84.9,505.8 86.1,505.1 87.3,508.0 88.5,511.8 89.8,511.9 91.0,515.5 92.2,513.9 93.4,516.3 94.6,512.5 95.8,506.9 97.1,510.1 98.3,508.6 99.5,506.9 100.7,508.4 101.9,506.3 103.1,499.4 104.4,504.1 105.6,498.8 106.8,499.3 108.0,499.7 109.2,501.0 110.4,503.4 111.7,499.7 112.9,502.5 114.1,501.7 115.3,503.2 116.5,503.3 117.7,505.9 119.0,506.7 120.2,503.4 121.4,506.2 122.6,502.8 123.8,506.7 125.0,508.3 126.2,506.7 127.5,512.4 128.7,508.9 129.9,506.7 131.1,509.3 132.3,507.6 133.5,510.3 134.8,509.4 136.0,510.1 137.2,504.8 138.4,508.5 139.6,511.5 140.8,511.5 142.1,511.6 143.3,510.6 144.5,512.1 145.7,511.9 146.9,511.1 148.1,512.3 149.4,511.9 150.6,509.3 151.8,511.2 153.0,512.0 154.2,509.9 155.4,506.5 156.7,509.6 157.9,510.7 159.1,505.5 160.3,507.5 161.5,508.4 162.7,513.9 164.0,512.7 165.2,511.0 166.4,513.6 167.6,512.9 168.8,509.8 170.0,512.3 171.2,515.0 172.5,513.1 173.7,518.4 174.9,513.5 176.1,514.0 177.3,514.7 178.5,515.5 179.8,515.7 181.0,518.4 182.2,520.2 183.4,516.4 184.6,514.5 185.8,516.8 187.1,518.1 188.3,521.2 189.5,519.8 190.7,519.1 191.9,524.1 193.1,517.7 194.4,518.0 195.6,522.9 196.8,521.8 198.0,520.3 199.2,517.7 200.4,520.0 201.7,519.4 202.9,517.2 204.1,518.1 205.3,514.9 206.5,518.9 207.7,514.5 209.0,517.7 210.2,514.0 211.4,513.5 212.6,514.3 213.8,512.8 215.0,514.9 216.2,513.1 217.5,515.7 218.7,517.6 219.9,518.7 221.1,519.6 222.3,518.6 223.5,523.1 224.8,520.5 226.0,520.6 227.2,522.9 228.4,525.2 229.6,519.0 230.8,520.5 232.1,523.3 233.3,520.7 234.5,518.0 235.7,520.7 236.9,520.3 238.1,518.6 239.4,516.4 240.6,517.6 241.8,516.7 243.0,519.5 244.2,515.2 245.4,513.5 246.7,516.8 247.9,515.7 249.1,518.1 250.3,511.8 251.5,515.3 252.7,517.0 254.0,514.9 255.2,515.6 256.4,513.8 257.6,517.4 258.8,512.5 260.0,514.4 261.2,514.0 262.5,513.9 263.7,515.0 264.9,513.5 266.1,513.7 267.3,514.2 268.5,513.7 269.8,514.6 271.0,511.2 272.2,514.9 273.4,509.2 274.6,508.9 275.8,509.9 277.1,508.8 278.3,511.3 279.5,510.8 280.7,511.1 281.9,510.6 283.1,509.8 284.4,513.1 285.6,506.9 286.8,507.6 288.0,506.7 289.2,508.7 290.4,506.3 291.7,505.3 292.9,504.2 294.1,505.4 295.3,503.7 296.5,506.2 297.7,505.8 299.0,504.9 300.2,505.3 301.4,504.9 302.6,506.2 303.8,503.4 305.0,502.7 306.2,503.3 307.5,503.3 308.7,504.9 309.9,503.6 311.1,502.7 312.3,504.2 313.5,505.5 314.8,503.4 316.0,506.3 317.2,507.6 318.4,504.2 319.6,504.8 320.8,504.8 322.1,502.6 323.3,505.8 324.5,503.4 325.7,505.6 326.9,507.3 328.1,509.6 329.4,507.8 330.6,507.1 331.8,508.4 333.0,507.3 334.2,506.4 335.4,508.9 336.7,506.4 337.9,508.6 339.1,509.7 340.3,507.1 341.5,507.0 342.7,505.2 343.9,507.8 345.2,507.5 346.4,509.0 347.6,508.3 348.8,507.2 350.0,507.9 351.2,508.7 352.5,506.4 353.7,508.2 354.9,508.0 356.1,508.8 357.3,510.0 358.5,510.0 359.8,506.0 361.0,507.1 362.2,511.2 363.4,510.9 364.6,507.9 365.8,506.8 367.1,509.0 368.3,508.3 369.5,507.9 370.7,508.2 371.9,511.4 373.1,509.6 374.4,511.5 375.6,509.7 376.8,508.9 378.0,512.3 379.2,511.1 380.4,510.3 381.7,511.5 382.9,509.6 384.1,508.6 385.3,508.8 386.5,508.8 387.7,509.4 388.9,510.1 390.2,511.6 391.4,511.1 392.6,509.2 393.8,509.2 395.0,506.9 396.2,512.6 397.5,508.8 398.7,511.6 399.9,508.6 401.1,509.1 402.3,509.5 403.5,510.6 404.8,510.0 406.0,507.7 407.2,509.5 408.4,511.1 409.6,509.3 410.8,508.2 412.1,510.1 413.3,511.0 414.5,510.1 415.7,509.5 416.9,506.6 418.1,509.3 419.4,509.4 420.6,511.3 421.8,509.0 423.0,511.1 424.2,509.4 425.4,510.3 426.7,509.6 427.9,512.3 429.1,511.7 430.3,510.1 431.5,509.8 432.7,509.2 433.9,510.9 435.2,511.5 436.4,511.8 437.6,510.7 438.8,512.2 440.0,513.1 441.2,512.0 442.5,511.3 443.7,512.2 444.9,511.7 446.1,513.0 447.3,513.1 448.5,515.1 449.8,512.8 451.0,510.8 452.2,516.6 453.4,513.0 454.6,510.3 455.8,512.8 457.1,512.3 458.3,511.3 459.5,513.6 460.7,517.0 461.9,513.5 463.1,513.1 464.4,515.3 465.6,513.7 466.8,512.8 468.0,512.3 469.2,511.5 470.4,514.7 471.7,512.9 472.9,513.1 474.1,511.3 475.3,512.9 476.5,511.8 477.7,511.5 478.9,514.2 480.2,508.4 481.4,511.4 482.6,509.6 483.8,511.2 485.0,511.4 486.2,509.3 487.5,507.6 488.7,509.5 489.9,512.8 491.1,512.9 492.3,509.7 493.5,508.1 494.8,510.0 496.0,509.5 497.2,511.6 498.4,510.7 499.6,512.6 500.8,510.0 502.1,512.7 503.3,509.9 504.5,509.0 505.7,511.7 506.9,511.1 508.1,508.8 509.4,511.4 510.6,510.6 511.8,508.9 513.0,510.8 514.2,511.2 515.4,509.1 516.7,507.9 517.9,511.1 519.1,509.8 520.3,507.3 521.5,507.2 522.7,509.2 523.9,510.7 525.2,507.9 526.4,511.1 527.6,508.8 528.8,511.8 530.0,507.6 531.2,508.9 532.5,511.8 533.7,511.2 534.9,508.0 536.1,509.8 537.3,507.0 538.5,511.6 539.8,511.8 541.0,508.6 542.2,510.9 543.4,509.4 544.6,511.9 545.8,509.4 547.1,510.0 548.3,506.8 549.5,509.8 550.7,510.0 551.9,511.9 553.1,512.3 554.4,509.7 555.6,509.8 556.8,508.4 558.0,507.7 559.2,510.0 560.4,511.5 561.7,509.8 562.9,511.5 564.1,509.5 565.3,511.1 566.5,508.3 567.7,508.2 568.9,511.0 570.2,509.9 571.4,511.3 572.6,509.8 573.8,508.7 575.0,510.6 576.2,509.4 577.5,511.5 578.7,511.4 579.9,507.3 581.1,511.4 582.3,509.8 583.5,509.7 584.8,510.9 586.0,509.0 587.2,509.5 588.4,511.2 589.6,510.7 590.8,510.8 592.1,508.1 593.3,509.3 594.5,509.4 595.7,511.1 596.9,509.0 598.1,509.8 599.4,511.3 600.6,509.2 601.8,511.2 603.0,509.6 604.2,511.7 605.4,509.1 606.7,510.8 607.9,510.7 609.1,511.5 610.3,506.5" fill="none" stroke="#6b88b0" stroke-width="1.2"/><path d="M73.6,492.8H610.3M73.6,532.2H610.3" stroke="#7f819c" stroke-width="1.6"/><defs><marker id="mk13" markerWidth="8" markerHeight="8" refX="4" refY="4" markerUnits="userSpaceOnUse"><circle cx="4" cy="4" r="2.7" fill="#82cdc4"/></marker></defs><polyline clip-path="url(#clipP)" points="69.0,438.5 70.1,444.0 71.2,451.4 72.3,433.9 73.3,447.3 74.4,439.0 75.5,447.5 76.6,445.8 77.7,452.6 78.8,461.5 79.8,461.8 80.9,470.5 82.0,466.7 83.1,472.2 84.2,463.4 85.3,450.1 86.3,457.7 87.4,454.1 88.5,449.9 89.6,453.6 90.7,448.6 91.8,432.3 92.8,443.4 93.9,430.9 95.0,432.1 96.1,432.9 97.2,436.0 98.3,441.8 99.4,433.1 100.4,439.6 101.5,437.8 102.6,441.3 103.7,441.4 104.8,447.8 105.9,449.5 106.9,441.7 108.0,448.4 109.1,440.3 110.2,449.7 111.3,453.4 112.4,449.6 113.4,463.0 114.5,454.7 115.6,449.5 116.7,455.8 117.8,451.6 118.9,458.1 119.9,456.0 121.0,457.6 122.1,445.2 123.2,453.8 124.3,460.9 125.4,460.9 126.4,461.1 127.5,458.8 128.6,462.3 129.7,461.9 130.8,460.0 131.9,462.8 133.0,461.8 134.0,455.7 135.1,460.2 136.2,462.0 137.3,457.0 138.4,449.0 139.5,456.5 140.5,459.0 141.6,446.8 142.7,451.4 143.8,453.5 144.9,466.6 146.0,463.7 147.0,459.7 148.1,465.8 149.2,464.2 150.3,457.0 151.4,462.7 152.5,469.3 153.5,464.8 154.6,477.3 155.7,465.8 156.8,466.9 157.9,468.5 159.0,470.4 160.1,470.9 161.1,477.4 162.2,481.5 163.3,472.6 164.4,468.0 165.5,473.6 166.6,476.4 167.6,483.8 168.7,480.6 169.8,478.9 170.9,490.8 172.0,475.7 173.1,476.3 174.1,487.8 175.2,485.4 176.3,481.8 177.4,475.5 178.5,481.0 179.6,479.6 180.6,474.5 181.7,476.6 182.8,469.1 183.9,478.4 185.0,468.1 186.1,475.6 187.1,466.8 188.2,465.6 189.3,467.6 190.4,464.0 191.5,469.1 192.6,464.7 193.7,470.9 194.7,475.2 195.8,478.0 196.9,480.1 198.0,477.8 199.1,488.4 200.2,482.3 201.2,482.5 202.3,488.0 203.4,493.3 204.5,478.6 205.6,482.2 206.7,488.8 207.7,482.7 208.8,476.2 209.9,482.7 211.0,481.7 212.1,477.8 213.2,472.5 214.2,475.5 215.3,473.3 216.4,479.9 217.5,469.6 218.6,465.7 219.7,473.5 220.8,470.9 221.8,476.4 222.9,461.7 224.0,469.9 225.1,473.9 226.2,469.0 227.3,470.5 228.3,466.4 229.4,475.0 230.5,463.4 231.6,467.8 232.7,466.9 233.8,466.7 234.8,469.2 235.9,465.6 237.0,466.2 238.1,467.4 239.2,466.0 240.3,468.3 241.3,460.2 242.4,469.0 243.5,455.5 244.6,454.7 245.7,457.3 246.8,454.7 247.8,460.4 248.9,459.4 250.0,459.9 251.1,458.9 252.2,456.9 253.3,464.7 254.4,450.0 255.4,451.7 256.5,449.7 257.6,454.3 258.7,448.6 259.8,446.3 260.9,443.7 261.9,446.5 263.0,442.5 264.1,448.3 265.2,447.4 266.3,445.4 267.4,446.4 268.4,445.4 269.5,448.5 270.6,441.7 271.7,440.0 272.8,441.6 273.9,441.5 274.9,445.2 276.0,442.3 277.1,440.1 278.2,443.7 279.3,446.7 280.4,441.8 281.5,448.7 282.5,451.8 283.6,443.6 284.7,445.1 285.8,445.1 286.9,439.9 288.0,447.4 289.0,441.8 290.1,446.9 291.2,451.0 292.3,456.4 293.4,452.3 294.5,450.5 295.5,453.7 296.6,451.0 297.7,448.9 298.8,454.8 299.9,448.9 301.0,454.1 302.0,456.8 303.1,450.6 304.2,450.3 305.3,446.0 306.4,452.1 307.5,451.4 308.5,455.1 309.6,453.3 310.7,450.7 311.8,452.3 312.9,454.3 314.0,448.8 315.1,453.1 316.1,452.7 317.2,454.6 318.3,457.3 319.4,457.4 320.5,448.0 321.6,450.5 322.6,460.2 323.7,459.4 324.8,452.3 325.9,449.9 327.0,454.9 328.1,453.3 329.1,452.4 330.2,453.0 331.3,460.8 332.4,456.4 333.5,461.0 334.6,456.8 335.6,454.8 336.7,462.7 337.8,460.0 338.9,458.0 340.0,461.0 341.1,456.4 342.2,454.1 343.2,454.5 344.3,454.7 345.4,455.9 346.5,457.7 347.6,461.1 348.7,460.0 349.7,455.6 350.8,455.4 351.9,450.1 353.0,463.6 354.1,454.5 355.2,461.1 356.2,454.0 357.3,455.2 358.4,456.1 359.5,458.9 360.6,457.4 361.7,452.0 362.7,456.1 363.8,460.0 364.9,455.7 366.0,453.0 367.1,457.6 368.2,459.7 369.3,457.6 370.3,456.1 371.4,449.3 372.5,455.6 373.6,456.0 374.7,460.5 375.8,455.0 376.8,460.0 377.9,456.0 379.0,458.1 380.1,456.4 381.2,462.9 382.3,461.3 383.3,457.7 384.4,456.8 385.5,455.4 386.6,459.4 387.7,460.9 388.8,461.6 389.8,459.1 390.9,462.7 392.0,464.6 393.1,462.2 394.2,460.6 395.3,462.7 396.3,461.3 397.4,464.6 398.5,464.6 399.6,469.4 400.7,464.0 401.8,459.4 402.9,473.0 403.9,464.5 405.0,458.1 406.1,464.1 407.2,462.8 408.3,460.3 409.4,465.9 410.4,473.9 411.5,465.6 412.6,464.8 413.7,469.8 414.8,466.2 415.9,464.1 416.9,462.9 418.0,461.0 419.1,468.5 420.2,464.2 421.3,464.7 422.4,460.5 423.4,464.3 424.5,461.6 425.6,460.8 426.7,467.4 427.8,453.5 428.9,460.8 430.0,456.4 431.0,460.3 432.1,460.6 433.2,455.6 434.3,451.6 435.4,456.1 436.5,464.1 437.5,464.3 438.6,456.7 439.7,452.8 440.8,457.3 441.9,456.1 443.0,461.3 444.0,459.1 445.1,463.4 446.2,457.4 447.3,463.8 448.4,457.1 449.5,455.0 450.5,461.4 451.6,460.0 452.7,454.5 453.8,460.8 454.9,458.8 456.0,454.8 457.0,459.4 458.1,460.2 459.2,455.2 460.3,452.5 461.4,460.1 462.5,456.8 463.6,451.1 464.6,450.8 465.7,455.6 466.8,459.0 467.9,452.4 469.0,459.9 470.1,454.6 471.1,461.6 472.2,451.7 473.3,454.7 474.4,461.5 475.5,460.2 476.6,452.6 477.6,456.9 478.7,450.4 479.8,461.2 480.9,461.7 482.0,454.0 483.1,459.5 484.1,456.0 485.2,462.0 486.3,456.0 487.4,457.5 488.5,449.8 489.6,457.0 490.7,457.4 491.7,461.8 492.8,462.9 493.9,456.6 495.0,456.8 496.1,453.5 497.2,451.9 498.2,457.4 499.3,460.8 500.4,457.0 501.5,461.0 502.6,456.2 503.7,459.9 504.7,453.4 505.8,453.2 506.9,459.8 508.0,457.2 509.1,460.4 510.2,456.9 511.2,454.2 512.3,458.9 513.4,455.9 514.5,461.0 515.6,460.7 516.7,451.0 517.7,460.8 518.8,456.9 519.9,456.8 521.0,459.5 522.1,455.1 523.2,456.1 524.3,460.3 525.3,459.0 526.4,459.2 527.5,453.0 528.6,455.8 529.7,456.0 530.8,460.0 531.8,454.9 532.9,457.0 534.0,460.5 535.1,455.4 536.2,460.3 537.3,456.4 538.3,461.4 539.4,455.3 540.5,459.2 541.6,459.1 542.7,460.9 543.8,449.1" fill="none" stroke="#82cdc4" stroke-width="2.4" stroke-linejoin="round" marker-start="url(#mk13)" marker-mid="url(#mk13)" marker-end="url(#mk13)"/><path d="M73.6,492.8V532.2" stroke="#b9b8d0" stroke-width="1.4"/><rect x="69.39999999999999" y="500" width="8.4" height="25" rx="3" fill="#3a3859" stroke="#a9a7c4" stroke-width="1.4"/><path d="M610.3,492.8V532.2" stroke="#b9b8d0" stroke-width="1.4"/><rect x="606.0999999999999" y="500" width="8.4" height="25" rx="3" fill="#3a3859" stroke="#a9a7c4" stroke-width="1.4"/><path d="M471.3,87.3V89.8M471.3,93.6V107.1H486.8V91.8H476.2M466.3,91.8H474M509,86.6L503.8,91.8L509,97M503.8,91.8H520.4V107.1H504.6V97.8M537.5,99.0A10.3,10.3 0 0 1 556.8999999999999,93.0M558.0999999999999,96.0A10.3,10.3 0 0 1 538.7,102.0M558.3999999999999,88.0V93.5H552.5999999999999M537.2,107.0V101.5H543.0M584.1,87V103M574.9,95.2L584.1,103.6L593,95.2M574.9,101.8V107.7H593V101.8M610.9,87.3H620.5L625,91.9V107.7H610.9ZM613.2,93.6H617M613.2,98H622.2M613.2,102.5H622.2" fill="none" stroke="#8f8da4" stroke-width="1.5"/><rect x="592" y="22" width="42.5" height="42.5" rx="8" fill="#222227"/><path d="M606.3,40.6 V36.6 Q606.3,35.1 607.8,35.1 H611.8 M616.0999999999999,35.1 H620.0999999999999 Q621.5999999999999,35.1 621.5999999999999,36.6 V40.6 M621.5999999999999,44.900000000000006 V48.900000000000006 Q621.5999999999999,50.400000000000006 620.0999999999999,50.400000000000006 H616.0999999999999 M611.8,50.400000000000006 H607.8 Q606.3,50.400000000000006 606.3,48.900000000000006 V44.900000000000006" fill="none" stroke="#f6a583" stroke-width="3" stroke-linecap="round"/></svg><div class="ttl">scalar "layer 5 mean"</div></div><div class="card" style="left:3135px;top:1246px"><svg width="663" height="570" viewBox="0 0 663 570" font-family='"Liberation Sans", sans-serif'><defs><clipPath id="clipL"><rect x="29" y="0" width="600" height="570"/></clipPath><clipPath id="clipP"><rect x="63.0" y="96.5" width="551.8" height="427.5"/></clipPath></defs><path d="M69.0,104.5H608.8M69.0,186.8H608.8M69.0,269.1H608.8M69.0,351.4H608.8M69.0,433.7H608.8M175.2,104.5V516.0M283.6,104.5V516.0M392.0,104.5V516.0M500.4,104.5V516.0M608.8,104.5V516.0" stroke="#37363f" stroke-width="1.5" fill="none"/><path d="M69.0,104.5V516.0M62.0,104.5H69.0M62.0,186.8H69.0M62.0,269.1H69.0M62.0,351.4H69.0M62.0,433.7H69.0M62.0,516.0H69.0M69.0,516.0H608.8M69.0,516.0V523.0M175.2,516.0V523.0M283.6,516.0V523.0M392.0,516.0V523.0M500.4,516.0V523.0M608.8,516.0V523.0" stroke="#aeadc4" stroke-width="1.4" fill="none"/><g clip-path="url(#clipL)" fill="#a3a2b0" font-size="18" text-anchor="end"><text x="57.0" y="108.7">5</text><text x="57.0" y="191.0">4</text><text x="57.0" y="273.3">3</text><text x="57.0" y="355.6">2</text><text x="57.0" y="437.9">1</text><text x="57.0" y="520.2">0</text></g><g fill="#a3a2b0" font-size="18" text-anchor="middle" letter-spacing="-0.3"><text x="69.0" y="539.5">20</text><text x="175.2" y="539.5">1,000</text><text x="283.6" y="539.5">2,000</text><text x="392.0" y="539.5">3,000</text><text x="500.4" y="539.5">4,000</text><text x="608.8" y="539.5">5,000</text></g><rect x="72.5" y="483.5" width="539.0" height="8.5" rx="2" fill="rgb(112,114,128)" fill-opacity="0.5"/><path d="M338.45,485.5v4.5M341.95,485.5v4.5M345.45,485.5v4.5" stroke="#e8e8ee" stroke-width="1.6"/><rect x="73.6" y="492.8" width="536.6999999999999" height="39.400000000000034" fill="rgb(80,100,140)" fill-opacity="0.3"/><rect x="73.6" y="516.0" width="536.6999999999999" height="16.200000000000045" fill="rgb(120,135,170)" fill-opacity="0.3"/><polyline points="77.6,514.7 78.8,513.0 80.0,512.5 81.2,516.4 82.5,514.1 83.7,508.8 84.9,516.5 86.1,512.9 87.3,509.5 88.5,511.7 89.8,505.8 91.0,501.7 92.2,505.7 93.4,509.3 94.6,508.7 95.8,512.2 97.1,512.0 98.3,514.1 99.5,516.1 100.7,518.4 101.9,515.1 103.1,518.2 104.4,518.3 105.6,520.0 106.8,520.2 108.0,518.2 109.2,518.1 110.4,517.2 111.7,516.8 112.9,517.1 114.1,515.5 115.3,515.0 116.5,513.5 117.7,516.0 119.0,512.6 120.2,518.2 121.4,515.6 122.6,513.6 123.8,514.3 125.0,512.2 126.2,516.1 127.5,514.7 128.7,514.7 129.9,511.8 131.1,509.3 132.3,513.3 133.5,512.2 134.8,512.9 136.0,509.8 137.2,510.0 138.4,509.7 139.6,511.9 140.8,511.0 142.1,511.4 143.3,511.1 144.5,510.6 145.7,509.3 146.9,512.5 148.1,507.4 149.4,509.6 150.6,507.0 151.8,508.2 153.0,510.1 154.2,510.0 155.4,509.3 156.7,512.4 157.9,509.6 159.1,511.4 160.3,511.3 161.5,512.1 162.7,511.0 164.0,511.9 165.2,511.7 166.4,509.5 167.6,508.3 168.8,508.8 170.0,510.9 171.2,508.9 172.5,509.1 173.7,508.1 174.9,508.5 176.1,507.9 177.3,506.3 178.5,506.9 179.8,506.1 181.0,506.5 182.2,506.8 183.4,505.8 184.6,507.1 185.8,504.1 187.1,504.3 188.3,504.2 189.5,502.2 190.7,504.8 191.9,501.7 193.1,502.1 194.4,502.9 195.6,504.7 196.8,502.8 198.0,504.0 199.2,504.4 200.4,503.1 201.7,502.9 202.9,504.5 204.1,503.6 205.3,498.8 206.5,505.3 207.7,503.5 209.0,504.7 210.2,505.5 211.4,504.1 212.6,507.0 213.8,507.7 215.0,505.4 216.2,505.3 217.5,506.3 218.7,504.5 219.9,506.7 221.1,506.1 222.3,508.7 223.5,504.8 224.8,507.8 226.0,507.5 227.2,507.1 228.4,508.9 229.6,507.7 230.8,508.4 232.1,507.2 233.3,510.4 234.5,509.4 235.7,509.6 236.9,510.6 238.1,511.5 239.4,509.9 240.6,512.7 241.8,512.6 243.0,511.2 244.2,511.5 245.4,512.7 246.7,512.5 247.9,513.5 249.1,511.4 250.3,511.9 251.5,510.2 252.7,513.5 254.0,511.9 255.2,513.3 256.4,513.2 257.6,515.0 258.8,509.9 260.0,512.6 261.2,512.9 262.5,513.7 263.7,515.5 264.9,516.0 266.1,516.0 267.3,513.8 268.5,515.8 269.8,514.9 271.0,515.1 272.2,515.7 273.4,516.7 274.6,517.1 275.8,516.7 277.1,517.3 278.3,519.1 279.5,516.9 280.7,517.5 281.9,518.0 283.1,518.7 284.4,520.3 285.6,518.1 286.8,521.3 288.0,521.5 289.2,522.1 290.4,520.7 291.7,521.7 292.9,523.7 294.1,523.1 295.3,523.8 296.5,521.9 297.7,522.2 299.0,524.2 300.2,523.8 301.4,523.9 302.6,523.3 303.8,523.7 305.0,524.3 306.2,524.7 307.5,524.9 308.7,525.2 309.9,523.4 311.1,522.2 312.3,521.2 313.5,523.4 314.8,522.2 316.0,523.1 317.2,522.2 318.4,522.8 319.6,521.6 320.8,522.1 322.1,521.1 323.3,519.8 324.5,521.6 325.7,520.7 326.9,520.6 328.1,518.7 329.4,519.0 330.6,519.0 331.8,518.9 333.0,517.7 334.2,516.2 335.4,518.9 336.7,517.9 337.9,518.2 339.1,519.4 340.3,519.8 341.5,518.8 342.7,518.6 343.9,518.2 345.2,518.5 346.4,519.0 347.6,516.0 348.8,520.4 350.0,519.5 351.2,516.1 352.5,517.0 353.7,517.9 354.9,518.3 356.1,515.0 357.3,516.9 358.5,518.0 359.8,516.7 361.0,514.9 362.2,516.5 363.4,516.7 364.6,516.6 365.8,516.1 367.1,517.5 368.3,516.7 369.5,515.9 370.7,513.7 371.9,518.3 373.1,516.8 374.4,518.2 375.6,513.4 376.8,518.2 378.0,518.1 379.2,516.0 380.4,515.8 381.7,518.7 382.9,515.1 384.1,516.3 385.3,516.2 386.5,517.2 387.7,519.1 388.9,514.1 390.2,518.4 391.4,517.7 392.6,518.0 393.8,516.4 395.0,518.3 396.2,518.4 397.5,517.0 398.7,517.0 399.9,517.7 401.1,517.5 402.3,517.0 403.5,517.8 404.8,518.5 406.0,517.9 407.2,516.2 408.4,516.4 409.6,516.2 410.8,516.4 412.1,517.6 413.3,517.4 414.5,517.3 415.7,518.4 416.9,518.7 418.1,518.5 419.4,517.4 420.6,517.8 421.8,517.0 423.0,516.0 424.2,517.1 425.4,517.6 426.7,518.1 427.9,518.6 429.1,517.3 430.3,517.8 431.5,516.6 432.7,518.1 433.9,517.4 435.2,518.9 436.4,516.2 437.6,518.6 438.8,518.1 440.0,516.6 441.2,518.4 442.5,515.9 443.7,514.6 444.9,518.8 446.1,516.7 447.3,515.1 448.5,515.7 449.8,518.4 451.0,517.6 452.2,516.6 453.4,518.4 454.6,518.8 455.8,517.0 457.1,516.4 458.3,516.8 459.5,515.1 460.7,516.2 461.9,515.7 463.1,514.9 464.4,515.3 465.6,517.4 466.8,516.8 468.0,516.3 469.2,518.2 470.4,516.6 471.7,516.8 472.9,517.4 474.1,516.2 475.3,517.3 476.5,514.8 477.7,515.3 478.9,516.3 480.2,516.5 481.4,516.1 482.6,518.0 483.8,515.7 485.0,516.5 486.2,516.1 487.5,515.7 488.7,519.0 489.9,516.0 491.1,515.6 492.3,516.9 493.5,517.4 494.8,517.8 496.0,516.2 497.2,519.8 498.4,518.8 499.6,518.6 500.8,514.8 502.1,520.9 503.3,518.2 504.5,516.9 505.7,516.7 506.9,516.6 508.1,517.9 509.4,520.4 510.6,518.8 511.8,518.2 513.0,517.6 514.2,517.7 515.4,517.2 516.7,517.3 517.9,516.4 519.1,519.3 520.3,516.5 521.5,515.2 522.7,516.7 523.9,516.3 525.2,520.5 526.4,516.7 527.6,517.5 528.8,517.3 530.0,514.9 531.2,517.6 532.5,514.0 533.7,518.6 534.9,516.6 536.1,517.0 537.3,516.6 538.5,515.9 539.8,517.0 541.0,516.5 542.2,519.2 543.4,518.7 544.6,517.8 545.8,516.6 547.1,515.9 548.3,518.4 549.5,517.5 550.7,517.2 551.9,517.1 553.1,517.2 554.4,518.4 555.6,518.5 556.8,516.2 558.0,518.6 559.2,515.0 560.4,516.7 561.7,517.0 562.9,516.4 564.1,517.8 565.3,518.0 566.5,516.8 567.7,518.8 568.9,515.4 570.2,516.8 571.4,516.3 572.6,515.9 573.8,516.1 575.0,516.5 576.2,518.3 577.5,516.4 578.7,516.2 579.9,516.9 581.1,517.5 582.3,516.8 583.5,517.1 584.8,518.4 586.0,517.7 587.2,518.4 588.4,518.5 589.6,517.5 590.8,517.9 592.1,517.0 593.3,518.0 594.5,516.0 595.7,517.6 596.9,516.7 598.1,517.6 599.4,516.6 600.6,518.4 601.8,515.7 603.0,515.9 604.2,516.1 605.4,516.7 606.7,517.0 607.9,517.2 609.1,518.7 610.3,516.3" fill="none" stroke="#6b88b0" stroke-width="1.2"/><path d="M73.6,492.8H610.3M73.6,532.2H610.3" stroke="#7f819c" stroke-width="1.6"/><defs><marker id="mk14" markerWidth="8" markerHeight="8" refX="4" refY="4" markerUnits="userSpaceOnUse"><circle cx="4" cy="4" r="2.7" fill="#9fd0fd"/></marker></defs><polyline clip-path="url(#clipP)" points="69.0,182.1 70.1,175.4 71.2,173.3 72.3,189.1 73.3,180.1 74.4,158.9 75.5,189.5 76.6,175.2 77.7,161.6 78.8,170.3 79.8,146.7 80.9,130.7 82.0,146.4 83.1,160.6 84.2,158.6 85.3,172.3 86.3,171.7 87.4,180.0 88.5,188.0 89.6,197.0 90.7,183.9 91.8,196.1 92.8,196.6 93.9,203.3 95.0,204.1 96.1,196.2 97.2,195.8 98.3,192.3 99.4,190.4 100.4,191.7 101.5,185.4 102.6,183.3 103.7,177.3 104.8,187.4 105.9,174.1 106.9,196.1 108.0,185.7 109.1,177.7 110.2,180.5 111.3,172.2 112.4,187.9 113.4,182.1 114.5,182.3 115.6,170.6 116.7,160.7 117.8,176.8 118.9,172.5 119.9,175.1 121.0,162.7 122.1,163.6 123.2,162.5 124.3,171.3 125.4,167.4 126.4,169.2 127.5,168.0 128.6,165.9 129.7,160.7 130.8,173.5 131.9,153.2 133.0,161.9 134.0,151.6 135.1,156.4 136.2,164.0 137.3,163.4 138.4,160.6 139.5,173.0 140.5,162.1 141.6,169.1 142.7,168.7 143.8,172.1 144.9,167.5 146.0,171.1 147.0,170.3 148.1,161.4 149.2,156.7 150.3,158.8 151.4,167.3 152.5,159.1 153.5,160.0 154.6,156.1 155.7,157.6 156.8,155.4 157.9,149.0 159.0,151.3 160.1,148.1 161.1,149.6 162.2,150.9 163.3,146.8 164.4,151.9 165.5,140.2 166.6,141.0 167.6,140.3 168.7,132.6 169.8,142.8 170.9,130.6 172.0,132.3 173.1,135.5 174.1,142.4 175.2,135.1 176.3,139.7 177.4,141.3 178.5,136.3 179.6,135.3 180.6,141.6 181.7,138.2 182.8,119.0 183.9,145.0 185.0,137.5 186.1,142.6 187.1,145.6 188.2,140.2 189.3,151.6 190.4,154.4 191.5,145.3 192.6,144.7 193.7,149.0 194.7,141.9 195.8,150.5 196.9,148.2 198.0,158.6 199.1,143.1 200.2,154.9 201.2,153.8 202.3,152.0 203.4,159.2 204.5,154.6 205.6,157.1 206.7,152.5 207.7,165.3 208.8,161.2 209.9,161.9 211.0,166.1 212.1,169.4 213.2,163.2 214.2,174.2 215.3,173.9 216.4,168.5 217.5,169.5 218.6,174.4 219.7,173.7 220.8,177.4 221.8,169.0 222.9,171.1 224.0,164.5 225.1,177.4 226.2,171.1 227.3,176.9 228.3,176.4 229.4,183.6 230.5,163.0 231.6,174.1 232.7,174.9 233.8,178.3 234.8,185.3 235.9,187.4 237.0,187.4 238.1,178.5 239.2,186.5 240.3,183.1 241.3,183.7 242.4,186.1 243.5,190.4 244.6,191.8 245.7,190.4 246.8,192.7 247.8,199.7 248.9,190.8 250.0,193.2 251.1,195.2 252.2,198.3 253.3,204.4 254.4,195.9 255.4,208.5 256.5,209.4 257.6,211.8 258.7,206.0 259.8,210.1 260.9,217.9 261.9,215.6 263.0,218.3 264.1,211.0 265.2,212.3 266.3,219.9 267.4,218.6 268.4,219.0 269.5,216.5 270.6,218.2 271.7,220.5 272.8,221.9 273.9,222.7 274.9,224.0 276.0,216.8 277.1,212.1 278.2,208.0 279.3,217.0 280.4,212.0 281.5,215.7 282.5,212.0 283.6,214.5 284.7,209.7 285.8,211.7 286.9,207.7 288.0,202.7 289.0,209.5 290.1,206.2 291.2,205.6 292.3,198.2 293.4,199.4 294.5,199.4 295.5,198.9 296.6,194.2 297.7,188.2 298.8,198.9 299.9,194.8 301.0,196.0 302.0,200.9 303.1,202.4 304.2,198.6 305.3,197.9 306.4,196.1 307.5,197.5 308.5,199.5 309.6,187.4 310.7,204.8 311.8,201.3 312.9,187.7 314.0,191.4 315.1,194.8 316.1,196.4 317.2,183.4 318.3,190.9 319.4,195.3 320.5,190.3 321.6,183.1 322.6,189.4 323.7,190.2 324.8,189.6 325.9,187.8 327.0,193.4 328.1,190.3 329.1,187.2 330.2,178.3 331.3,196.7 332.4,190.8 333.5,196.0 334.6,176.9 335.6,196.1 336.7,195.7 337.8,187.2 338.9,186.7 340.0,198.1 341.1,184.0 342.2,188.7 343.2,188.4 344.3,192.3 345.4,199.7 346.5,180.0 347.6,197.1 348.7,194.2 349.7,195.6 350.8,188.9 351.9,196.4 353.0,196.9 354.1,191.3 355.2,191.4 356.2,194.2 357.3,193.6 358.4,191.6 359.5,194.5 360.6,197.3 361.7,194.9 362.7,188.4 363.8,188.9 364.9,188.4 366.0,189.0 367.1,193.9 368.2,193.1 369.3,192.5 370.3,196.8 371.4,198.3 372.5,197.5 373.6,192.9 374.7,194.5 375.8,191.5 376.8,187.5 377.9,191.8 379.0,193.9 380.1,195.7 381.2,197.8 382.3,192.5 383.3,194.6 384.4,189.9 385.5,195.7 386.6,193.1 387.7,199.0 388.8,188.3 389.8,197.8 390.9,195.9 392.0,190.0 393.1,196.9 394.2,187.1 395.3,181.7 396.3,198.7 397.4,190.2 398.5,183.8 399.6,186.4 400.7,196.8 401.8,193.7 402.9,190.0 403.9,197.0 405.0,198.6 406.1,191.5 407.2,188.9 408.3,190.5 409.4,184.0 410.4,188.1 411.5,186.4 412.6,183.2 413.7,184.6 414.8,193.0 415.9,190.5 416.9,188.6 418.0,196.3 419.1,189.7 420.2,190.7 421.3,192.8 422.4,188.1 423.4,192.5 424.5,182.7 425.6,184.7 426.7,188.7 427.8,189.2 428.9,187.8 430.0,195.2 431.0,186.4 432.1,189.4 433.2,187.7 434.3,186.3 435.4,199.3 436.5,187.4 437.5,185.8 438.6,191.2 439.7,192.9 440.8,194.7 441.9,188.0 443.0,202.4 444.0,198.7 445.1,197.7 446.2,182.8 447.3,206.7 448.4,196.2 449.5,191.1 450.5,190.3 451.6,189.7 452.7,194.8 453.8,204.8 454.9,198.5 456.0,196.0 457.0,193.6 458.1,194.0 459.2,192.2 460.3,192.5 461.4,189.2 462.5,200.6 463.6,189.3 464.6,184.1 465.7,190.1 466.8,188.4 467.9,205.3 469.0,190.1 470.1,193.2 471.1,192.4 472.2,183.1 473.3,193.8 474.4,179.3 475.5,197.6 476.6,189.8 477.6,191.3 478.7,189.8 479.8,186.8 480.9,191.3 482.0,189.5 483.1,200.0 484.1,198.0 485.2,194.7 486.3,189.9 487.4,186.9 488.5,196.9 489.6,193.3 490.7,192.0 491.7,191.7 492.8,192.2 493.9,197.1 495.0,197.5 496.1,188.0 497.2,197.6 498.2,183.5 499.3,190.2 500.4,191.6 501.5,189.2 502.6,194.7 503.7,195.3 504.7,190.4 505.8,198.4 506.9,185.0 508.0,190.6 509.1,188.8 510.2,187.2 511.2,187.8 512.3,189.4 513.4,196.4 514.5,189.2 515.6,188.3 516.7,191.2 517.7,193.6 518.8,190.5 519.9,191.7 521.0,197.0 522.1,194.2 523.2,197.0 524.3,197.2 525.3,193.3 526.4,194.9 527.5,191.5 528.6,195.3 529.7,187.6 530.8,193.7 531.8,190.0 532.9,193.6 534.0,189.9 535.1,196.9 536.2,186.2 537.3,187.1 538.3,187.7 539.4,190.2 540.5,191.4 541.6,192.4 542.7,198.3 543.8,188.7" fill="none" stroke="#9fd0fd" stroke-width="2.4" stroke-linejoin="round" marker-start="url(#mk14)" marker-mid="url(#mk14)" marker-end="url(#mk14)"/><path d="M73.6,492.8V532.2" stroke="#b9b8d0" stroke-width="1.4"/><rect x="69.39999999999999" y="500" width="8.4" height="25" rx="3" fill="#3a3859" stroke="#a9a7c4" stroke-width="1.4"/><path d="M610.3,492.8V532.2" stroke="#b9b8d0" stroke-width="1.4"/><rect x="606.0999999999999" y="500" width="8.4" height="25" rx="3" fill="#3a3859" stroke="#a9a7c4" stroke-width="1.4"/><path d="M471.3,87.3V89.8M471.3,93.6V107.1H486.8V91.8H476.2M466.3,91.8H474M509,86.6L503.8,91.8L509,97M503.8,91.8H520.4V107.1H504.6V97.8M537.5,99.0A10.3,10.3 0 0 1 556.8999999999999,93.0M558.0999999999999,96.0A10.3,10.3 0 0 1 538.7,102.0M558.3999999999999,88.0V93.5H552.5999999999999M537.2,107.0V101.5H543.0M584.1,87V103M574.9,95.2L584.1,103.6L593,95.2M574.9,101.8V107.7H593V101.8M610.9,87.3H620.5L625,91.9V107.7H610.9ZM613.2,93.6H617M613.2,98H622.2M613.2,102.5H622.2" fill="none" stroke="#8f8da4" stroke-width="1.5"/><rect x="592" y="22" width="42.5" height="42.5" rx="8" fill="#222227"/><path d="M606.3,40.6 V36.6 Q606.3,35.1 607.8,35.1 H611.8 M616.0999999999999,35.1 H620.0999999999999 Q621.5999999999999,35.1 621.5999999999999,36.6 V40.6 M621.5999999999999,44.900000000000006 V48.900000000000006 Q621.5999999999999,50.400000000000006 620.0999999999999,50.400000000000006 H616.0999999999999 M611.8,50.400000000000006 H607.8 Q606.3,50.400000000000006 606.3,48.900000000000006 V44.900000000000006" fill="none" stroke="#f6a583" stroke-width="3" stroke-linecap="round"/></svg><div class="ttl">scalar "layer 5 var"</div></div><div class="card" style="left:351px;top:1849px"><svg width="663" height="570" viewBox="0 0 663 570" font-family='"Liberation Sans", sans-serif'><defs><clipPath id="clipL"><rect x="29" y="0" width="600" height="570"/></clipPath><clipPath id="clipP"><rect x="63.0" y="96.5" width="551.8" height="427.5"/></clipPath></defs><path d="M69.0,186.8H608.8M69.0,269.1H608.8M69.0,351.4H608.8M69.0,433.7H608.8M69.0,516.0H608.8M175.2,104.5V516.0M283.6,104.5V516.0M392.0,104.5V516.0M500.4,104.5V516.0M608.8,104.5V516.0" stroke="#37363f" stroke-width="1.5" fill="none"/><path d="M69.0,104.5V516.0M62.0,104.5H69.0M62.0,186.8H69.0M62.0,269.1H69.0M62.0,351.4H69.0M62.0,433.7H69.0M62.0,516.0H69.0M69.0,104.5H608.8M69.0,104.5V111.5M175.2,104.5V111.5M283.6,104.5V111.5M392.0,104.5V111.5M500.4,104.5V111.5M608.8,104.5V111.5" stroke="#aeadc4" stroke-width="1.4" fill="none"/><g clip-path="url(#clipL)" fill="#a3a2b0" font-size="18" text-anchor="end"><text x="57.0" y="108.7">0</text><text x="57.0" y="191.0">-0.01</text><text x="57.0" y="273.3">-0.02</text><text x="57.0" y="355.6">-0.03</text><text x="57.0" y="437.9">-0.04</text><text x="57.0" y="520.2">-0.05</text></g><g fill="#a3a2b0" font-size="18" text-anchor="middle" letter-spacing="-0.3"><text x="69.0" y="539.5">20</text><text x="175.2" y="539.5">1,000</text><text x="283.6" y="539.5">2,000</text><text x="392.0" y="539.5">3,000</text><text x="500.4" y="539.5">4,000</text><text x="608.8" y="539.5">5,000</text></g><rect x="72.5" y="483.5" width="539.0" height="8.5" rx="2" fill="rgb(112,114,128)" fill-opacity="0.5"/><path d="M338.45,485.5v4.5M341.95,485.5v4.5M345.45,485.5v4.5" stroke="#e8e8ee" stroke-width="1.6"/><rect x="73.6" y="492.8" width="536.6999999999999" height="39.400000000000034" fill="rgb(80,100,140)" fill-opacity="0.3"/><rect x="73.6" y="516.0" width="536.6999999999999" height="16.200000000000045" fill="rgb(120,135,170)" fill-opacity="0.3"/><path d="M73.6,492.8H610.3M73.6,532.2H610.3" stroke="#7f819c" stroke-width="1.6"/><path d="M73.6,492.8V532.2" stroke="#b9b8d0" stroke-width="1.4"/><rect x="69.39999999999999" y="500" width="8.4" height="25" rx="3" fill="#3a3859" stroke="#a9a7c4" stroke-width="1.4"/><path d="M610.3,492.8V532.2" stroke="#b9b8d0" stroke-width="1.4"/><rect x="606.0999999999999" y="500" width="8.4" height="25" rx="3" fill="#3a3859" stroke="#a9a7c4" stroke-width="1.4"/><path d="M471.3,87.3V89.8M471.3,93.6V107.1H486.8V91.8H476.2M466.3,91.8H474M509,86.6L503.8,91.8L509,97M503.8,91.8H520.4V107.1H504.6V97.8M537.5,99.0A10.3,10.3 0 0 1 556.8999999999999,93.0M558.0999999999999,96.0A10.3,10.3 0 0 1 538.7,102.0M558.3999999999999,88.0V93.5H552.5999999999999M537.2,107.0V101.5H543.0M584.1,87V103M574.9,95.2L584.1,103.6L593,95.2M574.9,101.8V107.7H593V101.8M610.9,87.3H620.5L625,91.9V107.7H610.9ZM613.2,93.6H617M613.2,98H622.2M613.2,102.5H622.2" fill="none" stroke="#8f8da4" stroke-width="1.5"/><rect x="592" y="22" width="42.5" height="42.5" rx="8" fill="#222227"/><path d="M606.3,40.6 V36.6 Q606.3,35.1 607.8,35.1 H611.8 M616.0999999999999,35.1 H620.0999999999999 Q621.5999999999999,35.1 621.5999999999999,36.6 V40.6 M621.5999999999999,44.900000000000006 V48.900000000000006 Q621.5999999999999,50.400000000000006 620.0999999999999,50.400000000000006 H616.0999999999999 M611.8,50.400000000000006 H607.8 Q606.3,50.400000000000006 606.3,48.900000000000006 V44.900000000000006" fill="none" stroke="#f6a583" stroke-width="3" stroke-linecap="round"/></svg><div class="ttl">scalar "layer 6 mean"</div></div><div class="card" style="left:1047px;top:1849px"><svg width="663" height="570" viewBox="0 0 663 570" font-family='"Liberation Sans", sans-serif'><defs><clipPath id="clipL"><rect x="29" y="0" width="600" height="570"/></clipPath><clipPath id="clipP"><rect x="63.0" y="96.5" width="551.8" height="427.5"/></clipPath></defs><path d="M69.0,104.5H608.8M69.0,173.1H608.8M69.0,241.7H608.8M69.0,310.2H608.8M69.0,378.8H608.8M69.0,447.4H608.8M175.2,104.5V516.0M283.6,104.5V516.0M392.0,104.5V516.0M500.4,104.5V516.0M608.8,104.5V516.0" stroke="#37363f" stroke-width="1.5" fill="none"/><path d="M69.0,104.5V516.0M62.0,104.5H69.0M62.0,173.1H69.0M62.0,241.7H69.0M62.0,310.2H69.0M62.0,378.8H69.0M62.0,447.4H69.0M62.0,516.0H69.0M69.0,516.0H608.8M69.0,516.0V523.0M175.2,516.0V523.0M283.6,516.0V523.0M392.0,516.0V523.0M500.4,516.0V523.0M608.8,516.0V523.0" stroke="#aeadc4" stroke-width="1.4" fill="none"/><g clip-path="url(#clipL)" fill="#a3a2b0" font-size="18" text-anchor="end"><text x="57.0" y="108.7">6</text><text x="57.0" y="177.3">5</text><text x="57.0" y="245.9">4</text><text x="57.0" y="314.4">3</text><text x="57.0" y="383.0">2</text><text x="57.0" y="451.6">1</text><text x="57.0" y="520.2">0</text></g><g fill="#a3a2b0" font-size="18" text-anchor="middle" letter-spacing="-0.3"><text x="69.0" y="539.5">20</text><text x="175.2" y="539.5">1,000</text><text x="283.6" y="539.5">2,000</text><text x="392.0" y="539.5">3,000</text><text x="500.4" y="539.5">4,000</text><text x="608.8" y="539.5">5,000</text></g><rect x="72.5" y="483.5" width="539.0" height="8.5" rx="2" fill="rgb(112,114,128)" fill-opacity="0.5"/><path d="M338.45,485.5v4.5M341.95,485.5v4.5M345.45,485.5v4.5" stroke="#e8e8ee" stroke-width="1.6"/><rect x="73.6" y="492.8" width="536.6999999999999" height="39.400000000000034" fill="rgb(80,100,140)" fill-opacity="0.3"/><rect x="73.6" y="516.0" width="536.6999999999999" height="16.200000000000045" fill="rgb(120,135,170)" fill-opacity="0.3"/><polyline points="77.6,498.8 610.3,525.2" fill="none" stroke="#6b88b0" stroke-width="1.2"/><path d="M73.6,492.8H610.3M73.6,532.2H610.3" stroke="#7f819c" stroke-width="1.6"/><defs><marker id="mk16" markerWidth="8" markerHeight="8" refX="4" refY="4" markerUnits="userSpaceOnUse"><circle cx="4" cy="4" r="2.7" fill="#8ebefd"/></marker></defs><polyline clip-path="url(#clipP)" points="69.0,107.9 70.1,118.2" fill="none" stroke="#8ebefd" stroke-width="2.4" stroke-linejoin="round" marker-start="url(#mk16)" marker-mid="url(#mk16)" marker-end="url(#mk16)"/><path d="M73.6,492.8V532.2" stroke="#b9b8d0" stroke-width="1.4"/><rect x="69.39999999999999" y="500" width="8.4" height="25" rx="3" fill="#3a3859" stroke="#a9a7c4" stroke-width="1.4"/><path d="M610.3,492.8V532.2" stroke="#b9b8d0" stroke-width="1.4"/><rect x="606.0999999999999" y="500" width="8.4" height="25" rx="3" fill="#3a3859" stroke="#a9a7c4" stroke-width="1.4"/><path d="M471.3,87.3V89.8M471.3,93.6V107.1H486.8V91.8H476.2M466.3,91.8H474M509,86.6L503.8,91.8L509,97M503.8,91.8H520.4V107.1H504.6V97.8M537.5,99.0A10.3,10.3 0 0 1 556.8999999999999,93.0M558.0999999999999,96.0A10.3,10.3 0 0 1 538.7,102.0M558.3999999999999,88.0V93.5H552.5999999999999M537.2,107.0V101.5H543.0M584.1,87V103M574.9,95.2L584.1,103.6L593,95.2M574.9,101.8V107.7H593V101.8M610.9,87.3H620.5L625,91.9V107.7H610.9ZM613.2,93.6H617M613.2,98H622.2M613.2,102.5H622.2" fill="none" stroke="#8f8da4" stroke-width="1.5"/><rect x="592" y="22" width="42.5" height="42.5" rx="8" fill="#222227"/><path d="M606.3,40.6 V36.6 Q606.3,35.1 607.8,35.1 H611.8 M616.0999999999999,35.1 H620.0999999999999 Q621.5999999999999,35.1 621.5999999999999,36.6 V40.6 M621.5999999999999,44.900000000000006 V48.900000000000006 Q621.5999999999999,50.400000000000006 620.0999999999999,50.400000000000006 H616.0999999999999 M611.8,50.400000000000006 H607.8 Q606.3,50.400000000000006 606.3,48.900000000000006 V44.900000000000006" fill="none" stroke="#f6a583" stroke-width="3" stroke-linecap="round"/></svg><div class="ttl">scalar "layer 6 var"</div></div><div class="card" style="left:1743px;top:1849px"><svg width="663" height="570" viewBox="0 0 663 570" font-family='"Liberation Sans", sans-serif'><defs><clipPath id="clipL"><rect x="29" y="0" width="600" height="570"/></clipPath><clipPath id="clipP"><rect x="63.0" y="96.5" width="551.8" height="427.5"/></clipPath></defs><path d="M69.0,186.8H608.8M69.0,269.1H608.8M69.0,351.4H608.8M69.0,433.7H608.8M69.0,516.0H608.8M175.2,104.5V516.0M283.6,104.5V516.0M392.0,104.5V516.0M500.4,104.5V516.0M608.8,104.5V516.0" stroke="#37363f" stroke-width="1.5" fill="none"/><path d="M69.0,104.5V516.0M62.0,104.5H69.0M62.0,186.8H69.0M62.0,269.1H69.0M62.0,351.4H69.0M62.0,433.7H69.0M62.0,516.0H69.0M69.0,104.5H608.8M69.0,104.5V111.5M175.2,104.5V111.5M283.6,104.5V111.5M392.0,104.5V111.5M500.4,104.5V111.5M608.8,104.5V111.5" stroke="#aeadc4" stroke-width="1.4" fill="none"/><g clip-path="url(#clipL)" fill="#a3a2b0" font-size="18" text-anchor="end"><text x="57.0" y="108.7">0</text><text x="57.0" y="191.0">-0.01</text><text x="57.0" y="273.3">-0.02</text><text x="57.0" y="355.6">-0.03</text><text x="57.0" y="437.9">-0.04</text><text x="57.0" y="520.2">-0.05</text></g><g fill="#a3a2b0" font-size="18" text-anchor="middle" letter-spacing="-0.3"><text x="69.0" y="539.5">20</text><text x="175.2" y="539.5">1,000</text><text x="283.6" y="539.5">2,000</text><text x="392.0" y="539.5">3,000</text><text x="500.4" y="539.5">4,000</text><text x="608.8" y="539.5">5,000</text></g><rect x="72.5" y="483.5" width="539.0" height="8.5" rx="2" fill="rgb(112,114,128)" fill-opacity="0.5"/><path d="M338.45,485.5v4.5M341.95,485.5v4.5M345.45,485.5v4.5" stroke="#e8e8ee" stroke-width="1.6"/><rect x="73.6" y="492.8" width="536.6999999999999" height="39.400000000000034" fill="rgb(80,100,140)" fill-opacity="0.3"/><rect x="73.6" y="516.0" width="536.6999999999999" height="16.200000000000045" fill="rgb(120,135,170)" fill-opacity="0.3"/><path d="M73.6,492.8H610.3M73.6,532.2H610.3" stroke="#7f819c" stroke-width="1.6"/><path d="M73.6,492.8V532.2" stroke="#b9b8d0" stroke-width="1.4"/><rect x="69.39999999999999" y="500" width="8.4" height="25" rx="3" fill="#3a3859" stroke="#a9a7c4" stroke-width="1.4"/><path d="M610.3,492.8V532.2" stroke="#b9b8d0" stroke-width="1.4"/><rect x="606.0999999999999" y="500" width="8.4" height="25" rx="3" fill="#3a3859" stroke="#a9a7c4" stroke-width="1.4"/><path d="M471.3,87.3V89.8M471.3,93.6V107.1H486.8V91.8H476.2M466.3,91.8H474M509,86.6L503.8,91.8L509,97M503.8,91.8H520.4V107.1H504.6V97.8M537.5,99.0A10.3,10.3 0 0 1 556.8999999999999,93.0M558.0999999999999,96.0A10.3,10.3 0 0 1 538.7,102.0M558.3999999999999,88.0V93.5H552.5999999999999M537.2,107.0V101.5H543.0M584.1,87V103M574.9,95.2L584.1,103.6L593,95.2M574.9,101.8V107.7H593V101.8M610.9,87.3H620.5L625,91.9V107.7H610.9ZM613.2,93.6H617M613.2,98H622.2M613.2,102.5H622.2" fill="none" stroke="#8f8da4" stroke-width="1.5"/><rect x="592" y="22" width="42.5" height="42.5" rx="8" fill="#222227"/><path d="M606.3,40.6 V36.6 Q606.3,35.1 607.8,35.1 H611.8 M616.0999999999999,35.1 H620.0999999999999 Q621.5999999999999,35.1 621.5999999999999,36.6 V40.6 M621.5999999999999,44.900000000000006 V48.900000000000006 Q621.5999999999999,50.400000000000006 620.0999999999999,50.400000000000006 H616.0999999999999 M611.8,50.400000000000006 H607.8 Q606.3,50.400000000000006 606.3,48.900000000000006 V44.900000000000006" fill="none" stroke="#f6a583" stroke-width="3" stroke-linecap="round"/></svg><div class="ttl">scalar "layer 7 mean"</div></div><div class="card" style="left:2439px;top:1849px"><svg width="663" height="570" viewBox="0 0 663 570" font-family='"Liberation Sans", sans-serif'><defs><clipPath id="clipL"><rect x="29" y="0" width="600" height="570"/></clipPath><clipPath id="clipP"><rect x="63.0" y="96.5" width="551.8" height="427.5"/></clipPath></defs><path d="M69.0,104.5H608.8M69.0,163.3H608.8M69.0,222.1H608.8M69.0,280.9H608.8M69.0,339.6H608.8M69.0,398.4H608.8M69.0,457.2H608.8M175.2,104.5V516.0M283.6,104.5V516.0M392.0,104.5V516.0M500.4,104.5V516.0M608.8,104.5V516.0" stroke="#37363f" stroke-width="1.5" fill="none"/><path d="M69.0,104.5V516.0M62.0,104.5H69.0M62.0,163.3H69.0M62.0,222.1H69.0M62.0,280.9H69.0M62.0,339.6H69.0M62.0,398.4H69.0M62.0,457.2H69.0M62.0,516.0H69.0M69.0,516.0H608.8M69.0,516.0V523.0M175.2,516.0V523.0M283.6,516.0V523.0M392.0,516.0V523.0M500.4,516.0V523.0M608.8,516.0V523.0" stroke="#aeadc4" stroke-width="1.4" fill="none"/><g clip-path="url(#clipL)" fill="#a3a2b0" font-size="18" text-anchor="end"><text x="57.0" y="108.7">7</text><text x="57.0" y="167.5">6</text><text x="57.0" y="226.3">5</text><text x="57.0" y="285.1">4</text><text x="57.0" y="343.8">3</text><text x="57.0" y="402.6">2</text><text x="57.0" y="461.4">1</text><text x="57.0" y="520.2">0</text></g><g fill="#a3a2b0" font-size="18" text-anchor="middle" letter-spacing="-0.3"><text x="69.0" y="539.5">20</text><text x="175.2" y="539.5">1,000</text><text x="283.6" y="539.5">2,000</text><text x="392.0" y="539.5">3,000</text><text x="500.4" y="539.5">4,000</text><text x="608.8" y="539.5">5,000</text></g><rect x="72.5" y="483.5" width="539.0" height="8.5" rx="2" fill="rgb(112,114,128)" fill-opacity="0.5"/><path d="M338.45,485.5v4.5M341.95,485.5v4.5M345.45,485.5v4.5" stroke="#e8e8ee" stroke-width="1.6"/><rect x="73.6" y="492.8" width="536.6999999999999" height="39.400000000000034" fill="rgb(80,100,140)" fill-opacity="0.3"/><rect x="73.6" y="516.0" width="536.6999999999999" height="16.200000000000045" fill="rgb(120,135,170)" fill-opacity="0.3"/><path d="M73.6,492.8H610.3M73.6,532.2H610.3" stroke="#7f819c" stroke-width="1.6"/><path d="M73.6,492.8V532.2" stroke="#b9b8d0" stroke-width="1.4"/><rect x="69.39999999999999" y="500" width="8.4" height="25" rx="3" fill="#3a3859" stroke="#a9a7c4" stroke-width="1.4"/><path d="M610.3,492.8V532.2" stroke="#b9b8d0" stroke-width="1.4"/><rect x="606.0999999999999" y="500" width="8.4" height="25" rx="3" fill="#3a3859" stroke="#a9a7c4" stroke-width="1.4"/><path d="M471.3,87.3V89.8M471.3,93.6V107.1H486.8V91.8H476.2M466.3,91.8H474M509,86.6L503.8,91.8L509,97M503.8,91.8H520.4V107.1H504.6V97.8M537.5,99.0A10.3,10.3 0 0 1 556.8999999999999,93.0M558.0999999999999,96.0A10.3,10.3 0 0 1 538.7,102.0M558.3999999999999,88.0V93.5H552.5999999999999M537.2,107.0V101.5H543.0M584.1,87V103M574.9,95.2L584.1,103.6L593,95.2M574.9,101.8V107.7H593V101.8M610.9,87.3H620.5L625,91.9V107.7H610.9ZM613.2,93.6H617M613.2,98H622.2M613.2,102.5H622.2" fill="none" stroke="#8f8da4" stroke-width="1.5"/><rect x="592" y="22" width="42.5" height="42.5" rx="8" fill="#222227"/><path d="M606.3,40.6 V36.6 Q606.3,35.1 607.8,35.1 H611.8 M616.0999999999999,35.1 H620.0999999999999 Q621.5999999999999,35.1 621.5999999999999,36.6 V40.6 M621.5999999999999,44.900000000000006 V48.900000000000006 Q621.5999999999999,50.400000000000006 620.0999999999999,50.400000000000006 H616.0999999999999 M611.8,50.400000000000006 H607.8 Q606.3,50.400000000000006 606.3,48.900000000000006 V44.900000000000006" fill="none" stroke="#f6a583" stroke-width="3" stroke-linecap="round"/></svg><div class="ttl">scalar "layer 7 var"</div></div><div class="card" style="left:3135px;top:1849px"><svg width="663" height="570" viewBox="0 0 663 570" font-family='"Liberation Sans", sans-serif'><defs><clipPath id="clipL"><rect x="29" y="0" width="600" height="570"/></clipPath><clipPath id="clipP"><rect x="63.0" y="96.5" width="551.8" height="427.5"/></clipPath></defs><path d="M69.0,186.8H608.8M69.0,269.1H608.8M69.0,351.4H608.8M69.0,433.7H608.8M69.0,516.0H608.8M175.2,104.5V516.0M283.6,104.5V516.0M392.0,104.5V516.0M500.4,104.5V516.0M608.8,104.5V516.0" stroke="#37363f" stroke-width="1.5" fill="none"/><path d="M69.0,104.5V516.0M62.0,104.5H69.0M62.0,186.8H69.0M62.0,269.1H69.0M62.0,351.4H69.0M62.0,433.7H69.0M62.0,516.0H69.0M69.0,104.5H608.8M69.0,104.5V111.5M175.2,104.5V111.5M283.6,104.5V111.5M392.0,104.5V111.5M500.4,104.5V111.5M608.8,104.5V111.5" stroke="#aeadc4" stroke-width="1.4" fill="none"/><g clip-path="url(#clipL)" fill="#a3a2b0" font-size="18" text-anchor="end"><text x="57.0" y="108.7">0</text><text x="57.0" y="191.0">-0.01</text><text x="57.0" y="273.3">-0.02</text><text x="57.0" y="355.6">-0.03</text><text x="57.0" y="437.9">-0.04</text><text x="57.0" y="520.2">-0.05</text></g><g fill="#a3a2b0" font-size="18" text-anchor="middle" letter-spacing="-0.3"><text x="69.0" y="539.5">20</text><text x="175.2" y="539.5">1,000</text><text x="283.6" y="539.5">2,000</text><text x="392.0" y="539.5">3,000</text><text x="500.4" y="539.5">4,000</text><text x="608.8" y="539.5">5,000</text></g><rect x="72.5" y="483.5" width="539.0" height="8.5" rx="2" fill="rgb(112,114,128)" fill-opacity="0.5"/><path d="M338.45,485.5v4.5M341.95,485.5v4.5M345.45,485.5v4.5" stroke="#e8e8ee" stroke-width="1.6"/><rect x="73.6" y="492.8" width="536.6999999999999" height="39.400000000000034" fill="rgb(80,100,140)" fill-opacity="0.3"/><rect x="73.6" y="516.0" width="536.6999999999999" height="16.200000000000045" fill="rgb(120,135,170)" fill-opacity="0.3"/><path d="M73.6,492.8H610.3M73.6,532.2H610.3" stroke="#7f819c" stroke-width="1.6"/><path d="M73.6,492.8V532.2" stroke="#b9b8d0" stroke-width="1.4"/><rect x="69.39999999999999" y="500" width="8.4" height="25" rx="3" fill="#3a3859" stroke="#a9a7c4" stroke-width="1.4"/><path d="M610.3,492.8V532.2" stroke="#b9b8d0" stroke-width="1.4"/><rect x="606.0999999999999" y="500" width="8.4" height="25" rx="3" fill="#3a3859" stroke="#a9a7c4" stroke-width="1.4"/><path d="M471.3,87.3V89.8M471.3,93.6V107.1H486.8V91.8H476.2M466.3,91.8H474M509,86.6L503.8,91.8L509,97M503.8,91.8H520.4V107.1H504.6V97.8M537.5,99.0A10.3,10.3 0 0 1 556.8999999999999,93.0M558.0999999999999,96.0A10.3,10.3 0 0 1 538.7,102.0M558.3999999999999,88.0V93.5H552.5999999999999M537.2,107.0V101.5H543.0M584.1,87V103M574.9,95.2L584.1,103.6L593,95.2M574.9,101.8V107.7H593V101.8M610.9,87.3H620.5L625,91.9V107.7H610.9ZM613.2,93.6H617M613.2,98H622.2M613.2,102.5H622.2" fill="none" stroke="#8f8da4" stroke-width="1.5"/><rect x="592" y="22" width="42.5" height="42.5" rx="8" fill="#222227"/><path d="M606.3,40.6 V36.6 Q606.3,35.1 607.8,35.1 H611.8 M616.0999999999999,35.1 H620.0999999999999 Q621.5999999999999,35.1 621.5999999999999,36.6 V40.6 M621.5999999999999,44.900000000000006 V48.900000000000006 Q621.5999999999999,50.400000000000006 620.0999999999999,50.400000000000006 H616.0999999999999 M611.8,50.400000000000006 H607.8 Q606.3,50.400000000000006 606.3,48.900000000000006 V44.900000000000006" fill="none" stroke="#f6a583" stroke-width="3" stroke-linecap="round"/></svg><div class="ttl">scalar "layer 8 mean"</div></div><div class="topline"></div><div class="hdr"></div><svg style="position:absolute;left:28px;top:16px" width="52" height="54" viewBox="0 0 1264 1313">
<path d="M625,120 L1125,395 L1125,965 L625,1240 L140,965 L140,395 Z" fill="#020b2e" stroke="#020b2e" stroke-width="26" stroke-linejoin="round"/>
<path d="M250,385 L625,178 L1010,392" fill="none" stroke="#5a9df0" stroke-width="62"/>
<path d="M630,290L725,350L630,410L535,350Z" fill="#f2106b"/>
<path d="M630,475L725,532L630,592L535,532Z" fill="#f2106b"/>
<path d="M485,385L580,442L485,502L390,442Z" fill="#1273f2"/>
<path d="M775,385L870,442L775,502L680,442Z" fill="#1273f2"/>
<path d="M200,520 L515,695 Q548,715 548,750 L548,1150" fill="none" stroke="#f7993a" stroke-width="58" stroke-linecap="round"/>
<g fill="#f8c200"><ellipse cx="222" cy="702" rx="34" ry="52" transform="rotate(-28 222 702)"/><ellipse cx="322" cy="765" rx="34" ry="52" transform="rotate(-28 322 765)"/><ellipse cx="422" cy="832" rx="34" ry="52" transform="rotate(-28 422 832)"/></g>
<g fill="#f25a2a"><ellipse cx="226" cy="872" rx="34" ry="52" transform="rotate(-28 226 872)"/><ellipse cx="326" cy="937" rx="34" ry="52" transform="rotate(-28 326 937)"/><ellipse cx="424" cy="1002" rx="34" ry="52" transform="rotate(-28 424 1002)"/></g>
<path d="M732,718L800,680L800,930L732,968Z" fill="#00c97a"/>
<path d="M845,650L918,608L918,862L845,902Z" fill="#22b04e"/>
<path d="M955,588L1032,545L1032,800L955,842Z" fill="#4fb300"/>
<path d="M732,1030L1030,858L1030,905L732,1078Z" fill="#5cd98a"/>
</svg>
<div class="t" style="left:88px;top:19px;font-size:46px;line-height:54px;color:#231f20;transform:scaleX(0.854);transform-origin:0 0">NEETBOX</div>
<div class="t" id="ptitle" style="left:1023px;top:24.5px;font-size:39px;line-height:44px;color:#241f20;font-weight:normal;letter-spacing:-0.3px;-webkit-text-stroke:1.1px #241f20">test bert(s)</div>

<div class="btn" style="left:1956px;width:311px"></div>
<div class="t" style="left:1974px;top:31px;width:72px;height:27px;background:#463a2c;border-radius:5px"></div>
<div class="t" style="left:1985px;top:36px;font-size:16px;line-height:20px;color:#f3e3c4">History</div>
<div class="t" id="date" style="left:2051px;top:35px;font-size:18px;line-height:24px;color:#fafafa;letter-spacing:0.3px">2024-11-10 16:37:23</div>
<svg style="position:absolute;left:2234px;top:37px" width="20" height="14"><path d="M2.5,3.5 L9.5,10.5 L16.5,3.5" fill="none" stroke="#a3a3a8" stroke-width="2.6"/></svg>

<div class="btn" style="left:2277px;width:134.5px"></div>
<svg style="position:absolute;left:2295px;top:34px" width="20" height="20"><rect x="1" y="1.3" width="17" height="4.5" rx="1" fill="#fda486"/><path d="M2.3,7.3H16.7V16.5Q16.7,18 15.2,18H3.8Q2.3,18 2.3,16.5Z" fill="#fda486"/><rect x="6.5" y="9.2" width="6" height="1.8" rx="0.9" fill="#232429"/></svg>
<div class="t" style="left:2327px;top:33.5px;font-size:18px;line-height:24px;color:#fda486;font-weight:bold">Manage</div>

<div class="btn" style="left:2423px;width:126px"></div>
<svg style="position:absolute;left:2439px;top:33px" width="21" height="21"><circle cx="10.3" cy="10.4" r="9.6" fill="#fda486"/><circle cx="10.3" cy="5.6" r="1.7" fill="#232429"/><path d="M8.2,8.6H11.4V14.4H12.6V16H8.2V14.4H9.4V10.2H8.2Z" fill="#232429"/></svg>
<div class="t" style="left:2472px;top:33.5px;font-size:18px;line-height:24px;color:#fda486;font-weight:bold;letter-spacing:-0.6px">Params</div>

<div class="btn" style="left:2560px;width:107px;border-radius:7px 0 0 7px"></div>
<svg style="position:absolute;left:2577px;top:34px" width="20" height="20"><rect x="1" y="0.8" width="18" height="18.2" rx="3" fill="#fda486"/><path d="M5,6H15M5,10H15M5,14H11" stroke="#232429" stroke-width="1.8"/></svg>
<div class="t" style="left:2610px;top:33.5px;font-size:18px;line-height:24px;color:#fda486;font-weight:bold">Note</div>
<div class="btn" style="left:2669px;width:43px;border-radius:0 7px 7px 0"></div>
<svg style="position:absolute;left:2680px;top:34px" width="20" height="20"><path d="M2,17.8 L3,13 L13,3 L17,7 L7,17 Z" fill="#fda486"/><path d="M14.2,1.8 L15.6,0.6 Q16.4,0 17.2,0.8 L19.2,2.8 Q20,3.6 19.4,4.4 L18.2,5.8 Z" fill="#fda486"/></svg>

<div class="t" style="left:3652px;top:26px;width:72px;height:43px;border-radius:22px;background:rgba(120,60,40,0.07);filter:blur(4px)"></div>
<div class="t" style="left:3649px;top:20px;width:73px;height:43px;border-radius:21.5px;background:#221b1c"></div>
<div class="t" style="left:3654px;top:25px;width:33px;height:33px;border-radius:50%;background:#fff"></div>
<svg style="position:absolute;left:3692px;top:31.5px" width="22" height="22"><circle cx="11.2" cy="11" r="9.3" fill="#6a4c9a"/><g fill="#563a7e"><circle cx="10.4" cy="3.9" r="1.4"/><circle cx="3.5" cy="12.2" r="1.3"/><circle cx="7" cy="16.5" r="1.2"/><circle cx="15.4" cy="17.5" r="1.4"/></g><path d="M4.7,7.2 Q5.3,5.4 7.4,5.1 M14.6,4.9 Q16.7,5.3 17.3,7.2" stroke="#2e1c44" stroke-width="1.2" fill="none" stroke-linecap="round"/><path d="M3.4,10.4 Q6.4,9.4 9.4,10.4 Q7.6,13 5.8,12.6 Q4.2,12.2 3.4,10.4Z M11.8,10.4 Q14.8,9.4 17.8,10.4 Q16,13 14.2,12.6 Q12.6,12.2 11.8,10.4Z" fill="#c9c4c4"/><circle cx="8.4" cy="10.1" r="1.1" fill="#2a1040"/><circle cx="15.6" cy="10.1" r="1.1" fill="#2a1040"/><path d="M8,14 Q11.2,16.6 14.2,14" stroke="#3e275a" stroke-width="1.3" fill="none" stroke-linecap="round"/></svg>
<div class="t" style="left:3733px;top:20px;width:80px;height:43px;border-radius:8px;background:#3b3131"></div>
<div class="t" style="left:3749px;top:31px;font-size:17px;line-height:24px;color:#8f8b8b;font-weight:bold">Login</div>
<div class="side"></div><div class="sideb"></div><svg style="position:absolute;left:28px;top:115px" width="26" height="26"><path d="M12.3,1.3 L24,11.5 V22.2 Q24,24 22.2,24 H17.2 V17.5 Q17.2,14.3 12.3,14.3 Q7.4,14.3 7.4,17.5 V24 H2.4 Q0.6,24 0.6,22.2 V11.5 Z" fill="#a3a3a5"/></svg>
<div class="t" style="left:71px;top:117px;font-size:18px;line-height:24px;color:#fafafa;font-weight:bold">Overview</div>
<svg style="position:absolute;left:28px;top:175px" width="26" height="26"><rect x="1" y="1.3" width="23" height="5.4" rx="2.7" fill="#fda083"/><rect x="1" y="10" width="23" height="5.4" rx="2.7" fill="#fda083"/><rect x="1" y="18.3" width="23" height="5.6" rx="2.8" fill="#fda083"/></svg>
<div class="t" style="left:71px;top:177px;font-size:18px;line-height:24px;color:#fafafa;font-weight:bold;letter-spacing:-0.4px">Projects</div>
<svg style="position:absolute;left:275px;top:179px" width="20" height="14"><path d="M3,11 L9.7,4.3 L16.4,11" fill="none" stroke="#9c9c9e" stroke-width="2.6"/></svg>
<div class="t" style="left:11px;top:757px;width:301px;height:48px;border-radius:8px;background:#4f3233"></div>
<div class="item" style="top:237.5px;line-height:22px">finetune-berts</div>
<div class="item" style="top:297.1px;line-height:22px">lab1</div>
<div class="item" style="top:356.7px;line-height:22px">bert-conll03</div>
<div class="item" style="top:416.3px;line-height:22px">csc791-030 lab2</div>
<div class="item" style="top:475.9px;line-height:22px">tokenizer statistics llama...</div>
<div class="item" style="top:535.5px;line-height:22px">finetune-berts</div>
<div class="item" style="top:595.1px;line-height:22px">naive-llm-from-scratch</div>
<div class="item" style="top:654.7px;line-height:22px">hedecoder-tests</div>
<div class="item" style="top:714.3px;line-height:22px">Terahertz_No22_Gl261_gl...</div>
<div class="item" style="top:773.9px;line-height:22px">test bert(s)</div>
<div class="item" style="top:833.5px;line-height:22px">Trm_Noise</div>

<svg style="position:absolute;left:33px;top:1906px" width="20" height="20"><rect x="1" y="1" width="17.4" height="17.4" rx="2" fill="#d9d9db"/><rect x="2.9" y="2.8" width="4.6" height="13.8" rx="0.8" fill="#232429"/></svg>
<div class="t" style="left:71px;top:1904px;font-size:18px;line-height:24px;color:#e6e6e8;font-weight:bold;letter-spacing:-0.2px">Collapse Sidebar</div>
<div class="sb"></div><div class="sbt"></div></div></body></html>
